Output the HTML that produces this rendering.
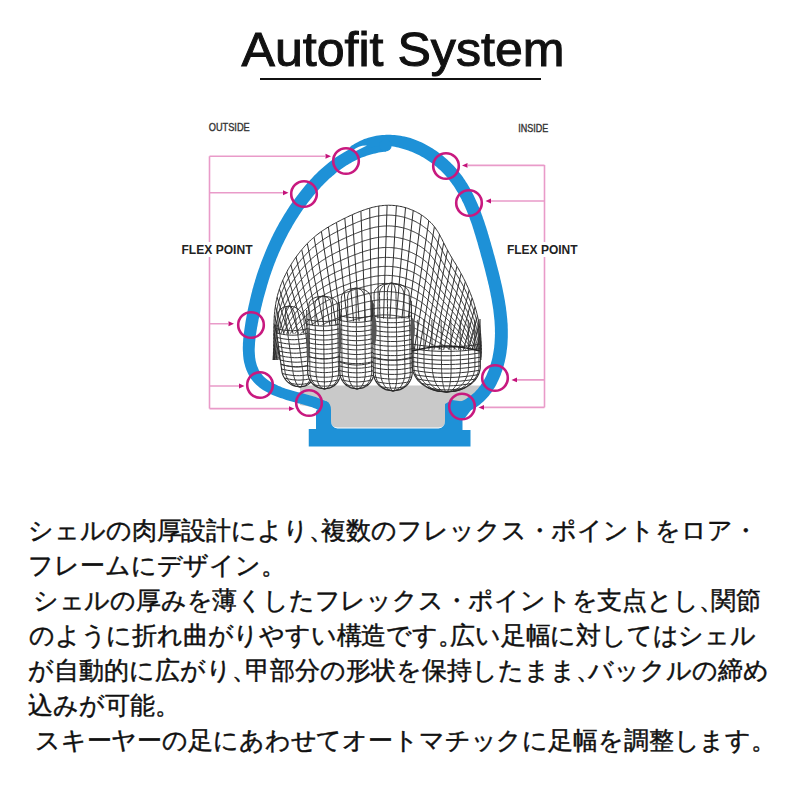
<!DOCTYPE html>
<html><head><meta charset="utf-8">
<style>
html,body{margin:0;padding:0;background:#fff;width:800px;height:800px;overflow:hidden}
body{position:relative;font-family:"Liberation Sans",sans-serif}
svg{position:absolute;left:0;top:0}
.p{margin-right:-12.5px}
.jp{position:absolute;left:28px;font-size:25px;line-height:25px;color:#111;white-space:nowrap;-webkit-text-stroke:0.45px #111}
</style></head><body>
<svg width="800" height="800" viewBox="0 0 800 800">
  <text x="241.5" y="65.6" font-family="Liberation Sans" font-size="49" fill="#111" stroke="#111" stroke-width="1" textLength="323" lengthAdjust="spacingAndGlyphs">Autofit System</text>
  <rect x="260" y="78" width="281" height="2" fill="#111"/>
  <!-- pink bracket lines -->
  <g stroke="#e99bc9" stroke-width="1.6" fill="none">
    <path d="M209.5 156.25V408.6"/>
    <path d="M209.5 156.25H325M209.5 192.75H283M209.5 323.75H228M209.5 386H239M209.5 408.65H289"/>
    <path d="M544.5 165V407.4"/>
    <path d="M544.5 165.4H468M544.5 201H491M544.5 379.9H517M544.5 407.4H484"/>
  </g>
  <g fill="#c4127a">
    <path d="M331 156.25l-5.5 -2.4v4.8z"/>
    <path d="M288.5 192.75l-5.5 -2.4v4.8z"/>
    <path d="M234 323.75l-5.5 -2.4v4.8z"/>
    <path d="M244.5 386l-5.5 -2.4v4.8z"/>
    <path d="M294.5 408.65l-5.5 -2.4v4.8z"/>
    <path d="M462 165.4l5.5 -2.4v4.8z"/>
    <path d="M485.5 201l5.5 -2.4v4.8z"/>
    <path d="M511.5 379.9l5.5 -2.4v4.8z"/>
    <path d="M478.5 407.4l5.5 -2.4v4.8z"/>
  </g>
  <rect x="178" y="242" width="78" height="15" fill="#fff"/>
  <rect x="503" y="242" width="78" height="15" fill="#fff"/>
  <text x="181.5" y="254.4" font-family="Liberation Sans" font-weight="bold" font-size="13.7" fill="#222" textLength="71" lengthAdjust="spacingAndGlyphs">FLEX POINT</text>
  <text x="507" y="254.4" font-family="Liberation Sans" font-weight="bold" font-size="13.7" fill="#222" textLength="70.5" lengthAdjust="spacingAndGlyphs">FLEX POINT</text>
  <text x="208.75" y="131.3" font-family="Liberation Sans" font-size="10.2" fill="#333" stroke="#333" stroke-width="0.35" textLength="41" lengthAdjust="spacingAndGlyphs">OUTSIDE</text>
  <text x="518.3" y="131.7" font-family="Liberation Sans" font-size="10.2" fill="#333" stroke="#333" stroke-width="0.35" textLength="30" lengthAdjust="spacingAndGlyphs">INSIDE</text>
  <!-- gray insole -->
  <path d="M300 385.5H480V402L445 412V421Q445 427.5 438.5 427.5H337.5Q331 427.5 331 421V410L300 405Z" fill="#c9c9c9"/>
  <!--FOOT--><g id="foot">
<path d="M273.0,360.0L273.1,358.6L273.2,357.2L273.3,355.9L273.4,354.5L273.4,353.1L273.5,351.7L273.5,350.3L273.6,349.0L273.6,347.6L273.6,346.2L273.6,344.8L273.7,343.4L273.7,342.1L273.7,340.7L273.7,339.3L273.7,337.9L273.7,336.5L273.7,335.1L273.7,333.8L273.8,332.4L273.8,331.0L273.8,329.6L273.8,328.2L273.8,326.9L273.9,325.5L273.9,324.1L274.0,322.7L274.0,321.3L274.1,320.0L274.2,318.6L274.2,317.2L274.3,315.8L274.4,314.4L274.6,313.1L274.7,311.7L274.8,310.3L275.0,308.9L275.2,307.6L275.4,306.2L275.6,304.8L275.8,303.5L276.0,302.1L276.3,300.8L276.6,299.4L276.9,298.0L277.2,296.7L277.5,295.4L277.9,294.0L278.3,292.7L278.7,291.4L279.1,290.1L279.5,288.7L280.0,287.4L280.4,286.1L280.9,284.8L281.4,283.6L281.9,282.3L282.5,281.0L283.0,279.7L283.6,278.5L284.2,277.2L284.8,276.0L285.4,274.7L286.0,273.5L286.6,272.3L287.3,271.1L287.9,269.8L288.6,268.6L289.3,267.4L290.0,266.3L290.7,265.1L291.5,263.9L292.2,262.7L293.0,261.6L293.7,260.4L294.5,259.3L295.3,258.1L296.1,257.0L296.9,255.9L297.7,254.8L298.5,253.7L299.4,252.6L300.2,251.5L301.1,250.4L302.0,249.4L302.9,248.3L303.8,247.3L304.7,246.2L305.7,245.2L306.6,244.2L307.6,243.2L308.5,242.2L309.5,241.3L310.5,240.3L311.5,239.4L312.6,238.5L313.6,237.6L314.7,236.7L315.7,235.8L316.8,234.9L317.9,234.1L319.0,233.3L320.1,232.4L321.2,231.6L322.4,230.8L323.5,230.1L324.7,229.3L325.8,228.6L327.0,227.8L328.2,227.1L329.4,226.4L330.6,225.7L331.8,225.0L333.0,224.3L334.2,223.7L335.4,223.0L336.6,222.4L337.8,221.7L339.1,221.1L340.3,220.5L341.5,219.8L342.8,219.2L344.0,218.6L345.3,218.0L346.5,217.4L347.7,216.8L349.0,216.2L350.2,215.6L351.5,215.1L352.8,214.5L354.0,213.9L355.3,213.4L356.6,212.8L357.8,212.3L359.1,211.8L360.4,211.3L361.7,210.8L363.0,210.3L364.3,209.9L365.6,209.4L366.9,209.0L368.2,208.6L369.6,208.2L370.9,207.8L372.2,207.4L373.6,207.1L374.9,206.8L376.3,206.5L377.6,206.3L379.0,206.0L380.4,205.8L381.7,205.7L383.1,205.5L384.5,205.4L385.9,205.3L387.2,205.3L388.6,205.2L390.0,205.3L391.4,205.3L392.8,205.4L394.1,205.5L395.5,205.6L396.9,205.8L398.2,206.0L399.6,206.3L401.0,206.5L402.3,206.8L403.7,207.2L405.0,207.5L406.3,207.9L407.6,208.3L408.9,208.8L410.2,209.3L411.5,209.8L412.8,210.3L414.0,210.9L415.3,211.5L416.5,212.1L417.7,212.8L419.0,213.4L420.1,214.1L421.3,214.9L422.5,215.6L423.6,216.4L424.7,217.3L425.8,218.1L426.9,219.0L427.9,219.9L428.9,220.8L429.9,221.8L430.9,222.7L431.9,223.7L432.8,224.8L433.7,225.8L434.5,226.9L435.4,228.0L436.1,229.2L436.9,230.3L437.7,231.5L438.4,232.6L439.1,233.8L439.7,235.0L440.4,236.3L441.0,237.5L441.7,238.7L442.3,239.9L442.9,241.2L443.5,242.4L444.2,243.7L444.8,244.9L445.4,246.1L446.0,247.4L446.7,248.6L447.3,249.8L448.0,251.0L448.6,252.2L449.3,253.4L450.0,254.6L450.7,255.8L451.4,257.0L452.1,258.2L452.8,259.4L453.5,260.6L454.2,261.8L455.0,262.9L455.7,264.1L456.4,265.3L457.1,266.5L457.8,267.7L458.5,268.9L459.2,270.1L459.8,271.3L460.5,272.5L461.2,273.7L461.8,274.9L462.5,276.1L463.1,277.4L463.7,278.6L464.4,279.8L465.0,281.1L465.6,282.3L466.2,283.6L466.7,284.8L467.3,286.1L467.9,287.3L468.4,288.6L469.0,289.9L469.5,291.2L470.0,292.4L470.5,293.7L471.0,295.0L471.5,296.3L472.0,297.6L472.5,298.9L472.9,300.2L473.4,301.5L473.8,302.8L474.2,304.1L474.6,305.5L475.0,306.8L475.4,308.1L475.8,309.4L476.2,310.8L476.5,312.1L476.9,313.4L477.2,314.8L477.5,316.1L477.8,317.5L478.1,318.8L478.4,320.2L478.7,321.5L478.9,322.9L479.2,324.2L479.4,325.6L479.6,327.0L479.8,328.3L480.0,329.7L480.2,331.1L480.4,332.4L480.6,333.8L480.7,335.2L480.8,336.6L480.9,337.9L481.0,339.3L481.1,340.7L481.2,342.1L481.3,343.5L481.3,344.8L481.4,346.2L481.4,347.6L481.4,349.0L481.4,350.4L481.4,351.7L481.3,353.1L481.3,354.5L481.2,355.9L481.1,357.3L481.0,358.6L480.9,360.0Z" fill="#fff"/>
<clipPath id="dc"><path d="M273.0,360.0L273.1,358.6L273.2,357.2L273.3,355.9L273.4,354.5L273.4,353.1L273.5,351.7L273.5,350.3L273.6,349.0L273.6,347.6L273.6,346.2L273.6,344.8L273.7,343.4L273.7,342.1L273.7,340.7L273.7,339.3L273.7,337.9L273.7,336.5L273.7,335.1L273.7,333.8L273.8,332.4L273.8,331.0L273.8,329.6L273.8,328.2L273.8,326.9L273.9,325.5L273.9,324.1L274.0,322.7L274.0,321.3L274.1,320.0L274.2,318.6L274.2,317.2L274.3,315.8L274.4,314.4L274.6,313.1L274.7,311.7L274.8,310.3L275.0,308.9L275.2,307.6L275.4,306.2L275.6,304.8L275.8,303.5L276.0,302.1L276.3,300.8L276.6,299.4L276.9,298.0L277.2,296.7L277.5,295.4L277.9,294.0L278.3,292.7L278.7,291.4L279.1,290.1L279.5,288.7L280.0,287.4L280.4,286.1L280.9,284.8L281.4,283.6L281.9,282.3L282.5,281.0L283.0,279.7L283.6,278.5L284.2,277.2L284.8,276.0L285.4,274.7L286.0,273.5L286.6,272.3L287.3,271.1L287.9,269.8L288.6,268.6L289.3,267.4L290.0,266.3L290.7,265.1L291.5,263.9L292.2,262.7L293.0,261.6L293.7,260.4L294.5,259.3L295.3,258.1L296.1,257.0L296.9,255.9L297.7,254.8L298.5,253.7L299.4,252.6L300.2,251.5L301.1,250.4L302.0,249.4L302.9,248.3L303.8,247.3L304.7,246.2L305.7,245.2L306.6,244.2L307.6,243.2L308.5,242.2L309.5,241.3L310.5,240.3L311.5,239.4L312.6,238.5L313.6,237.6L314.7,236.7L315.7,235.8L316.8,234.9L317.9,234.1L319.0,233.3L320.1,232.4L321.2,231.6L322.4,230.8L323.5,230.1L324.7,229.3L325.8,228.6L327.0,227.8L328.2,227.1L329.4,226.4L330.6,225.7L331.8,225.0L333.0,224.3L334.2,223.7L335.4,223.0L336.6,222.4L337.8,221.7L339.1,221.1L340.3,220.5L341.5,219.8L342.8,219.2L344.0,218.6L345.3,218.0L346.5,217.4L347.7,216.8L349.0,216.2L350.2,215.6L351.5,215.1L352.8,214.5L354.0,213.9L355.3,213.4L356.6,212.8L357.8,212.3L359.1,211.8L360.4,211.3L361.7,210.8L363.0,210.3L364.3,209.9L365.6,209.4L366.9,209.0L368.2,208.6L369.6,208.2L370.9,207.8L372.2,207.4L373.6,207.1L374.9,206.8L376.3,206.5L377.6,206.3L379.0,206.0L380.4,205.8L381.7,205.7L383.1,205.5L384.5,205.4L385.9,205.3L387.2,205.3L388.6,205.2L390.0,205.3L391.4,205.3L392.8,205.4L394.1,205.5L395.5,205.6L396.9,205.8L398.2,206.0L399.6,206.3L401.0,206.5L402.3,206.8L403.7,207.2L405.0,207.5L406.3,207.9L407.6,208.3L408.9,208.8L410.2,209.3L411.5,209.8L412.8,210.3L414.0,210.9L415.3,211.5L416.5,212.1L417.7,212.8L419.0,213.4L420.1,214.1L421.3,214.9L422.5,215.6L423.6,216.4L424.7,217.3L425.8,218.1L426.9,219.0L427.9,219.9L428.9,220.8L429.9,221.8L430.9,222.7L431.9,223.7L432.8,224.8L433.7,225.8L434.5,226.9L435.4,228.0L436.1,229.2L436.9,230.3L437.7,231.5L438.4,232.6L439.1,233.8L439.7,235.0L440.4,236.3L441.0,237.5L441.7,238.7L442.3,239.9L442.9,241.2L443.5,242.4L444.2,243.7L444.8,244.9L445.4,246.1L446.0,247.4L446.7,248.6L447.3,249.8L448.0,251.0L448.6,252.2L449.3,253.4L450.0,254.6L450.7,255.8L451.4,257.0L452.1,258.2L452.8,259.4L453.5,260.6L454.2,261.8L455.0,262.9L455.7,264.1L456.4,265.3L457.1,266.5L457.8,267.7L458.5,268.9L459.2,270.1L459.8,271.3L460.5,272.5L461.2,273.7L461.8,274.9L462.5,276.1L463.1,277.4L463.7,278.6L464.4,279.8L465.0,281.1L465.6,282.3L466.2,283.6L466.7,284.8L467.3,286.1L467.9,287.3L468.4,288.6L469.0,289.9L469.5,291.2L470.0,292.4L470.5,293.7L471.0,295.0L471.5,296.3L472.0,297.6L472.5,298.9L472.9,300.2L473.4,301.5L473.8,302.8L474.2,304.1L474.6,305.5L475.0,306.8L475.4,308.1L475.8,309.4L476.2,310.8L476.5,312.1L476.9,313.4L477.2,314.8L477.5,316.1L477.8,317.5L478.1,318.8L478.4,320.2L478.7,321.5L478.9,322.9L479.2,324.2L479.4,325.6L479.6,327.0L479.8,328.3L480.0,329.7L480.2,331.1L480.4,332.4L480.6,333.8L480.7,335.2L480.8,336.6L480.9,337.9L481.0,339.3L481.1,340.7L481.2,342.1L481.3,343.5L481.3,344.8L481.4,346.2L481.4,347.6L481.4,349.0L481.4,350.4L481.4,351.7L481.3,353.1L481.3,354.5L481.2,355.9L481.1,357.3L481.0,358.6L480.9,360.0Z"/></clipPath>
<g clip-path="url(#dc)">
<path d="M273.5,350.7L277.7,385.0M273.7,342.4L281.9,385.0M273.7,333.1L286.6,385.0M273.9,323.8L291.2,385.0M274.4,315.5L295.4,385.0M275.3,306.2L300.1,385.0M277.1,297.1L304.8,385.0M279.4,289.1L309.0,385.0M282.7,280.4L313.7,385.0M286.8,272.0L318.4,385.0M290.9,264.9L322.5,385.0M296.0,257.1L327.2,385.0M301.7,249.7L331.9,385.0M307.3,243.6L336.1,385.0M314.0,237.2L340.8,385.0M321.4,231.5L345.5,385.0M328.4,227.0L349.6,385.0M336.5,222.4L354.3,385.0M344.8,218.2L359.0,385.0M352.3,214.7L363.2,385.0M360.9,211.1L367.9,385.0M369.7,208.1L372.6,385.0M378.8,206.1L377.3,385.0M387.1,205.3L381.4,385.0M396.4,205.8L386.1,385.0M405.5,207.7L390.8,385.0M413.2,210.5L395.0,385.0M421.4,215.0L399.7,385.0M428.8,220.7L404.4,385.0M434.4,226.7L408.5,385.0M439.5,234.5L413.2,385.0M443.7,242.8L417.9,385.0M447.5,250.2L422.1,385.0M452.2,258.3L426.8,385.0M456.9,266.3L431.5,385.0M461.1,273.5L435.6,385.0M465.3,281.8L440.3,385.0M469.1,290.3L445.0,385.0M472.1,298.0L449.2,385.0M475.1,306.8L453.9,385.0M477.5,315.8L458.6,385.0M479.1,323.9L462.8,385.0M480.5,333.2L467.4,385.0M481.2,342.4L472.1,385.0M481.4,350.7L476.3,385.0M273.0,361.4L273.1,360.4L273.2,359.4L273.3,358.4L273.4,357.5L273.5,356.5L273.5,355.5L273.6,354.5L273.7,353.6L273.7,352.6L273.8,351.6L273.9,350.6L273.9,349.6L274.0,348.7L274.0,347.7L274.0,346.7L274.1,345.7L274.1,344.8L274.2,343.8L274.2,342.8L274.2,341.8L274.3,340.8L274.3,339.9L274.3,338.9L274.4,337.9L274.4,336.9L274.5,336.0L274.5,335.0L274.5,334.0L274.6,333.0L274.6,332.0L274.7,331.1L274.7,330.1L274.8,329.1L274.8,328.1L274.9,327.1L274.9,326.2L275.0,325.2L275.1,324.2L275.2,323.2L275.2,322.3L275.3,321.3L275.4,320.3L275.5,319.3L275.6,318.4L275.7,317.4L275.8,316.4L276.0,315.4L276.1,314.5L276.2,313.5L276.4,312.5L276.5,311.5L276.7,310.6L276.9,309.6L277.1,308.6L277.3,307.7L277.5,306.7L277.7,305.8L277.9,304.8L278.1,303.8L278.4,302.9L278.6,301.9L278.9,301.0L279.2,300.0L279.4,299.1L279.7,298.1L280.0,297.2L280.4,296.3L280.7,295.3L281.0,294.4L281.4,293.5L281.7,292.6L282.1,291.6L282.4,290.7L282.8,289.8L283.2,288.9L283.6,288.0L284.0,287.1L284.4,286.2L284.8,285.3L285.3,284.4L285.7,283.5L286.1,282.6L286.6,281.7L287.1,280.9L287.5,280.0L288.0,279.1L288.5,278.2L289.0,277.4L289.5,276.5L290.0,275.7L290.5,274.8L291.0,274.0L291.5,273.1L292.1,272.3L292.6,271.5L293.2,270.6L293.7,269.8L294.3,269.0L294.8,268.2L295.4,267.3L296.0,266.5L296.6,265.7L297.1,264.9L297.7,264.1L298.3,263.3L298.9,262.5L299.6,261.8L300.2,261.0L300.8,260.2L301.4,259.4L302.1,258.7L302.7,257.9L303.4,257.2L304.0,256.4L304.7,255.7L305.4,254.9L306.1,254.2L306.7,253.5L307.4,252.8L308.1,252.0L308.8,251.3L309.6,250.6L310.3,249.9L311.0,249.3L311.7,248.6L312.5,247.9L313.2,247.2L314.0,246.6L314.7,246.0L315.5,245.3L316.3,244.7L317.1,244.1L317.9,243.5L318.7,242.8L319.5,242.3L320.3,241.7L321.1,241.1L321.9,240.5L322.8,239.9L323.6,239.4L324.4,238.8L325.3,238.3L326.1,237.8L327.0,237.2L327.8,236.7L328.7,236.2L329.6,235.7L330.4,235.2L331.3,234.7L332.2,234.2L333.0,233.7L333.9,233.2L334.8,232.8L335.7,232.3L336.6,231.8L337.5,231.4L338.4,230.9L339.3,230.5L340.2,230.0L341.1,229.6L342.0,229.1L342.9,228.7L343.8,228.3L344.7,227.8L345.6,227.4L346.5,227.0L347.4,226.5L348.3,226.1L349.2,225.7L350.2,225.3L351.1,224.9L352.0,224.5L352.9,224.1L353.8,223.7L354.8,223.3L355.7,222.9L356.6,222.5L357.5,222.1L358.5,221.7L359.4,221.4L360.3,221.0L361.3,220.7L362.2,220.3L363.2,220.0L364.1,219.7L365.1,219.3L366.0,219.0L367.0,218.7L368.0,218.4L368.9,218.1L369.9,217.9L370.9,217.6L371.8,217.3L372.8,217.1L373.8,216.9L374.8,216.6L375.8,216.4L376.7,216.2L377.7,216.1L378.7,215.9L379.7,215.8L380.7,215.6L381.7,215.5L382.7,215.4L383.7,215.3L384.7,215.2L385.7,215.2L386.7,215.1L387.8,215.1L388.8,215.1L389.8,215.1L390.8,215.2L391.8,215.2L392.8,215.3L393.8,215.4L394.8,215.5L395.8,215.6L396.8,215.8L397.8,215.9L398.8,216.1L399.8,216.3L400.7,216.5L401.7,216.7L402.7,216.9L403.7,217.2L404.7,217.4L405.6,217.7L406.6,218.0L407.5,218.3L408.5,218.7L409.4,219.0L410.4,219.4L411.3,219.7L412.2,220.1L413.1,220.5L414.1,220.9L415.0,221.4L415.9,221.8L416.8,222.3L417.6,222.8L418.5,223.3L419.4,223.8L420.2,224.3L421.1,224.8L421.9,225.4L422.7,226.0L423.5,226.6L424.3,227.2L425.1,227.8L425.9,228.4L426.7,229.0L427.4,229.7L428.2,230.4L428.9,231.0L429.6,231.7L430.3,232.5L431.0,233.2L431.7,233.9L432.3,234.7L433.0,235.4L433.6,236.2L434.2,237.0L434.8,237.8L435.3,238.6L435.9,239.5L436.5,240.3L437.0,241.1L437.5,242.0L438.0,242.8L438.5,243.7L439.0,244.5L439.5,245.4L440.0,246.3L440.5,247.1L440.9,248.0L441.4,248.9L441.9,249.8L442.3,250.6L442.8,251.5L443.3,252.4L443.7,253.3L444.2,254.1L444.7,255.0L445.1,255.9L445.6,256.7L446.1,257.6L446.6,258.5L447.1,259.3L447.6,260.2L448.1,261.0L448.7,261.9L449.2,262.7L449.7,263.6L450.2,264.4L450.8,265.2L451.3,266.1L451.8,266.9L452.4,267.8L452.9,268.6L453.4,269.4L454.0,270.3L454.5,271.1L455.0,272.0L455.5,272.8L456.1,273.6L456.6,274.5L457.1,275.3L457.6,276.2L458.1,277.0L458.7,277.9L459.2,278.7L459.7,279.6L460.2,280.5L460.6,281.3L461.1,282.2L461.6,283.1L462.1,283.9L462.6,284.8L463.0,285.7L463.5,286.5L463.9,287.4L464.4,288.3L464.8,289.2L465.3,290.1L465.7,291.0L466.1,291.9L466.6,292.8L467.0,293.7L467.4,294.6L467.8,295.5L468.2,296.4L468.6,297.3L469.0,298.2L469.4,299.1L469.8,300.0L470.1,300.9L470.5,301.8L470.9,302.8L471.2,303.7L471.6,304.6L471.9,305.5L472.3,306.5L472.6,307.4L472.9,308.3L473.3,309.2L473.6,310.2L473.9,311.1L474.2,312.1L474.5,313.0L474.8,313.9L475.1,314.9L475.4,315.8L475.6,316.8L475.9,317.7L476.2,318.7L476.4,319.6L476.7,320.6L476.9,321.5L477.1,322.5L477.4,323.4L477.6,324.4L477.8,325.4L478.0,326.3L478.2,327.3L478.4,328.3L478.6,329.2L478.8,330.2L479.0,331.2L479.1,332.1L479.3,333.1L479.5,334.1L479.6,335.0L479.8,336.0L479.9,337.0L480.0,337.9L480.1,338.9L480.3,339.9L480.4,340.9L480.5,341.8L480.6,342.8L480.6,343.8L480.7,344.8L480.8,345.8L480.9,346.7L480.9,347.7L481.0,348.7L481.0,349.7L481.0,350.6L481.1,351.6L481.1,352.6L481.1,353.6L481.1,354.6L481.1,355.5L481.1,356.5L481.1,357.5L481.1,358.5L481.0,359.4L481.0,360.4L480.9,361.4M273.0,362.9L273.1,362.0L273.3,361.0L273.4,360.1L273.5,359.2L273.6,358.3L273.7,357.4L273.8,356.5L273.9,355.6L274.0,354.6L274.1,353.7L274.2,352.8L274.2,351.9L274.3,351.0L274.4,350.1L274.5,349.1L274.5,348.2L274.6,347.3L274.7,346.4L274.8,345.5L274.8,344.6L274.9,343.6L275.0,342.7L275.0,341.8L275.1,340.9L275.2,340.0L275.2,339.1L275.3,338.1L275.4,337.2L275.4,336.3L275.5,335.4L275.6,334.5L275.7,333.6L275.7,332.7L275.8,331.7L275.9,330.8L276.0,329.9L276.1,329.0L276.2,328.1L276.3,327.2L276.4,326.2L276.5,325.3L276.7,324.4L276.8,323.5L276.9,322.6L277.0,321.7L277.2,320.8L277.3,319.8L277.5,318.9L277.7,318.0L277.8,317.1L278.0,316.2L278.2,315.3L278.4,314.4L278.6,313.5L278.8,312.6L279.0,311.7L279.3,310.8L279.5,309.9L279.8,309.0L280.0,308.1L280.3,307.2L280.6,306.3L280.9,305.4L281.2,304.5L281.5,303.7L281.8,302.8L282.1,301.9L282.4,301.0L282.8,300.2L283.1,299.3L283.5,298.4L283.9,297.6L284.3,296.7L284.6,295.8L285.0,295.0L285.4,294.1L285.9,293.3L286.3,292.5L286.7,291.6L287.1,290.8L287.6,289.9L288.0,289.1L288.5,288.3L288.9,287.5L289.4,286.7L289.9,285.8L290.4,285.0L290.9,284.2L291.4,283.4L291.9,282.6L292.4,281.8L292.9,281.0L293.4,280.2L294.0,279.5L294.5,278.7L295.1,277.9L295.6,277.1L296.2,276.3L296.7,275.6L297.3,274.8L297.9,274.1L298.4,273.3L299.0,272.5L299.6,271.8L300.2,271.1L300.8,270.3L301.4,269.6L302.0,268.9L302.7,268.1L303.3,267.4L303.9,266.7L304.5,266.0L305.2,265.3L305.8,264.6L306.5,263.9L307.2,263.2L307.8,262.5L308.5,261.8L309.2,261.1L309.9,260.5L310.6,259.8L311.3,259.2L312.0,258.5L312.7,257.9L313.4,257.2L314.1,256.6L314.9,256.0L315.6,255.4L316.4,254.8L317.1,254.2L317.9,253.6L318.7,253.0L319.4,252.4L320.2,251.9L321.0,251.3L321.8,250.8L322.6,250.2L323.4,249.7L324.2,249.2L325.0,248.6L325.8,248.1L326.7,247.6L327.5,247.1L328.3,246.6L329.1,246.1L330.0,245.6L330.8,245.2L331.7,244.7L332.5,244.2L333.4,243.8L334.2,243.3L335.1,242.9L336.0,242.4L336.8,242.0L337.7,241.6L338.5,241.1L339.4,240.7L340.3,240.3L341.2,239.8L342.0,239.4L342.9,239.0L343.8,238.6L344.7,238.2L345.6,237.8L346.4,237.4L347.3,237.0L348.2,236.6L349.1,236.2L350.0,235.8L350.9,235.4L351.8,235.0L352.7,234.7L353.6,234.3L354.5,233.9L355.4,233.5L356.3,233.2L357.2,232.8L358.1,232.5L359.0,232.1L359.9,231.8L360.8,231.4L361.7,231.1L362.6,230.8L363.5,230.5L364.5,230.1L365.4,229.8L366.3,229.6L367.3,229.3L368.2,229.0L369.1,228.7L370.1,228.5L371.0,228.2L371.9,228.0L372.9,227.8L373.8,227.5L374.8,227.3L375.8,227.1L376.7,227.0L377.7,226.8L378.6,226.6L379.6,226.5L380.6,226.4L381.5,226.3L382.5,226.2L383.5,226.1L384.5,226.0L385.4,226.0L386.4,225.9L387.4,225.9L388.4,225.9L389.3,225.9L390.3,226.0L391.3,226.0L392.3,226.1L393.2,226.2L394.2,226.3L395.2,226.4L396.1,226.5L397.1,226.6L398.1,226.8L399.0,227.0L400.0,227.2L400.9,227.4L401.9,227.6L402.8,227.8L403.8,228.1L404.7,228.3L405.6,228.6L406.6,228.9L407.5,229.2L408.4,229.5L409.3,229.9L410.2,230.2L411.1,230.6L412.0,231.0L412.9,231.4L413.8,231.8L414.7,232.2L415.5,232.6L416.4,233.1L417.2,233.5L418.1,234.0L418.9,234.5L419.7,235.0L420.6,235.5L421.4,236.1L422.2,236.6L422.9,237.2L423.7,237.8L424.5,238.3L425.2,238.9L426.0,239.6L426.7,240.2L427.4,240.8L428.1,241.5L428.8,242.1L429.5,242.8L430.1,243.5L430.8,244.2L431.4,244.9L432.0,245.7L432.6,246.4L433.2,247.2L433.8,247.9L434.3,248.7L434.9,249.5L435.4,250.3L435.9,251.0L436.4,251.8L436.9,252.6L437.4,253.5L437.9,254.3L438.4,255.1L438.9,255.9L439.4,256.7L439.8,257.5L440.3,258.4L440.8,259.2L441.2,260.0L441.7,260.8L442.2,261.6L442.7,262.4L443.1,263.3L443.6,264.1L444.1,264.9L444.6,265.7L445.1,266.5L445.6,267.3L446.1,268.1L446.6,268.9L447.1,269.7L447.7,270.5L448.2,271.3L448.7,272.1L449.2,272.8L449.8,273.6L450.3,274.4L450.8,275.2L451.4,276.0L451.9,276.8L452.4,277.6L453.0,278.3L453.5,279.1L454.0,279.9L454.5,280.7L455.1,281.5L455.6,282.3L456.1,283.1L456.6,283.9L457.1,284.7L457.6,285.5L458.1,286.3L458.6,287.1L459.1,287.9L459.6,288.7L460.1,289.5L460.6,290.3L461.0,291.2L461.5,292.0L462.0,292.8L462.4,293.6L462.9,294.5L463.3,295.3L463.8,296.1L464.2,296.9L464.7,297.8L465.1,298.6L465.5,299.5L465.9,300.3L466.4,301.1L466.8,302.0L467.2,302.8L467.6,303.7L468.0,304.5L468.4,305.4L468.7,306.3L469.1,307.1L469.5,308.0L469.9,308.8L470.2,309.7L470.6,310.6L470.9,311.4L471.3,312.3L471.6,313.2L472.0,314.1L472.3,314.9L472.6,315.8L472.9,316.7L473.2,317.6L473.6,318.5L473.9,319.3L474.2,320.2L474.4,321.1L474.7,322.0L475.0,322.9L475.3,323.8L475.5,324.7L475.8,325.6L476.1,326.5L476.3,327.4L476.6,328.3L476.8,329.2L477.0,330.1L477.2,331.0L477.5,331.9L477.7,332.8L477.9,333.7L478.1,334.6L478.3,335.5L478.5,336.4L478.6,337.3L478.8,338.2L479.0,339.1L479.1,340.0L479.3,340.9L479.4,341.8L479.6,342.8L479.7,343.7L479.8,344.6L480.0,345.5L480.1,346.4L480.2,347.3L480.3,348.2L480.4,349.2L480.5,350.1L480.5,351.0L480.6,351.9L480.7,352.8L480.7,353.7L480.8,354.7L480.8,355.6L480.9,356.5L480.9,357.4L480.9,358.3L480.9,359.2L481.0,360.2L481.0,361.1L481.0,362.0L481.0,362.9M273.0,364.4L273.2,363.5L273.3,362.7L273.5,361.8L273.6,361.0L273.7,360.1L273.9,359.3L274.0,358.4L274.1,357.6L274.2,356.7L274.4,355.8L274.5,355.0L274.6,354.1L274.7,353.3L274.8,352.4L274.9,351.6L275.0,350.7L275.1,349.9L275.2,349.0L275.3,348.2L275.4,347.3L275.5,346.4L275.6,345.6L275.7,344.7L275.8,343.9L275.9,343.0L276.0,342.2L276.1,341.3L276.2,340.5L276.3,339.6L276.4,338.8L276.5,337.9L276.6,337.1L276.7,336.2L276.8,335.3L277.0,334.5L277.1,333.6L277.2,332.8L277.3,331.9L277.5,331.1L277.6,330.2L277.7,329.4L277.9,328.5L278.0,327.7L278.2,326.8L278.4,326.0L278.5,325.1L278.7,324.3L278.9,323.4L279.1,322.6L279.3,321.7L279.5,320.9L279.7,320.0L279.9,319.2L280.1,318.3L280.4,317.5L280.6,316.7L280.8,315.8L281.1,315.0L281.4,314.1L281.7,313.3L281.9,312.5L282.2,311.6L282.5,310.8L282.9,310.0L283.2,309.2L283.5,308.4L283.9,307.5L284.2,306.7L284.6,305.9L284.9,305.1L285.3,304.3L285.7,303.5L286.1,302.7L286.5,301.9L286.9,301.1L287.3,300.3L287.7,299.5L288.1,298.7L288.6,297.9L289.0,297.2L289.5,296.4L289.9,295.6L290.4,294.9L290.8,294.1L291.3,293.3L291.8,292.6L292.3,291.8L292.8,291.1L293.3,290.3L293.8,289.6L294.3,288.8L294.8,288.1L295.3,287.3L295.9,286.6L296.4,285.9L297.0,285.2L297.5,284.4L298.1,283.7L298.6,283.0L299.2,282.3L299.7,281.6L300.3,280.9L300.9,280.2L301.5,279.5L302.1,278.8L302.7,278.1L303.3,277.4L303.9,276.7L304.5,276.1L305.1,275.4L305.7,274.7L306.4,274.0L307.0,273.4L307.6,272.7L308.3,272.1L308.9,271.4L309.6,270.8L310.3,270.2L310.9,269.5L311.6,268.9L312.3,268.3L313.0,267.7L313.7,267.1L314.4,266.5L315.1,265.9L315.8,265.3L316.5,264.7L317.3,264.2L318.0,263.6L318.7,263.1L319.5,262.5L320.2,262.0L321.0,261.4L321.7,260.9L322.5,260.4L323.3,259.9L324.1,259.4L324.9,258.9L325.6,258.4L326.4,257.9L327.2,257.4L328.0,256.9L328.8,256.5L329.6,256.0L330.5,255.5L331.3,255.1L332.1,254.7L332.9,254.2L333.8,253.8L334.6,253.4L335.4,252.9L336.3,252.5L337.1,252.1L337.9,251.7L338.8,251.3L339.6,250.9L340.5,250.5L341.3,250.1L342.2,249.7L343.0,249.3L343.9,248.9L344.7,248.5L345.6,248.2L346.4,247.8L347.3,247.4L348.2,247.0L349.0,246.7L349.9,246.3L350.7,245.9L351.6,245.6L352.5,245.2L353.3,244.9L354.2,244.5L355.1,244.2L356.0,243.8L356.8,243.5L357.7,243.1L358.6,242.8L359.5,242.5L360.4,242.2L361.2,241.8L362.1,241.5L363.0,241.2L363.9,240.9L364.8,240.6L365.7,240.4L366.6,240.1L367.5,239.8L368.4,239.6L369.3,239.3L370.2,239.1L371.1,238.8L372.1,238.6L373.0,238.4L373.9,238.2L374.8,238.0L375.8,237.8L376.7,237.7L377.6,237.5L378.5,237.4L379.5,237.2L380.4,237.1L381.4,237.0L382.3,236.9L383.2,236.9L384.2,236.8L385.1,236.7L386.1,236.7L387.0,236.7L388.0,236.7L388.9,236.7L389.9,236.7L390.8,236.8L391.7,236.9L392.7,236.9L393.6,237.0L394.6,237.1L395.5,237.2L396.4,237.4L397.4,237.5L398.3,237.7L399.2,237.9L400.1,238.1L401.1,238.3L402.0,238.5L402.9,238.7L403.8,239.0L404.7,239.2L405.6,239.5L406.5,239.8L407.4,240.1L408.3,240.4L409.2,240.7L410.0,241.1L410.9,241.4L411.8,241.8L412.6,242.2L413.5,242.6L414.3,243.0L415.2,243.4L416.0,243.8L416.8,244.3L417.6,244.7L418.4,245.2L419.2,245.7L420.0,246.2L420.8,246.7L421.5,247.2L422.3,247.7L423.0,248.3L423.8,248.8L424.5,249.4L425.2,250.0L425.9,250.6L426.6,251.2L427.3,251.8L428.0,252.5L428.6,253.1L429.2,253.8L429.9,254.4L430.5,255.1L431.1,255.8L431.6,256.5L432.2,257.2L432.8,257.9L433.3,258.7L433.8,259.4L434.4,260.1L434.9,260.9L435.4,261.6L435.9,262.4L436.4,263.1L436.8,263.9L437.3,264.6L437.8,265.4L438.3,266.2L438.8,266.9L439.2,267.7L439.7,268.5L440.2,269.2L440.6,270.0L441.1,270.8L441.6,271.5L442.1,272.3L442.6,273.0L443.1,273.8L443.6,274.5L444.1,275.3L444.6,276.0L445.1,276.8L445.6,277.5L446.1,278.2L446.7,279.0L447.2,279.7L447.7,280.4L448.2,281.2L448.8,281.9L449.3,282.6L449.8,283.4L450.4,284.1L450.9,284.8L451.4,285.6L452.0,286.3L452.5,287.0L453.0,287.8L453.5,288.5L454.1,289.3L454.6,290.0L455.1,290.7L455.6,291.5L456.1,292.2L456.6,293.0L457.1,293.7L457.6,294.5L458.1,295.2L458.6,296.0L459.1,296.8L459.5,297.5L460.0,298.3L460.5,299.1L460.9,299.8L461.4,300.6L461.9,301.4L462.3,302.1L462.7,302.9L463.2,303.7L463.6,304.5L464.1,305.3L464.5,306.0L464.9,306.8L465.3,307.6L465.7,308.4L466.1,309.2L466.6,310.0L467.0,310.8L467.3,311.6L467.7,312.4L468.1,313.2L468.5,314.0L468.9,314.8L469.2,315.6L469.6,316.4L470.0,317.2L470.3,318.1L470.7,318.9L471.0,319.7L471.3,320.5L471.7,321.3L472.0,322.1L472.3,323.0L472.6,323.8L473.0,324.6L473.3,325.4L473.6,326.3L473.9,327.1L474.2,327.9L474.4,328.8L474.7,329.6L475.0,330.4L475.3,331.3L475.5,332.1L475.8,332.9L476.0,333.8L476.3,334.6L476.5,335.5L476.7,336.3L477.0,337.1L477.2,338.0L477.4,338.8L477.6,339.7L477.8,340.5L478.0,341.4L478.2,342.2L478.4,343.1L478.6,343.9L478.7,344.8L478.9,345.6L479.1,346.5L479.2,347.3L479.4,348.2L479.5,349.0L479.6,349.9L479.8,350.7L479.9,351.6L480.0,352.4L480.1,353.3L480.2,354.2L480.3,355.0L480.4,355.9L480.5,356.7L480.6,357.6L480.6,358.4L480.7,359.3L480.8,360.1L480.8,361.0L480.9,361.8L480.9,362.7L480.9,363.5L481.0,364.4M273.0,365.9L273.2,365.1L273.4,364.3L273.5,363.5L273.7,362.7L273.9,361.9L274.0,361.1L274.2,360.3L274.3,359.5L274.5,358.8L274.6,358.0L274.8,357.2L274.9,356.4L275.1,355.6L275.2,354.8L275.3,354.0L275.5,353.2L275.6,352.4L275.7,351.6L275.9,350.8L276.0,350.0L276.1,349.3L276.2,348.5L276.4,347.7L276.5,346.9L276.6,346.1L276.8,345.3L276.9,344.5L277.0,343.7L277.2,342.9L277.3,342.1L277.4,341.3L277.6,340.5L277.7,339.7L277.9,339.0L278.0,338.2L278.1,337.4L278.3,336.6L278.5,335.8L278.6,335.0L278.8,334.2L279.0,333.4L279.1,332.6L279.3,331.8L279.5,331.0L279.7,330.3L279.9,329.5L280.1,328.7L280.3,327.9L280.5,327.1L280.7,326.3L280.9,325.5L281.2,324.8L281.4,324.0L281.7,323.2L281.9,322.4L282.2,321.6L282.4,320.8L282.7,320.1L283.0,319.3L283.3,318.5L283.6,317.8L283.9,317.0L284.2,316.2L284.6,315.5L284.9,314.7L285.3,313.9L285.6,313.2L286.0,312.4L286.3,311.7L286.7,310.9L287.1,310.2L287.5,309.4L287.9,308.7L288.3,307.9L288.7,307.2L289.1,306.5L289.6,305.7L290.0,305.0L290.4,304.3L290.9,303.6L291.3,302.8L291.8,302.1L292.3,301.4L292.7,300.7L293.2,300.0L293.7,299.3L294.2,298.6L294.7,297.9L295.2,297.2L295.7,296.5L296.2,295.8L296.7,295.1L297.2,294.4L297.8,293.8L298.3,293.1L298.8,292.4L299.4,291.7L299.9,291.1L300.5,290.4L301.1,289.8L301.6,289.1L302.2,288.4L302.8,287.8L303.4,287.1L303.9,286.5L304.5,285.9L305.1,285.2L305.7,284.6L306.3,284.0L306.9,283.4L307.6,282.7L308.2,282.1L308.8,281.5L309.4,280.9L310.1,280.3L310.7,279.7L311.4,279.1L312.0,278.5L312.7,277.9L313.4,277.4L314.0,276.8L314.7,276.2L315.4,275.7L316.1,275.1L316.8,274.6L317.5,274.0L318.2,273.5L318.9,273.0L319.6,272.4L320.3,271.9L321.1,271.4L321.8,270.9L322.5,270.4L323.3,269.9L324.0,269.4L324.8,269.0L325.5,268.5L326.3,268.0L327.1,267.6L327.9,267.1L328.6,266.7L329.4,266.2L330.2,265.8L331.0,265.4L331.8,265.0L332.6,264.5L333.4,264.1L334.2,263.7L335.0,263.3L335.8,262.9L336.6,262.5L337.4,262.1L338.2,261.8L339.0,261.4L339.9,261.0L340.7,260.6L341.5,260.3L342.3,259.9L343.2,259.5L344.0,259.2L344.8,258.8L345.7,258.5L346.5,258.1L347.3,257.8L348.2,257.4L349.0,257.1L349.8,256.7L350.7,256.4L351.5,256.0L352.3,255.7L353.2,255.4L354.0,255.0L354.9,254.7L355.7,254.4L356.6,254.1L357.4,253.8L358.3,253.5L359.1,253.1L360.0,252.8L360.8,252.5L361.7,252.3L362.5,252.0L363.4,251.7L364.3,251.4L365.1,251.1L366.0,250.9L366.9,250.6L367.8,250.4L368.6,250.1L369.5,249.9L370.4,249.7L371.3,249.5L372.2,249.3L373.1,249.1L374.0,248.9L374.9,248.7L375.7,248.5L376.6,248.4L377.5,248.2L378.5,248.1L379.4,248.0L380.3,247.9L381.2,247.8L382.1,247.7L383.0,247.6L383.9,247.6L384.8,247.5L385.7,247.5L386.6,247.5L387.6,247.5L388.5,247.5L389.4,247.5L390.3,247.6L391.2,247.6L392.1,247.7L393.0,247.8L393.9,247.9L394.9,248.0L395.8,248.1L396.7,248.2L397.6,248.4L398.5,248.6L399.4,248.7L400.2,248.9L401.1,249.1L402.0,249.3L402.9,249.6L403.8,249.8L404.6,250.1L405.5,250.3L406.4,250.6L407.2,250.9L408.1,251.2L408.9,251.5L409.8,251.9L410.6,252.2L411.5,252.5L412.3,252.9L413.1,253.3L413.9,253.7L414.7,254.1L415.5,254.5L416.3,254.9L417.1,255.4L417.9,255.8L418.6,256.3L419.4,256.7L420.1,257.2L420.9,257.7L421.6,258.2L422.3,258.7L423.0,259.3L423.7,259.8L424.4,260.4L425.1,260.9L425.8,261.5L426.4,262.1L427.1,262.7L427.7,263.3L428.3,263.9L428.9,264.6L429.5,265.2L430.1,265.9L430.6,266.5L431.2,267.2L431.7,267.8L432.3,268.5L432.8,269.2L433.3,269.9L433.8,270.6L434.3,271.3L434.8,272.0L435.3,272.7L435.8,273.4L436.2,274.1L436.7,274.8L437.2,275.5L437.7,276.2L438.1,276.9L438.6,277.7L439.1,278.4L439.6,279.1L440.1,279.8L440.6,280.5L441.1,281.2L441.5,281.9L442.1,282.6L442.6,283.3L443.1,283.9L443.6,284.6L444.1,285.3L444.6,286.0L445.1,286.7L445.7,287.4L446.2,288.1L446.7,288.7L447.3,289.4L447.8,290.1L448.3,290.8L448.8,291.5L449.4,292.1L449.9,292.8L450.4,293.5L451.0,294.2L451.5,294.9L452.0,295.5L452.5,296.2L453.0,296.9L453.6,297.6L454.1,298.3L454.6,299.0L455.1,299.7L455.6,300.4L456.1,301.1L456.6,301.8L457.1,302.5L457.5,303.2L458.0,303.9L458.5,304.6L459.0,305.3L459.4,306.0L459.9,306.7L460.4,307.4L460.8,308.2L461.3,308.9L461.7,309.6L462.2,310.3L462.6,311.1L463.0,311.8L463.5,312.5L463.9,313.2L464.3,314.0L464.7,314.7L465.1,315.5L465.5,316.2L465.9,316.9L466.3,317.7L466.7,318.4L467.1,319.2L467.5,319.9L467.9,320.7L468.3,321.4L468.6,322.2L469.0,322.9L469.4,323.7L469.7,324.4L470.1,325.2L470.4,326.0L470.8,326.7L471.1,327.5L471.4,328.2L471.8,329.0L472.1,329.8L472.4,330.5L472.7,331.3L473.0,332.1L473.3,332.8L473.6,333.6L473.9,334.4L474.2,335.2L474.5,335.9L474.7,336.7L475.0,337.5L475.3,338.3L475.5,339.1L475.8,339.8L476.0,340.6L476.3,341.4L476.5,342.2L476.8,343.0L477.0,343.8L477.2,344.5L477.4,345.3L477.6,346.1L477.8,346.9L478.0,347.7L478.2,348.5L478.4,349.3L478.6,350.1L478.8,350.9L478.9,351.6L479.1,352.4L479.2,353.2L479.4,354.0L479.5,354.8L479.7,355.6L479.8,356.4L479.9,357.2L480.1,358.0L480.2,358.8L480.3,359.6L480.4,360.4L480.5,361.2L480.6,361.9L480.7,362.7L480.8,363.5L480.8,364.3L480.9,365.1L481.0,365.9M273.0,367.2L273.2,366.5L273.4,365.8L273.6,365.1L273.8,364.3L274.0,363.6L274.2,362.8L274.4,362.1L274.5,361.4L274.7,360.6L274.9,359.9L275.1,359.2L275.2,358.4L275.4,357.7L275.6,357.0L275.7,356.2L275.9,355.5L276.0,354.8L276.2,354.0L276.4,353.3L276.5,352.6L276.7,351.8L276.8,351.1L277.0,350.4L277.1,349.6L277.3,348.9L277.5,348.1L277.6,347.4L277.8,346.7L277.9,345.9L278.1,345.2L278.3,344.5L278.4,343.7L278.6,343.0L278.8,342.3L279.0,341.5L279.1,340.8L279.3,340.1L279.5,339.3L279.7,338.6L279.9,337.9L280.1,337.1L280.3,336.4L280.5,335.7L280.7,334.9L280.9,334.2L281.1,333.5L281.3,332.7L281.6,332.0L281.8,331.3L282.0,330.5L282.3,329.8L282.5,329.1L282.8,328.4L283.1,327.6L283.3,326.9L283.6,326.2L283.9,325.5L284.2,324.7L284.5,324.0L284.8,323.3L285.1,322.6L285.5,321.9L285.8,321.2L286.1,320.5L286.5,319.7L286.8,319.0L287.2,318.3L287.6,317.6L288.0,316.9L288.4,316.2L288.7,315.5L289.1,314.9L289.6,314.2L290.0,313.5L290.4,312.8L290.8,312.1L291.2,311.4L291.7,310.8L292.1,310.1L292.6,309.4L293.0,308.7L293.5,308.1L294.0,307.4L294.5,306.8L294.9,306.1L295.4,305.4L295.9,304.8L296.4,304.1L296.9,303.5L297.4,302.9L297.9,302.2L298.5,301.6L299.0,301.0L299.5,300.3L300.0,299.7L300.6,299.1L301.1,298.4L301.7,297.8L302.2,297.2L302.8,296.6L303.4,296.0L303.9,295.4L304.5,294.8L305.1,294.2L305.7,293.6L306.2,293.0L306.8,292.4L307.4,291.8L308.0,291.2L308.6,290.7L309.2,290.1L309.9,289.5L310.5,288.9L311.1,288.4L311.7,287.8L312.4,287.3L313.0,286.7L313.6,286.2L314.3,285.6L314.9,285.1L315.6,284.6L316.3,284.0L316.9,283.5L317.6,283.0L318.3,282.5L319.0,282.0L319.7,281.5L320.4,281.0L321.1,280.5L321.8,280.1L322.5,279.6L323.2,279.1L324.0,278.7L324.7,278.2L325.4,277.8L326.2,277.3L326.9,276.9L327.7,276.4L328.4,276.0L329.2,275.6L329.9,275.2L330.7,274.8L331.4,274.4L332.2,274.0L333.0,273.6L333.8,273.2L334.5,272.8L335.3,272.4L336.1,272.1L336.9,271.7L337.7,271.3L338.5,271.0L339.3,270.6L340.1,270.3L340.9,269.9L341.7,269.6L342.5,269.2L343.3,268.9L344.1,268.6L344.9,268.2L345.7,267.9L346.5,267.6L347.3,267.2L348.1,266.9L348.9,266.6L349.7,266.3L350.6,265.9L351.4,265.6L352.2,265.3L353.0,265.0L353.8,264.7L354.6,264.4L355.5,264.1L356.3,263.8L357.1,263.5L357.9,263.2L358.8,262.9L359.6,262.6L360.4,262.3L361.3,262.1L362.1,261.8L362.9,261.5L363.8,261.3L364.6,261.0L365.5,260.8L366.3,260.5L367.1,260.3L368.0,260.1L368.8,259.8L369.7,259.6L370.6,259.4L371.4,259.2L372.3,259.0L373.1,258.8L374.0,258.7L374.9,258.5L375.7,258.4L376.6,258.2L377.5,258.1L378.4,258.0L379.2,257.8L380.1,257.7L381.0,257.7L381.9,257.6L382.8,257.5L383.7,257.5L384.5,257.4L385.4,257.4L386.3,257.4L387.2,257.4L388.1,257.4L389.0,257.4L389.9,257.5L390.7,257.5L391.6,257.6L392.5,257.6L393.4,257.7L394.3,257.8L395.1,258.0L396.0,258.1L396.9,258.2L397.8,258.4L398.6,258.5L399.5,258.7L400.4,258.9L401.2,259.1L402.1,259.3L402.9,259.5L403.8,259.8L404.6,260.0L405.5,260.3L406.3,260.5L407.1,260.8L407.9,261.1L408.8,261.4L409.6,261.7L410.4,262.1L411.2,262.4L412.0,262.8L412.8,263.1L413.6,263.5L414.3,263.9L415.1,264.3L415.9,264.7L416.6,265.1L417.4,265.5L418.1,266.0L418.9,266.4L419.6,266.9L420.3,267.3L421.0,267.8L421.7,268.3L422.4,268.8L423.1,269.3L423.7,269.9L424.4,270.4L425.0,270.9L425.7,271.5L426.3,272.1L426.9,272.6L427.5,273.2L428.1,273.8L428.6,274.4L429.2,275.0L429.7,275.6L430.3,276.3L430.8,276.9L431.3,277.5L431.9,278.2L432.4,278.8L432.9,279.5L433.4,280.1L433.8,280.8L434.3,281.4L434.8,282.1L435.3,282.7L435.8,283.4L436.3,284.1L436.7,284.7L437.2,285.4L437.7,286.0L438.2,286.7L438.7,287.3L439.2,288.0L439.7,288.6L440.1,289.3L440.7,289.9L441.2,290.6L441.7,291.2L442.2,291.9L442.7,292.5L443.2,293.1L443.7,293.8L444.3,294.4L444.8,295.0L445.3,295.7L445.9,296.3L446.4,296.9L446.9,297.5L447.4,298.2L448.0,298.8L448.5,299.4L449.0,300.1L449.6,300.7L450.1,301.3L450.6,302.0L451.1,302.6L451.6,303.2L452.2,303.9L452.7,304.5L453.2,305.2L453.7,305.8L454.2,306.5L454.7,307.1L455.2,307.8L455.7,308.4L456.2,309.1L456.6,309.7L457.1,310.4L457.6,311.0L458.1,311.7L458.5,312.4L459.0,313.0L459.5,313.7L459.9,314.4L460.4,315.0L460.8,315.7L461.3,316.4L461.7,317.1L462.1,317.7L462.6,318.4L463.0,319.1L463.4,319.8L463.8,320.5L464.3,321.1L464.7,321.8L465.1,322.5L465.5,323.2L465.9,323.9L466.3,324.6L466.7,325.3L467.1,326.0L467.4,326.7L467.8,327.4L468.2,328.1L468.6,328.8L468.9,329.5L469.3,330.2L469.6,330.9L470.0,331.6L470.3,332.3L470.7,333.0L471.0,333.7L471.3,334.5L471.7,335.2L472.0,335.9L472.3,336.6L472.6,337.3L472.9,338.0L473.2,338.8L473.5,339.5L473.8,340.2L474.1,340.9L474.4,341.6L474.7,342.4L474.9,343.1L475.2,343.8L475.5,344.5L475.7,345.3L476.0,346.0L476.2,346.7L476.5,347.5L476.7,348.2L476.9,348.9L477.2,349.6L477.4,350.4L477.6,351.1L477.8,351.8L478.0,352.6L478.2,353.3L478.4,354.0L478.6,354.8L478.8,355.5L479.0,356.2L479.1,357.0L479.3,357.7L479.5,358.5L479.6,359.2L479.8,359.9L479.9,360.7L480.0,361.4L480.2,362.1L480.3,362.9L480.4,363.6L480.5,364.3L480.7,365.1L480.8,365.8L480.9,366.5L481.0,367.3M273.0,368.5L273.2,367.8L273.5,367.1L273.7,366.5L273.9,365.8L274.1,365.1L274.3,364.4L274.5,363.7L274.7,363.0L274.9,362.4L275.1,361.7L275.3,361.0L275.5,360.3L275.7,359.6L275.9,358.9L276.1,358.3L276.3,357.6L276.5,356.9L276.6,356.2L276.8,355.5L277.0,354.8L277.2,354.2L277.4,353.5L277.6,352.8L277.7,352.1L277.9,351.4L278.1,350.7L278.3,350.1L278.5,349.4L278.7,348.7L278.8,348.0L279.0,347.3L279.2,346.6L279.4,346.0L279.6,345.3L279.8,344.6L280.0,343.9L280.2,343.2L280.4,342.5L280.6,341.9L280.9,341.2L281.1,340.5L281.3,339.8L281.5,339.1L281.7,338.5L282.0,337.8L282.2,337.1L282.5,336.4L282.7,335.7L283.0,335.1L283.2,334.4L283.5,333.7L283.8,333.0L284.0,332.3L284.3,331.7L284.6,331.0L284.9,330.3L285.2,329.7L285.5,329.0L285.9,328.3L286.2,327.6L286.5,327.0L286.9,326.3L287.2,325.7L287.6,325.0L287.9,324.3L288.3,323.7L288.7,323.0L289.1,322.4L289.4,321.7L289.8,321.1L290.2,320.4L290.7,319.8L291.1,319.2L291.5,318.5L291.9,317.9L292.3,317.2L292.8,316.6L293.2,316.0L293.7,315.4L294.1,314.7L294.6,314.1L295.1,313.5L295.5,312.9L296.0,312.3L296.5,311.7L297.0,311.0L297.5,310.4L298.0,309.8L298.5,309.2L299.0,308.6L299.5,308.1L300.0,307.5L300.6,306.9L301.1,306.3L301.6,305.7L302.2,305.1L302.7,304.5L303.3,304.0L303.8,303.4L304.4,302.8L304.9,302.3L305.5,301.7L306.1,301.1L306.6,300.6L307.2,300.0L307.8,299.5L308.4,298.9L309.0,298.4L309.6,297.8L310.2,297.3L310.8,296.8L311.4,296.2L312.0,295.7L312.6,295.2L313.2,294.7L313.8,294.2L314.5,293.6L315.1,293.1L315.8,292.6L316.4,292.1L317.1,291.6L317.7,291.2L318.4,290.7L319.0,290.2L319.7,289.7L320.4,289.3L321.1,288.8L321.7,288.3L322.4,287.9L323.1,287.4L323.8,287.0L324.5,286.6L325.2,286.1L326.0,285.7L326.7,285.3L327.4,284.9L328.1,284.5L328.9,284.1L329.6,283.7L330.3,283.3L331.1,282.9L331.8,282.5L332.6,282.2L333.3,281.8L334.1,281.4L334.8,281.1L335.6,280.7L336.4,280.4L337.1,280.0L337.9,279.7L338.7,279.3L339.4,279.0L340.2,278.7L341.0,278.3L341.8,278.0L342.6,277.7L343.3,277.4L344.1,277.1L344.9,276.8L345.7,276.4L346.5,276.1L347.3,275.8L348.1,275.5L348.9,275.2L349.6,274.9L350.4,274.6L351.2,274.3L352.0,274.0L352.8,273.7L353.6,273.5L354.4,273.2L355.2,272.9L356.0,272.6L356.8,272.3L357.6,272.0L358.4,271.8L359.2,271.5L360.0,271.2L360.8,271.0L361.6,270.7L362.5,270.5L363.3,270.2L364.1,270.0L364.9,269.7L365.7,269.5L366.6,269.3L367.4,269.1L368.2,268.9L369.0,268.7L369.9,268.5L370.7,268.3L371.5,268.1L372.4,267.9L373.2,267.7L374.1,267.6L374.9,267.4L375.7,267.3L376.6,267.1L377.4,267.0L378.3,266.9L379.1,266.8L380.0,266.7L380.9,266.6L381.7,266.5L382.6,266.5L383.4,266.4L384.3,266.4L385.1,266.4L386.0,266.4L386.9,266.4L387.7,266.4L388.6,266.4L389.4,266.4L390.3,266.5L391.2,266.5L392.0,266.6L392.9,266.7L393.7,266.8L394.6,266.9L395.4,267.0L396.3,267.1L397.1,267.3L398.0,267.4L398.8,267.6L399.6,267.8L400.5,268.0L401.3,268.2L402.1,268.4L403.0,268.6L403.8,268.8L404.6,269.1L405.4,269.3L406.2,269.6L407.0,269.8L407.8,270.1L408.6,270.4L409.4,270.7L410.2,271.0L411.0,271.4L411.7,271.7L412.5,272.0L413.3,272.4L414.0,272.8L414.8,273.1L415.5,273.5L416.2,273.9L417.0,274.3L417.7,274.8L418.4,275.2L419.1,275.6L419.8,276.1L420.5,276.5L421.2,277.0L421.8,277.5L422.5,278.0L423.1,278.5L423.8,279.0L424.4,279.5L425.0,280.0L425.6,280.5L426.2,281.1L426.8,281.6L427.3,282.2L427.9,282.8L428.4,283.3L429.0,283.9L429.5,284.5L430.0,285.1L430.5,285.7L431.0,286.3L431.6,286.9L432.0,287.5L432.5,288.1L433.0,288.7L433.5,289.3L434.0,289.9L434.5,290.5L435.0,291.2L435.4,291.8L435.9,292.4L436.4,293.0L436.9,293.6L437.4,294.2L437.9,294.8L438.4,295.4L438.9,296.0L439.4,296.6L439.9,297.2L440.4,297.8L440.9,298.4L441.4,299.0L442.0,299.6L442.5,300.2L443.0,300.8L443.5,301.4L444.1,301.9L444.6,302.5L445.1,303.1L445.6,303.7L446.2,304.3L446.7,304.9L447.2,305.5L447.8,306.0L448.3,306.6L448.8,307.2L449.3,307.8L449.9,308.4L450.4,309.0L450.9,309.6L451.4,310.2L451.9,310.8L452.4,311.4L452.9,312.0L453.4,312.6L453.9,313.2L454.4,313.8L454.9,314.4L455.4,315.0L455.9,315.6L456.3,316.2L456.8,316.9L457.3,317.5L457.8,318.1L458.2,318.7L458.7,319.3L459.1,320.0L459.6,320.6L460.0,321.2L460.5,321.8L460.9,322.5L461.4,323.1L461.8,323.7L462.2,324.4L462.7,325.0L463.1,325.6L463.5,326.3L463.9,326.9L464.3,327.6L464.7,328.2L465.1,328.8L465.5,329.5L465.9,330.1L466.3,330.8L466.7,331.4L467.1,332.1L467.5,332.7L467.9,333.4L468.2,334.1L468.6,334.7L469.0,335.4L469.3,336.0L469.7,336.7L470.0,337.4L470.4,338.0L470.7,338.7L471.0,339.3L471.4,340.0L471.7,340.7L472.0,341.3L472.3,342.0L472.6,342.7L473.0,343.4L473.3,344.0L473.6,344.7L473.9,345.4L474.1,346.0L474.4,346.7L474.7,347.4L475.0,348.1L475.3,348.7L475.5,349.4L475.8,350.1L476.0,350.8L476.3,351.5L476.5,352.1L476.8,352.8L477.0,353.5L477.3,354.2L477.5,354.9L477.7,355.5L477.9,356.2L478.1,356.9L478.3,357.6L478.5,358.3L478.7,359.0L478.9,359.6L479.1,360.3L479.3,361.0L479.5,361.7L479.7,362.4L479.8,363.1L480.0,363.7L480.1,364.4L480.3,365.1L480.4,365.8L480.6,366.5L480.7,367.2L480.8,367.8L481.0,368.5M273.0,369.7L273.3,369.1L273.5,368.5L273.7,367.9L274.0,367.2L274.2,366.6L274.5,366.0L274.7,365.3L274.9,364.7L275.1,364.1L275.4,363.4L275.6,362.8L275.8,362.2L276.0,361.5L276.2,360.9L276.4,360.3L276.7,359.7L276.9,359.0L277.1,358.4L277.3,357.8L277.5,357.1L277.7,356.5L277.9,355.9L278.1,355.2L278.3,354.6L278.5,354.0L278.7,353.3L279.0,352.7L279.2,352.1L279.4,351.4L279.6,350.8L279.8,350.2L280.0,349.5L280.2,348.9L280.5,348.3L280.7,347.7L280.9,347.0L281.1,346.4L281.4,345.8L281.6,345.1L281.8,344.5L282.1,343.9L282.3,343.2L282.6,342.6L282.8,342.0L283.1,341.3L283.3,340.7L283.6,340.1L283.9,339.5L284.1,338.8L284.4,338.2L284.7,337.6L285.0,337.0L285.3,336.3L285.6,335.7L285.9,335.1L286.2,334.5L286.5,333.8L286.9,333.2L287.2,332.6L287.6,332.0L287.9,331.4L288.3,330.8L288.6,330.2L289.0,329.5L289.4,328.9L289.7,328.3L290.1,327.7L290.5,327.1L290.9,326.5L291.3,325.9L291.7,325.3L292.2,324.7L292.6,324.1L293.0,323.6L293.4,323.0L293.9,322.4L294.3,321.8L294.8,321.2L295.2,320.6L295.7,320.1L296.2,319.5L296.6,318.9L297.1,318.3L297.6,317.8L298.1,317.2L298.6,316.7L299.1,316.1L299.6,315.5L300.1,315.0L300.6,314.4L301.1,313.9L301.6,313.3L302.2,312.8L302.7,312.2L303.2,311.7L303.8,311.2L304.3,310.6L304.8,310.1L305.4,309.6L305.9,309.1L306.5,308.5L307.1,308.0L307.6,307.5L308.2,307.0L308.8,306.5L309.3,306.0L309.9,305.4L310.5,304.9L311.1,304.4L311.7,303.9L312.3,303.5L312.9,303.0L313.5,302.5L314.1,302.0L314.7,301.5L315.3,301.0L316.0,300.6L316.6,300.1L317.2,299.6L317.9,299.2L318.5,298.7L319.1,298.3L319.8,297.8L320.4,297.4L321.1,296.9L321.8,296.5L322.4,296.1L323.1,295.7L323.8,295.2L324.5,294.8L325.2,294.4L325.8,294.0L326.5,293.6L327.2,293.2L327.9,292.9L328.7,292.5L329.4,292.1L330.1,291.7L330.8,291.4L331.5,291.0L332.3,290.7L333.0,290.3L333.7,290.0L334.4,289.6L335.2,289.3L335.9,289.0L336.7,288.6L337.4,288.3L338.2,288.0L338.9,287.7L339.7,287.3L340.4,287.0L341.2,286.7L341.9,286.4L342.7,286.1L343.4,285.8L344.2,285.5L345.0,285.2L345.7,285.0L346.5,284.7L347.3,284.4L348.0,284.1L348.8,283.8L349.6,283.5L350.4,283.3L351.1,283.0L351.9,282.7L352.7,282.4L353.4,282.2L354.2,281.9L355.0,281.6L355.8,281.4L356.6,281.1L357.3,280.9L358.1,280.6L358.9,280.4L359.7,280.1L360.5,279.9L361.3,279.6L362.0,279.4L362.8,279.2L363.6,278.9L364.4,278.7L365.2,278.5L366.0,278.3L366.8,278.1L367.6,277.9L368.4,277.7L369.2,277.5L370.0,277.3L370.8,277.1L371.7,276.9L372.5,276.8L373.3,276.6L374.1,276.5L374.9,276.3L375.7,276.2L376.6,276.1L377.4,276.0L378.2,275.8L379.0,275.8L379.9,275.7L380.7,275.6L381.5,275.5L382.4,275.5L383.2,275.4L384.0,275.4L384.9,275.4L385.7,275.4L386.5,275.3L387.4,275.4L388.2,275.4L389.0,275.4L389.9,275.5L390.7,275.5L391.5,275.6L392.4,275.7L393.2,275.7L394.0,275.8L394.8,276.0L395.7,276.1L396.5,276.2L397.3,276.3L398.1,276.5L398.9,276.7L399.7,276.8L400.6,277.0L401.4,277.2L402.2,277.4L403.0,277.6L403.8,277.8L404.5,278.1L405.3,278.3L406.1,278.6L406.9,278.8L407.7,279.1L408.4,279.4L409.2,279.7L410.0,280.0L410.7,280.3L411.5,280.6L412.2,280.9L412.9,281.3L413.7,281.6L414.4,282.0L415.1,282.3L415.8,282.7L416.5,283.1L417.2,283.5L417.9,283.9L418.6,284.3L419.3,284.7L419.9,285.2L420.6,285.6L421.2,286.1L421.9,286.5L422.5,287.0L423.1,287.5L423.7,288.0L424.3,288.5L424.9,289.0L425.5,289.5L426.0,290.0L426.6,290.5L427.1,291.0L427.7,291.6L428.2,292.1L428.7,292.7L429.2,293.2L429.7,293.8L430.2,294.3L430.7,294.9L431.2,295.4L431.7,296.0L432.2,296.6L432.7,297.1L433.2,297.7L433.7,298.3L434.2,298.8L434.6,299.4L435.1,300.0L435.6,300.5L436.1,301.1L436.6,301.7L437.1,302.2L437.6,302.8L438.1,303.3L438.6,303.9L439.1,304.4L439.7,305.0L440.2,305.5L440.7,306.1L441.2,306.6L441.7,307.2L442.3,307.7L442.8,308.2L443.3,308.8L443.8,309.3L444.4,309.9L444.9,310.4L445.4,310.9L446.0,311.5L446.5,312.0L447.0,312.6L447.5,313.1L448.1,313.7L448.6,314.2L449.1,314.8L449.6,315.3L450.1,315.9L450.6,316.4L451.1,317.0L451.6,317.5L452.2,318.1L452.6,318.6L453.1,319.2L453.6,319.8L454.1,320.3L454.6,320.9L455.1,321.4L455.6,322.0L456.0,322.6L456.5,323.2L457.0,323.7L457.5,324.3L457.9,324.9L458.4,325.5L458.8,326.0L459.3,326.6L459.7,327.2L460.2,327.8L460.6,328.4L461.1,329.0L461.5,329.5L461.9,330.1L462.3,330.7L462.8,331.3L463.2,331.9L463.6,332.5L464.0,333.1L464.4,333.7L464.8,334.3L465.2,334.9L465.6,335.5L466.0,336.1L466.4,336.7L466.8,337.3L467.2,337.9L467.6,338.5L467.9,339.1L468.3,339.7L468.7,340.3L469.0,341.0L469.4,341.6L469.7,342.2L470.1,342.8L470.4,343.4L470.8,344.0L471.1,344.6L471.5,345.3L471.8,345.9L472.1,346.5L472.4,347.1L472.7,347.7L473.1,348.4L473.4,349.0L473.7,349.6L474.0,350.2L474.3,350.9L474.6,351.5L474.8,352.1L475.1,352.7L475.4,353.4L475.7,354.0L475.9,354.6L476.2,355.3L476.5,355.9L476.7,356.5L477.0,357.1L477.2,357.8L477.4,358.4L477.7,359.0L477.9,359.7L478.1,360.3L478.4,360.9L478.6,361.6L478.8,362.2L479.0,362.8L479.2,363.5L479.4,364.1L479.6,364.7L479.8,365.4L480.0,366.0L480.1,366.6L480.3,367.2L480.5,367.9L480.6,368.5L480.8,369.1L481.0,369.8M273.0,370.9L273.3,370.3L273.5,369.7L273.8,369.1L274.1,368.5L274.3,368.0L274.6,367.4L274.8,366.8L275.1,366.2L275.3,365.6L275.6,365.0L275.8,364.4L276.1,363.9L276.3,363.3L276.5,362.7L276.8,362.1L277.0,361.5L277.2,360.9L277.5,360.4L277.7,359.8L277.9,359.2L278.2,358.6L278.4,358.0L278.6,357.4L278.9,356.8L279.1,356.3L279.3,355.7L279.6,355.1L279.8,354.5L280.0,353.9L280.3,353.3L280.5,352.7L280.7,352.2L281.0,351.6L281.2,351.0L281.5,350.4L281.7,349.8L282.0,349.2L282.2,348.7L282.5,348.1L282.7,347.5L283.0,346.9L283.3,346.3L283.5,345.7L283.8,345.2L284.1,344.6L284.3,344.0L284.6,343.4L284.9,342.8L285.2,342.2L285.5,341.7L285.8,341.1L286.1,340.5L286.4,339.9L286.7,339.3L287.1,338.8L287.4,338.2L287.7,337.6L288.1,337.0L288.4,336.5L288.8,335.9L289.1,335.3L289.5,334.8L289.9,334.2L290.3,333.6L290.7,333.1L291.0,332.5L291.4,331.9L291.8,331.4L292.3,330.8L292.7,330.3L293.1,329.7L293.5,329.2L293.9,328.6L294.4,328.1L294.8,327.5L295.3,327.0L295.7,326.5L296.2,325.9L296.6,325.4L297.1,324.8L297.6,324.3L298.0,323.8L298.5,323.3L299.0,322.7L299.5,322.2L300.0,321.7L300.5,321.2L301.0,320.7L301.5,320.1L302.0,319.6L302.5,319.1L303.1,318.6L303.6,318.1L304.1,317.6L304.6,317.1L305.2,316.6L305.7,316.1L306.3,315.6L306.8,315.1L307.4,314.7L307.9,314.2L308.5,313.7L309.0,313.2L309.6,312.7L310.2,312.3L310.7,311.8L311.3,311.3L311.9,310.8L312.5,310.4L313.1,309.9L313.7,309.5L314.2,309.0L314.8,308.6L315.5,308.1L316.1,307.7L316.7,307.2L317.3,306.8L317.9,306.4L318.5,305.9L319.2,305.5L319.8,305.1L320.4,304.7L321.1,304.3L321.7,303.8L322.4,303.4L323.0,303.0L323.7,302.6L324.3,302.3L325.0,301.9L325.7,301.5L326.3,301.1L327.0,300.7L327.7,300.4L328.4,300.0L329.1,299.7L329.8,299.3L330.5,299.0L331.2,298.6L331.9,298.3L332.6,297.9L333.3,297.6L334.0,297.3L334.7,297.0L335.5,296.7L336.2,296.3L336.9,296.0L337.6,295.7L338.4,295.4L339.1,295.1L339.8,294.8L340.6,294.5L341.3,294.3L342.0,294.0L342.8,293.7L343.5,293.4L344.3,293.1L345.0,292.9L345.7,292.6L346.5,292.3L347.2,292.1L348.0,291.8L348.7,291.5L349.5,291.3L350.2,291.0L351.0,290.8L351.7,290.5L352.5,290.3L353.3,290.0L354.0,289.8L354.8,289.5L355.5,289.3L356.3,289.0L357.0,288.8L357.8,288.5L358.6,288.3L359.3,288.1L360.1,287.8L360.9,287.6L361.6,287.4L362.4,287.2L363.2,287.0L363.9,286.7L364.7,286.5L365.5,286.3L366.3,286.1L367.0,285.9L367.8,285.8L368.6,285.6L369.4,285.4L370.2,285.2L371.0,285.1L371.8,284.9L372.5,284.8L373.3,284.6L374.1,284.5L374.9,284.3L375.7,284.2L376.5,284.1L377.3,284.0L378.1,283.9L378.9,283.8L379.8,283.7L380.6,283.7L381.4,283.6L382.2,283.5L383.0,283.5L383.8,283.5L384.6,283.4L385.4,283.4L386.2,283.4L387.0,283.4L387.9,283.5L388.7,283.5L389.5,283.5L390.3,283.6L391.1,283.7L391.9,283.7L392.7,283.8L393.5,283.9L394.3,284.0L395.1,284.1L395.9,284.2L396.7,284.4L397.5,284.5L398.3,284.7L399.1,284.8L399.9,285.0L400.7,285.2L401.4,285.3L402.2,285.5L403.0,285.7L403.8,286.0L404.5,286.2L405.3,286.4L406.1,286.7L406.8,286.9L407.6,287.2L408.3,287.4L409.0,287.7L409.8,288.0L410.5,288.3L411.2,288.6L412.0,288.9L412.7,289.2L413.4,289.6L414.1,289.9L414.8,290.3L415.5,290.6L416.2,291.0L416.8,291.4L417.5,291.8L418.2,292.1L418.8,292.5L419.5,293.0L420.1,293.4L420.7,293.8L421.3,294.2L421.9,294.7L422.6,295.1L423.1,295.6L423.7,296.0L424.3,296.5L424.9,297.0L425.4,297.5L425.9,298.0L426.5,298.5L427.0,299.0L427.5,299.5L428.0,300.0L428.6,300.5L429.1,301.0L429.6,301.5L430.1,302.1L430.6,302.6L431.0,303.1L431.5,303.6L432.0,304.1L432.5,304.7L433.0,305.2L433.5,305.7L434.0,306.2L434.5,306.8L435.0,307.3L435.5,307.8L436.0,308.3L436.5,308.8L437.0,309.3L437.5,309.9L438.0,310.4L438.5,310.9L439.0,311.4L439.5,311.9L440.1,312.4L440.6,312.9L441.1,313.4L441.6,313.9L442.2,314.4L442.7,314.9L443.2,315.4L443.8,315.9L444.3,316.4L444.8,316.9L445.3,317.4L445.9,317.9L446.4,318.4L446.9,318.9L447.4,319.4L448.0,319.9L448.5,320.4L449.0,321.0L449.5,321.5L450.0,322.0L450.5,322.5L451.0,323.0L451.5,323.5L452.0,324.0L452.5,324.6L453.0,325.1L453.5,325.6L454.0,326.1L454.4,326.7L454.9,327.2L455.4,327.7L455.9,328.3L456.3,328.8L456.8,329.3L457.3,329.9L457.7,330.4L458.2,330.9L458.6,331.5L459.1,332.0L459.5,332.5L460.0,333.1L460.4,333.6L460.9,334.2L461.3,334.7L461.7,335.3L462.2,335.8L462.6,336.4L463.0,336.9L463.4,337.5L463.8,338.0L464.2,338.6L464.6,339.2L465.1,339.7L465.5,340.3L465.8,340.8L466.2,341.4L466.6,342.0L467.0,342.5L467.4,343.1L467.8,343.6L468.1,344.2L468.5,344.8L468.9,345.3L469.2,345.9L469.6,346.5L470.0,347.1L470.3,347.6L470.7,348.2L471.0,348.8L471.3,349.3L471.7,349.9L472.0,350.5L472.3,351.1L472.7,351.6L473.0,352.2L473.3,352.8L473.6,353.4L473.9,354.0L474.2,354.5L474.5,355.1L474.8,355.7L475.1,356.3L475.4,356.9L475.7,357.5L475.9,358.0L476.2,358.6L476.5,359.2L476.8,359.8L477.0,360.4L477.3,361.0L477.5,361.5L477.8,362.1L478.0,362.7L478.3,363.3L478.5,363.9L478.7,364.5L478.9,365.0L479.2,365.6L479.4,366.2L479.6,366.8L479.8,367.4L480.0,368.0L480.2,368.6L480.4,369.1L480.6,369.7L480.8,370.3L481.0,370.9M273.0,372.0L273.3,371.5L273.6,370.9L273.9,370.4L274.1,369.9L274.4,369.3L274.7,368.8L275.0,368.2L275.2,367.7L275.5,367.2L275.8,366.6L276.0,366.1L276.3,365.5L276.6,365.0L276.8,364.5L277.1,363.9L277.3,363.4L277.6,362.9L277.9,362.3L278.1,361.8L278.4,361.2L278.6,360.7L278.9,360.2L279.1,359.6L279.4,359.1L279.6,358.5L279.9,358.0L280.2,357.5L280.4,356.9L280.7,356.4L280.9,355.9L281.2,355.3L281.4,354.8L281.7,354.2L282.0,353.7L282.2,353.2L282.5,352.6L282.8,352.1L283.1,351.6L283.3,351.0L283.6,350.5L283.9,349.9L284.2,349.4L284.5,348.9L284.8,348.3L285.1,347.8L285.4,347.3L285.7,346.7L286.0,346.2L286.3,345.6L286.6,345.1L286.9,344.6L287.2,344.0L287.6,343.5L287.9,343.0L288.2,342.5L288.6,341.9L288.9,341.4L289.3,340.9L289.7,340.3L290.0,339.8L290.4,339.3L290.8,338.8L291.2,338.2L291.5,337.7L291.9,337.2L292.3,336.7L292.8,336.2L293.2,335.7L293.6,335.1L294.0,334.6L294.4,334.1L294.9,333.6L295.3,333.1L295.7,332.6L296.2,332.1L296.6,331.6L297.1,331.1L297.6,330.6L298.0,330.1L298.5,329.6L299.0,329.2L299.5,328.7L299.9,328.2L300.4,327.7L300.9,327.2L301.4,326.7L301.9,326.3L302.4,325.8L302.9,325.3L303.4,324.8L304.0,324.4L304.5,323.9L305.0,323.4L305.5,323.0L306.1,322.5L306.6,322.1L307.1,321.6L307.7,321.2L308.2,320.7L308.8,320.3L309.3,319.8L309.9,319.4L310.4,318.9L311.0,318.5L311.6,318.1L312.1,317.6L312.7,317.2L313.3,316.8L313.9,316.3L314.4,315.9L315.0,315.5L315.6,315.1L316.2,314.7L316.8,314.2L317.4,313.8L318.0,313.4L318.6,313.0L319.2,312.6L319.8,312.2L320.5,311.8L321.1,311.4L321.7,311.1L322.3,310.7L323.0,310.3L323.6,309.9L324.3,309.6L324.9,309.2L325.6,308.8L326.2,308.5L326.9,308.1L327.5,307.8L328.2,307.4L328.9,307.1L329.5,306.8L330.2,306.5L330.9,306.1L331.6,305.8L332.3,305.5L333.0,305.2L333.7,304.9L334.4,304.6L335.1,304.3L335.8,304.0L336.5,303.7L337.2,303.4L337.9,303.1L338.6,302.8L339.3,302.6L340.0,302.3L340.7,302.0L341.4,301.8L342.2,301.5L342.9,301.2L343.6,301.0L344.3,300.7L345.1,300.5L345.8,300.2L346.5,300.0L347.2,299.7L348.0,299.5L348.7,299.2L349.4,299.0L350.2,298.7L350.9,298.5L351.6,298.3L352.4,298.0L353.1,297.8L353.8,297.6L354.6,297.3L355.3,297.1L356.1,296.9L356.8,296.7L357.5,296.4L358.3,296.2L359.0,296.0L359.8,295.8L360.5,295.6L361.3,295.4L362.0,295.2L362.7,295.0L363.5,294.8L364.3,294.6L365.0,294.4L365.8,294.2L366.5,294.0L367.3,293.8L368.0,293.7L368.8,293.5L369.6,293.3L370.3,293.2L371.1,293.0L371.9,292.9L372.6,292.7L373.4,292.6L374.2,292.5L375.0,292.4L375.7,292.2L376.5,292.1L377.3,292.0L378.1,292.0L378.9,291.9L379.6,291.8L380.4,291.7L381.2,291.7L382.0,291.6L382.8,291.6L383.6,291.6L384.4,291.5L385.1,291.5L385.9,291.5L386.7,291.5L387.5,291.6L388.3,291.6L389.1,291.6L389.9,291.7L390.7,291.7L391.4,291.8L392.2,291.9L393.0,292.0L393.8,292.0L394.6,292.1L395.3,292.3L396.1,292.4L396.9,292.5L397.7,292.6L398.4,292.8L399.2,292.9L400.0,293.1L400.7,293.3L401.5,293.5L402.2,293.7L403.0,293.9L403.7,294.1L404.5,294.3L405.2,294.5L406.0,294.7L406.7,295.0L407.4,295.2L408.1,295.5L408.9,295.7L409.6,296.0L410.3,296.3L411.0,296.6L411.7,296.9L412.4,297.2L413.1,297.5L413.7,297.8L414.4,298.1L415.1,298.5L415.8,298.8L416.4,299.2L417.1,299.5L417.7,299.9L418.3,300.3L419.0,300.7L419.6,301.1L420.2,301.5L420.8,301.9L421.4,302.3L422.0,302.7L422.6,303.1L423.1,303.6L423.7,304.0L424.2,304.5L424.8,304.9L425.3,305.4L425.8,305.8L426.4,306.3L426.9,306.8L427.4,307.2L427.9,307.7L428.4,308.2L428.9,308.7L429.4,309.1L429.9,309.6L430.4,310.1L430.9,310.6L431.3,311.1L431.8,311.5L432.3,312.0L432.8,312.5L433.3,313.0L433.8,313.5L434.3,313.9L434.8,314.4L435.3,314.9L435.8,315.4L436.3,315.8L436.9,316.3L437.4,316.8L437.9,317.2L438.4,317.7L438.9,318.2L439.5,318.6L440.0,319.1L440.5,319.6L441.0,320.0L441.6,320.5L442.1,320.9L442.6,321.4L443.1,321.9L443.7,322.3L444.2,322.8L444.7,323.3L445.2,323.7L445.8,324.2L446.3,324.7L446.8,325.1L447.3,325.6L447.8,326.1L448.3,326.5L448.9,327.0L449.4,327.5L449.9,327.9L450.4,328.4L450.9,328.9L451.4,329.4L451.9,329.9L452.3,330.3L452.8,330.8L453.3,331.3L453.8,331.8L454.3,332.3L454.8,332.8L455.2,333.3L455.7,333.8L456.2,334.2L456.6,334.7L457.1,335.2L457.6,335.7L458.0,336.2L458.5,336.7L458.9,337.2L459.4,337.7L459.8,338.2L460.3,338.7L460.7,339.2L461.1,339.7L461.6,340.3L462.0,340.8L462.4,341.3L462.8,341.8L463.3,342.3L463.7,342.8L464.1,343.3L464.5,343.8L464.9,344.3L465.3,344.9L465.7,345.4L466.1,345.9L466.5,346.4L466.9,346.9L467.3,347.5L467.6,348.0L468.0,348.5L468.4,349.0L468.8,349.6L469.1,350.1L469.5,350.6L469.9,351.1L470.2,351.7L470.6,352.2L470.9,352.7L471.3,353.2L471.6,353.8L472.0,354.3L472.3,354.8L472.6,355.4L472.9,355.9L473.3,356.4L473.6,357.0L473.9,357.5L474.2,358.0L474.5,358.6L474.8,359.1L475.1,359.6L475.4,360.2L475.7,360.7L476.0,361.3L476.3,361.8L476.6,362.3L476.9,362.9L477.1,363.4L477.4,363.9L477.7,364.5L477.9,365.0L478.2,365.6L478.4,366.1L478.7,366.6L478.9,367.2L479.2,367.7L479.4,368.3L479.7,368.8L479.9,369.3L480.1,369.9L480.3,370.4L480.5,370.9L480.8,371.5L481.0,372.0M273.0,373.1L273.3,372.6L273.6,372.1L273.9,371.7L274.2,371.2L274.5,370.7L274.8,370.2L275.1,369.7L275.4,369.2L275.7,368.7L276.0,368.2L276.3,367.7L276.6,367.2L276.8,366.7L277.1,366.2L277.4,365.8L277.7,365.3L278.0,364.8L278.3,364.3L278.5,363.8L278.8,363.3L279.1,362.8L279.4,362.3L279.6,361.8L279.9,361.3L280.2,360.8L280.5,360.3L280.8,359.9L281.0,359.4L281.3,358.9L281.6,358.4L281.9,357.9L282.2,357.4L282.4,356.9L282.7,356.4L283.0,355.9L283.3,355.4L283.6,354.9L283.9,354.4L284.2,354.0L284.5,353.5L284.8,353.0L285.1,352.5L285.4,352.0L285.7,351.5L286.0,351.0L286.4,350.5L286.7,350.0L287.0,349.5L287.3,349.1L287.7,348.6L288.0,348.1L288.3,347.6L288.7,347.1L289.0,346.6L289.4,346.1L289.8,345.6L290.1,345.2L290.5,344.7L290.9,344.2L291.3,343.7L291.6,343.2L292.0,342.8L292.4,342.3L292.8,341.8L293.2,341.3L293.7,340.9L294.1,340.4L294.5,339.9L294.9,339.5L295.3,339.0L295.8,338.5L296.2,338.1L296.7,337.6L297.1,337.2L297.6,336.7L298.0,336.2L298.5,335.8L299.0,335.3L299.4,334.9L299.9,334.4L300.4,334.0L300.9,333.5L301.4,333.1L301.8,332.7L302.3,332.2L302.8,331.8L303.3,331.3L303.8,330.9L304.4,330.5L304.9,330.0L305.4,329.6L305.9,329.2L306.4,328.8L307.0,328.3L307.5,327.9L308.0,327.5L308.6,327.1L309.1,326.7L309.6,326.3L310.2,325.9L310.7,325.5L311.3,325.0L311.8,324.6L312.4,324.2L313.0,323.8L313.5,323.4L314.1,323.1L314.7,322.7L315.2,322.3L315.8,321.9L316.4,321.5L317.0,321.1L317.6,320.7L318.2,320.4L318.8,320.0L319.3,319.6L319.9,319.3L320.6,318.9L321.2,318.5L321.8,318.2L322.4,317.8L323.0,317.5L323.6,317.1L324.2,316.8L324.9,316.4L325.5,316.1L326.1,315.8L326.8,315.4L327.4,315.1L328.1,314.8L328.7,314.5L329.4,314.2L330.0,313.9L330.7,313.5L331.4,313.2L332.0,313.0L332.7,312.7L333.4,312.4L334.0,312.1L334.7,311.8L335.4,311.5L336.1,311.3L336.8,311.0L337.5,310.7L338.2,310.5L338.8,310.2L339.5,310.0L340.2,309.7L340.9,309.4L341.6,309.2L342.3,309.0L343.0,308.7L343.7,308.5L344.4,308.2L345.1,308.0L345.9,307.8L346.6,307.5L347.3,307.3L348.0,307.1L348.7,306.9L349.4,306.6L350.1,306.4L350.8,306.2L351.6,306.0L352.3,305.8L353.0,305.6L353.7,305.4L354.4,305.1L355.1,304.9L355.9,304.7L356.6,304.5L357.3,304.3L358.0,304.1L358.7,303.9L359.5,303.7L360.2,303.5L360.9,303.3L361.6,303.1L362.4,302.9L363.1,302.8L363.8,302.6L364.6,302.4L365.3,302.2L366.0,302.1L366.8,301.9L367.5,301.7L368.2,301.6L369.0,301.4L369.7,301.3L370.5,301.1L371.2,301.0L372.0,300.9L372.7,300.7L373.5,300.6L374.2,300.5L375.0,300.4L375.7,300.3L376.5,300.2L377.2,300.1L378.0,300.0L378.8,299.9L379.5,299.9L380.3,299.8L381.0,299.7L381.8,299.7L382.6,299.7L383.3,299.6L384.1,299.6L384.9,299.6L385.6,299.6L386.4,299.6L387.2,299.6L387.9,299.7L388.7,299.7L389.5,299.7L390.2,299.8L391.0,299.9L391.7,299.9L392.5,300.0L393.3,300.1L394.0,300.2L394.8,300.3L395.5,300.4L396.3,300.5L397.0,300.6L397.8,300.8L398.5,300.9L399.3,301.1L400.0,301.2L400.7,301.4L401.5,301.6L402.2,301.7L402.9,301.9L403.7,302.1L404.4,302.3L405.1,302.5L405.8,302.8L406.5,303.0L407.2,303.2L407.9,303.5L408.6,303.7L409.3,304.0L410.0,304.2L410.7,304.5L411.4,304.8L412.0,305.1L412.7,305.4L413.4,305.7L414.0,306.0L414.7,306.3L415.3,306.6L416.0,306.9L416.6,307.3L417.2,307.6L417.8,308.0L418.4,308.3L419.1,308.7L419.6,309.1L420.2,309.4L420.8,309.8L421.4,310.2L421.9,310.6L422.5,311.0L423.1,311.4L423.6,311.8L424.1,312.3L424.7,312.7L425.2,313.1L425.7,313.5L426.2,314.0L426.7,314.4L427.2,314.8L427.7,315.3L428.2,315.7L428.7,316.1L429.2,316.6L429.7,317.0L430.2,317.5L430.7,317.9L431.2,318.3L431.7,318.8L432.2,319.2L432.7,319.7L433.2,320.1L433.7,320.5L434.2,321.0L434.7,321.4L435.2,321.8L435.7,322.3L436.2,322.7L436.7,323.1L437.3,323.5L437.8,324.0L438.3,324.4L438.8,324.8L439.4,325.2L439.9,325.6L440.4,326.1L440.9,326.5L441.5,326.9L442.0,327.3L442.5,327.8L443.0,328.2L443.6,328.6L444.1,329.0L444.6,329.5L445.1,329.9L445.7,330.3L446.2,330.7L446.7,331.2L447.2,331.6L447.7,332.0L448.2,332.5L448.7,332.9L449.2,333.3L449.7,333.8L450.2,334.2L450.7,334.6L451.2,335.1L451.7,335.5L452.2,336.0L452.7,336.4L453.2,336.8L453.6,337.3L454.1,337.7L454.6,338.2L455.1,338.6L455.5,339.1L456.0,339.5L456.5,340.0L456.9,340.4L457.4,340.9L457.9,341.4L458.3,341.8L458.8,342.3L459.2,342.7L459.6,343.2L460.1,343.7L460.5,344.1L461.0,344.6L461.4,345.1L461.8,345.5L462.3,346.0L462.7,346.5L463.1,346.9L463.5,347.4L463.9,347.9L464.4,348.3L464.8,348.8L465.2,349.3L465.6,349.8L466.0,350.2L466.4,350.7L466.8,351.2L467.2,351.7L467.5,352.1L467.9,352.6L468.3,353.1L468.7,353.6L469.1,354.1L469.4,354.5L469.8,355.0L470.2,355.5L470.5,356.0L470.9,356.5L471.2,357.0L471.6,357.4L471.9,357.9L472.3,358.4L472.6,358.9L473.0,359.4L473.3,359.9L473.6,360.4L474.0,360.9L474.3,361.3L474.6,361.8L474.9,362.3L475.2,362.8L475.5,363.3L475.9,363.8L476.2,364.3L476.5,364.8L476.7,365.3L477.0,365.8L477.3,366.3L477.6,366.7L477.9,367.2L478.2,367.7L478.4,368.2L478.7,368.7L479.0,369.2L479.2,369.7L479.5,370.2L479.8,370.7L480.0,371.2L480.3,371.7L480.5,372.2L480.7,372.6L481.0,373.1M273.0,374.2L273.3,373.8L273.7,373.4L274.0,372.9L274.3,372.5L274.6,372.0L275.0,371.6L275.3,371.1L275.6,370.7L275.9,370.2L276.2,369.8L276.5,369.4L276.8,368.9L277.1,368.5L277.4,368.0L277.7,367.6L278.0,367.1L278.3,366.7L278.6,366.2L278.9,365.8L279.2,365.4L279.5,364.9L279.8,364.5L280.1,364.0L280.4,363.6L280.7,363.1L281.0,362.7L281.3,362.2L281.7,361.8L282.0,361.3L282.3,360.9L282.6,360.5L282.9,360.0L283.2,359.6L283.5,359.1L283.8,358.7L284.1,358.2L284.4,357.8L284.7,357.3L285.1,356.9L285.4,356.5L285.7,356.0L286.0,355.6L286.4,355.1L286.7,354.7L287.0,354.2L287.4,353.8L287.7,353.3L288.0,352.9L288.4,352.5L288.7,352.0L289.1,351.6L289.5,351.1L289.8,350.7L290.2,350.3L290.6,349.8L290.9,349.4L291.3,348.9L291.7,348.5L292.1,348.1L292.5,347.6L292.9,347.2L293.3,346.8L293.7,346.3L294.1,345.9L294.5,345.5L295.0,345.1L295.4,344.6L295.8,344.2L296.2,343.8L296.7,343.4L297.1,342.9L297.6,342.5L298.0,342.1L298.5,341.7L298.9,341.3L299.4,340.9L299.9,340.4L300.4,340.0L300.8,339.6L301.3,339.2L301.8,338.8L302.3,338.4L302.8,338.0L303.3,337.6L303.8,337.2L304.3,336.8L304.8,336.4L305.3,336.0L305.8,335.6L306.3,335.3L306.8,334.9L307.3,334.5L307.9,334.1L308.4,333.7L308.9,333.3L309.4,333.0L310.0,332.6L310.5,332.2L311.1,331.8L311.6,331.5L312.1,331.1L312.7,330.7L313.2,330.4L313.8,330.0L314.4,329.6L314.9,329.3L315.5,328.9L316.1,328.6L316.6,328.2L317.2,327.9L317.8,327.5L318.3,327.2L318.9,326.8L319.5,326.5L320.1,326.1L320.7,325.8L321.3,325.5L321.9,325.2L322.5,324.8L323.1,324.5L323.7,324.2L324.3,323.9L324.9,323.5L325.5,323.2L326.1,322.9L326.8,322.6L327.4,322.3L328.0,322.0L328.6,321.7L329.3,321.4L329.9,321.2L330.6,320.9L331.2,320.6L331.9,320.3L332.5,320.0L333.2,319.8L333.8,319.5L334.5,319.3L335.1,319.0L335.8,318.7L336.5,318.5L337.1,318.2L337.8,318.0L338.5,317.8L339.1,317.5L339.8,317.3L340.5,317.1L341.2,316.8L341.9,316.6L342.5,316.4L343.2,316.2L343.9,315.9L344.6,315.7L345.3,315.5L346.0,315.3L346.7,315.1L347.3,314.9L348.0,314.7L348.7,314.5L349.4,314.3L350.1,314.1L350.8,313.9L351.5,313.7L352.2,313.5L352.9,313.3L353.6,313.1L354.3,312.9L355.0,312.7L355.7,312.5L356.4,312.3L357.1,312.1L357.8,312.0L358.5,311.8L359.2,311.6L359.9,311.4L360.6,311.2L361.3,311.1L362.0,310.9L362.7,310.7L363.5,310.5L364.2,310.4L364.9,310.2L365.6,310.1L366.3,309.9L367.0,309.8L367.7,309.6L368.5,309.5L369.2,309.3L369.9,309.2L370.6,309.1L371.4,308.9L372.1,308.8L372.8,308.7L373.5,308.6L374.3,308.5L375.0,308.4L375.7,308.3L376.5,308.2L377.2,308.1L377.9,308.1L378.7,308.0L379.4,307.9L380.1,307.9L380.9,307.8L381.6,307.8L382.4,307.8L383.1,307.7L383.8,307.7L384.6,307.7L385.3,307.7L386.1,307.7L386.8,307.7L387.6,307.8L388.3,307.8L389.0,307.8L389.8,307.9L390.5,307.9L391.3,308.0L392.0,308.1L392.7,308.1L393.5,308.2L394.2,308.3L394.9,308.4L395.7,308.5L396.4,308.6L397.1,308.8L397.8,308.9L398.6,309.0L399.3,309.2L400.0,309.3L400.7,309.5L401.4,309.6L402.1,309.8L402.8,310.0L403.5,310.2L404.2,310.3L404.9,310.5L405.6,310.8L406.3,311.0L407.0,311.2L407.7,311.4L408.4,311.6L409.0,311.9L409.7,312.1L410.4,312.4L411.0,312.6L411.7,312.9L412.3,313.2L413.0,313.5L413.6,313.7L414.2,314.0L414.9,314.3L415.5,314.6L416.1,314.9L416.7,315.3L417.3,315.6L417.9,315.9L418.5,316.3L419.1,316.6L419.7,316.9L420.2,317.3L420.8,317.7L421.3,318.0L421.9,318.4L422.4,318.8L422.9,319.2L423.5,319.5L424.0,319.9L424.5,320.3L425.0,320.7L425.5,321.1L426.0,321.5L426.5,321.9L427.0,322.3L427.5,322.7L428.0,323.1L428.5,323.5L429.0,323.9L429.5,324.3L430.0,324.7L430.5,325.1L431.0,325.5L431.5,325.9L432.0,326.2L432.5,326.6L433.0,327.0L433.5,327.4L434.1,327.8L434.6,328.2L435.1,328.6L435.6,329.0L436.1,329.4L436.6,329.7L437.2,330.1L437.7,330.5L438.2,330.9L438.7,331.3L439.3,331.7L439.8,332.0L440.3,332.4L440.9,332.8L441.4,333.2L441.9,333.6L442.4,333.9L443.0,334.3L443.5,334.7L444.0,335.1L444.5,335.5L445.0,335.9L445.5,336.3L446.1,336.6L446.6,337.0L447.1,337.4L447.6,337.8L448.1,338.2L448.6,338.6L449.1,339.0L449.6,339.4L450.1,339.8L450.6,340.2L451.1,340.6L451.6,341.0L452.1,341.4L452.5,341.8L453.0,342.2L453.5,342.6L454.0,343.0L454.4,343.4L454.9,343.8L455.4,344.3L455.9,344.7L456.3,345.1L456.8,345.5L457.2,345.9L457.7,346.3L458.2,346.7L458.6,347.2L459.1,347.6L459.5,348.0L460.0,348.4L460.4,348.8L460.8,349.3L461.3,349.7L461.7,350.1L462.1,350.5L462.6,351.0L463.0,351.4L463.4,351.8L463.8,352.2L464.3,352.7L464.7,353.1L465.1,353.5L465.5,354.0L465.9,354.4L466.3,354.8L466.7,355.3L467.1,355.7L467.5,356.1L467.9,356.6L468.3,357.0L468.7,357.4L469.0,357.9L469.4,358.3L469.8,358.7L470.2,359.2L470.5,359.6L470.9,360.1L471.3,360.5L471.6,360.9L472.0,361.4L472.3,361.8L472.7,362.3L473.0,362.7L473.4,363.1L473.7,363.6L474.1,364.0L474.4,364.5L474.7,364.9L475.1,365.4L475.4,365.8L475.7,366.3L476.0,366.7L476.4,367.1L476.7,367.6L477.0,368.0L477.3,368.5L477.6,368.9L477.9,369.4L478.2,369.8L478.5,370.3L478.8,370.7L479.1,371.1L479.3,371.6L479.6,372.0L479.9,372.5L480.2,372.9L480.4,373.4L480.7,373.8L481.0,374.3M273.0,375.2L273.4,374.8L273.7,374.4L274.0,374.0L274.4,373.6L274.7,373.2L275.1,372.8L275.4,372.4L275.7,372.0L276.1,371.6L276.4,371.2L276.7,370.8L277.0,370.4L277.4,370.0L277.7,369.6L278.0,369.2L278.3,368.8L278.7,368.4L279.0,368.0L279.3,367.6L279.6,367.2L280.0,366.8L280.3,366.4L280.6,366.0L280.9,365.6L281.2,365.2L281.6,364.8L281.9,364.4L282.2,363.9L282.5,363.5L282.9,363.1L283.2,362.7L283.5,362.3L283.8,361.9L284.2,361.5L284.5,361.1L284.8,360.7L285.2,360.3L285.5,359.9L285.8,359.5L286.2,359.1L286.5,358.7L286.9,358.3L287.2,357.9L287.6,357.5L287.9,357.1L288.3,356.7L288.6,356.3L289.0,355.9L289.3,355.5L289.7,355.1L290.1,354.7L290.5,354.3L290.8,353.9L291.2,353.5L291.6,353.1L292.0,352.7L292.4,352.3L292.8,351.9L293.2,351.5L293.6,351.1L294.0,350.7L294.4,350.3L294.8,349.9L295.3,349.5L295.7,349.2L296.1,348.8L296.5,348.4L297.0,348.0L297.4,347.6L297.9,347.2L298.3,346.8L298.8,346.5L299.2,346.1L299.7,345.7L300.2,345.3L300.6,345.0L301.1,344.6L301.6,344.2L302.1,343.8L302.6,343.5L303.0,343.1L303.5,342.7L304.0,342.4L304.5,342.0L305.0,341.7L305.5,341.3L306.0,340.9L306.5,340.6L307.0,340.2L307.6,339.9L308.1,339.5L308.6,339.2L309.1,338.8L309.7,338.5L310.2,338.1L310.7,337.8L311.2,337.5L311.8,337.1L312.3,336.8L312.9,336.4L313.4,336.1L314.0,335.8L314.5,335.4L315.1,335.1L315.6,334.8L316.2,334.5L316.7,334.1L317.3,333.8L317.8,333.5L318.4,333.2L319.0,332.9L319.6,332.5L320.1,332.2L320.7,331.9L321.3,331.6L321.9,331.3L322.5,331.0L323.1,330.7L323.6,330.4L324.2,330.1L324.8,329.8L325.4,329.5L326.0,329.3L326.6,329.0L327.3,328.7L327.9,328.4L328.5,328.2L329.1,327.9L329.7,327.6L330.3,327.4L331.0,327.1L331.6,326.8L332.2,326.6L332.9,326.3L333.5,326.1L334.2,325.8L334.8,325.6L335.4,325.4L336.1,325.1L336.7,324.9L337.4,324.7L338.0,324.5L338.7,324.2L339.4,324.0L340.0,323.8L340.7,323.6L341.3,323.4L342.0,323.2L342.7,323.0L343.3,322.8L344.0,322.6L344.7,322.4L345.4,322.2L346.0,322.0L346.7,321.8L347.4,321.6L348.0,321.4L348.7,321.2L349.4,321.0L350.1,320.9L350.8,320.7L351.4,320.5L352.1,320.3L352.8,320.1L353.5,320.0L354.2,319.8L354.8,319.6L355.5,319.4L356.2,319.3L356.9,319.1L357.6,318.9L358.3,318.7L358.9,318.6L359.6,318.4L360.3,318.3L361.0,318.1L361.7,317.9L362.4,317.8L363.1,317.6L363.8,317.5L364.5,317.3L365.2,317.2L365.9,317.0L366.6,316.9L367.2,316.8L367.9,316.6L368.6,316.5L369.4,316.4L370.1,316.3L370.8,316.1L371.5,316.0L372.2,315.9L372.9,315.8L373.6,315.7L374.3,315.6L375.0,315.5L375.7,315.4L376.4,315.4L377.2,315.3L377.9,315.2L378.6,315.2L379.3,315.1L380.0,315.0L380.7,315.0L381.5,315.0L382.2,314.9L382.9,314.9L383.6,314.9L384.3,314.9L385.1,314.9L385.8,314.9L386.5,314.9L387.2,314.9L388.0,315.0L388.7,315.0L389.4,315.0L390.1,315.1L390.8,315.2L391.5,315.2L392.3,315.3L393.0,315.4L393.7,315.4L394.4,315.5L395.1,315.6L395.8,315.7L396.5,315.8L397.2,316.0L397.9,316.1L398.6,316.2L399.3,316.3L400.0,316.5L400.7,316.6L401.4,316.8L402.1,317.0L402.8,317.1L403.5,317.3L404.1,317.5L404.8,317.7L405.5,317.9L406.2,318.1L406.8,318.3L407.5,318.5L408.2,318.7L408.8,318.9L409.5,319.1L410.1,319.4L410.8,319.6L411.4,319.9L412.0,320.1L412.6,320.4L413.3,320.6L413.9,320.9L414.5,321.2L415.1,321.5L415.7,321.8L416.3,322.0L416.9,322.3L417.5,322.7L418.0,323.0L418.6,323.3L419.2,323.6L419.7,323.9L420.3,324.3L420.8,324.6L421.4,324.9L421.9,325.3L422.4,325.6L422.9,326.0L423.5,326.3L424.0,326.7L424.5,327.0L425.0,327.4L425.5,327.7L426.0,328.1L426.5,328.5L427.0,328.8L427.5,329.2L428.0,329.5L428.5,329.9L429.0,330.3L429.5,330.6L430.0,331.0L430.5,331.4L431.0,331.7L431.5,332.1L432.0,332.4L432.5,332.8L433.0,333.1L433.6,333.5L434.1,333.8L434.6,334.2L435.1,334.5L435.6,334.9L436.2,335.2L436.7,335.6L437.2,335.9L437.7,336.3L438.3,336.6L438.8,337.0L439.3,337.3L439.8,337.7L440.4,338.0L440.9,338.3L441.4,338.7L441.9,339.0L442.5,339.4L443.0,339.7L443.5,340.1L444.0,340.4L444.5,340.8L445.0,341.1L445.6,341.5L446.1,341.9L446.6,342.2L447.1,342.6L447.6,342.9L448.1,343.3L448.6,343.6L449.1,344.0L449.6,344.4L450.1,344.7L450.6,345.1L451.1,345.5L451.5,345.8L452.0,346.2L452.5,346.6L453.0,346.9L453.5,347.3L454.0,347.7L454.4,348.0L454.9,348.4L455.4,348.8L455.8,349.2L456.3,349.5L456.8,349.9L457.2,350.3L457.7,350.7L458.1,351.1L458.6,351.4L459.0,351.8L459.5,352.2L459.9,352.6L460.4,353.0L460.8,353.4L461.3,353.7L461.7,354.1L462.1,354.5L462.6,354.9L463.0,355.3L463.4,355.7L463.9,356.1L464.3,356.5L464.7,356.8L465.1,357.2L465.5,357.6L465.9,358.0L466.4,358.4L466.8,358.8L467.2,359.2L467.6,359.6L468.0,360.0L468.4,360.4L468.8,360.8L469.1,361.2L469.5,361.6L469.9,362.0L470.3,362.4L470.7,362.8L471.1,363.2L471.4,363.6L471.8,364.0L472.2,364.4L472.5,364.8L472.9,365.2L473.2,365.6L473.6,366.0L474.0,366.4L474.3,366.8L474.7,367.2L475.0,367.6L475.3,368.0L475.7,368.4L476.0,368.8L476.3,369.2L476.7,369.6L477.0,370.0L477.3,370.4L477.7,370.8L478.0,371.2L478.3,371.6L478.6,372.0L478.9,372.4L479.2,372.8L479.5,373.2L479.8,373.6L480.1,374.1L480.4,374.5L480.7,374.9L481.0,375.3M273.0,376.2L273.4,375.9L273.7,375.5L274.1,375.2L274.5,374.8L274.8,374.4L275.2,374.1L275.5,373.7L275.9,373.4L276.2,373.0L276.6,372.6L276.9,372.3L277.3,371.9L277.6,371.5L278.0,371.2L278.3,370.8L278.7,370.5L279.0,370.1L279.3,369.7L279.7,369.4L280.0,369.0L280.4,368.6L280.7,368.3L281.0,367.9L281.4,367.6L281.7,367.2L282.1,366.8L282.4,366.5L282.8,366.1L283.1,365.7L283.4,365.4L283.8,365.0L284.1,364.7L284.5,364.3L284.8,363.9L285.2,363.6L285.5,363.2L285.9,362.8L286.2,362.5L286.6,362.1L287.0,361.8L287.3,361.4L287.7,361.0L288.0,360.7L288.4,360.3L288.8,360.0L289.2,359.6L289.5,359.2L289.9,358.9L290.3,358.5L290.7,358.2L291.1,357.8L291.4,357.4L291.8,357.1L292.2,356.7L292.6,356.4L293.0,356.0L293.4,355.6L293.8,355.3L294.3,354.9L294.7,354.6L295.1,354.2L295.5,353.9L296.0,353.5L296.4,353.2L296.8,352.8L297.3,352.5L297.7,352.1L298.2,351.8L298.6,351.4L299.1,351.1L299.5,350.8L300.0,350.4L300.5,350.1L300.9,349.7L301.4,349.4L301.9,349.1L302.3,348.7L302.8,348.4L303.3,348.1L303.8,347.7L304.3,347.4L304.8,347.1L305.3,346.8L305.8,346.4L306.3,346.1L306.8,345.8L307.3,345.5L307.8,345.1L308.3,344.8L308.8,344.5L309.3,344.2L309.9,343.9L310.4,343.6L310.9,343.3L311.4,342.9L312.0,342.6L312.5,342.3L313.0,342.0L313.6,341.7L314.1,341.4L314.7,341.1L315.2,340.8L315.8,340.5L316.3,340.2L316.9,339.9L317.4,339.6L318.0,339.4L318.5,339.1L319.1,338.8L319.6,338.5L320.2,338.2L320.8,337.9L321.3,337.7L321.9,337.4L322.5,337.1L323.1,336.8L323.6,336.6L324.2,336.3L324.8,336.0L325.4,335.8L326.0,335.5L326.6,335.2L327.2,335.0L327.8,334.7L328.4,334.5L329.0,334.2L329.6,334.0L330.2,333.7L330.8,333.5L331.4,333.3L332.0,333.0L332.7,332.8L333.3,332.6L333.9,332.4L334.5,332.1L335.2,331.9L335.8,331.7L336.4,331.5L337.1,331.3L337.7,331.1L338.3,330.9L339.0,330.7L339.6,330.5L340.3,330.3L340.9,330.1L341.5,329.9L342.2,329.7L342.8,329.5L343.5,329.3L344.1,329.1L344.8,329.0L345.5,328.8L346.1,328.6L346.8,328.4L347.4,328.3L348.1,328.1L348.7,327.9L349.4,327.8L350.1,327.6L350.7,327.4L351.4,327.3L352.1,327.1L352.7,326.9L353.4,326.8L354.0,326.6L354.7,326.5L355.4,326.3L356.0,326.2L356.7,326.0L357.4,325.8L358.0,325.7L358.7,325.5L359.4,325.4L360.0,325.2L360.7,325.1L361.4,325.0L362.1,324.8L362.7,324.7L363.4,324.5L364.1,324.4L364.8,324.3L365.4,324.1L366.1,324.0L366.8,323.9L367.5,323.8L368.2,323.6L368.8,323.5L369.5,323.4L370.2,323.3L370.9,323.2L371.6,323.1L372.3,323.0L373.0,322.9L373.6,322.8L374.3,322.7L375.0,322.6L375.7,322.6L376.4,322.5L377.1,322.4L377.8,322.4L378.5,322.3L379.2,322.3L379.9,322.2L380.6,322.2L381.3,322.2L382.0,322.1L382.7,322.1L383.4,322.1L384.1,322.1L384.8,322.1L385.5,322.1L386.2,322.1L386.9,322.1L387.6,322.1L388.3,322.2L389.0,322.2L389.7,322.3L390.4,322.3L391.1,322.4L391.8,322.4L392.5,322.5L393.2,322.6L393.9,322.7L394.6,322.7L395.3,322.8L395.9,322.9L396.6,323.0L397.3,323.2L398.0,323.3L398.7,323.4L399.4,323.5L400.0,323.6L400.7,323.8L401.4,323.9L402.0,324.1L402.7,324.2L403.4,324.4L404.0,324.6L404.7,324.7L405.3,324.9L406.0,325.1L406.6,325.3L407.3,325.5L407.9,325.7L408.6,325.9L409.2,326.1L409.8,326.3L410.5,326.5L411.1,326.8L411.7,327.0L412.3,327.2L412.9,327.5L413.5,327.7L414.1,328.0L414.7,328.2L415.3,328.5L415.9,328.8L416.4,329.0L417.0,329.3L417.6,329.6L418.1,329.9L418.7,330.2L419.2,330.5L419.8,330.8L420.3,331.1L420.8,331.4L421.4,331.7L421.9,332.0L422.4,332.3L422.9,332.7L423.4,333.0L423.9,333.3L424.4,333.6L425.0,333.9L425.5,334.3L426.0,334.6L426.5,334.9L427.0,335.2L427.5,335.6L428.0,335.9L428.5,336.2L429.0,336.5L429.5,336.9L430.0,337.2L430.5,337.5L431.0,337.8L431.5,338.1L432.0,338.5L432.5,338.8L433.1,339.1L433.6,339.4L434.1,339.7L434.6,340.0L435.1,340.3L435.7,340.6L436.2,341.0L436.7,341.3L437.2,341.6L437.8,341.9L438.3,342.2L438.8,342.5L439.3,342.8L439.9,343.1L440.4,343.4L440.9,343.8L441.4,344.1L442.0,344.4L442.5,344.7L443.0,345.0L443.5,345.3L444.0,345.6L444.5,346.0L445.1,346.3L445.6,346.6L446.1,346.9L446.6,347.2L447.1,347.6L447.6,347.9L448.1,348.2L448.6,348.5L449.1,348.9L449.6,349.2L450.1,349.5L450.6,349.8L451.0,350.2L451.5,350.5L452.0,350.8L452.5,351.2L453.0,351.5L453.5,351.8L453.9,352.2L454.4,352.5L454.9,352.8L455.4,353.2L455.8,353.5L456.3,353.9L456.8,354.2L457.2,354.5L457.7,354.9L458.1,355.2L458.6,355.6L459.1,355.9L459.5,356.3L460.0,356.6L460.4,356.9L460.9,357.3L461.3,357.6L461.7,358.0L462.2,358.3L462.6,358.7L463.0,359.0L463.5,359.4L463.9,359.7L464.3,360.1L464.8,360.4L465.2,360.8L465.6,361.1L466.0,361.5L466.4,361.8L466.9,362.2L467.3,362.6L467.7,362.9L468.1,363.3L468.5,363.6L468.9,364.0L469.3,364.3L469.7,364.7L470.1,365.1L470.5,365.4L470.9,365.8L471.2,366.1L471.6,366.5L472.0,366.9L472.4,367.2L472.8,367.6L473.1,367.9L473.5,368.3L473.9,368.7L474.2,369.0L474.6,369.4L475.0,369.7L475.3,370.1L475.7,370.5L476.0,370.8L476.4,371.2L476.7,371.6L477.1,371.9L477.4,372.3L477.7,372.6L478.1,373.0L478.4,373.4L478.7,373.7L479.1,374.1L479.4,374.5L479.7,374.8L480.0,375.2L480.4,375.5L480.7,375.9L481.0,376.3M273.0,377.2L273.4,376.9L273.8,376.6L274.1,376.3L274.5,376.0L274.9,375.6L275.3,375.3L275.7,375.0L276.0,374.7L276.4,374.4L276.8,374.0L277.1,373.7L277.5,373.4L277.9,373.1L278.2,372.8L278.6,372.4L279.0,372.1L279.3,371.8L279.7,371.5L280.0,371.2L280.4,370.8L280.8,370.5L281.1,370.2L281.5,369.9L281.9,369.6L282.2,369.2L282.6,368.9L282.9,368.6L283.3,368.3L283.7,367.9L284.0,367.6L284.4,367.3L284.8,367.0L285.1,366.7L285.5,366.3L285.9,366.0L286.2,365.7L286.6,365.4L287.0,365.1L287.4,364.7L287.7,364.4L288.1,364.1L288.5,363.8L288.9,363.5L289.3,363.1L289.7,362.8L290.0,362.5L290.4,362.2L290.8,361.9L291.2,361.5L291.6,361.2L292.0,360.9L292.4,360.6L292.8,360.3L293.2,360.0L293.7,359.6L294.1,359.3L294.5,359.0L294.9,358.7L295.3,358.4L295.8,358.1L296.2,357.7L296.6,357.4L297.1,357.1L297.5,356.8L298.0,356.5L298.4,356.2L298.9,355.9L299.3,355.6L299.8,355.3L300.3,355.0L300.7,354.7L301.2,354.4L301.7,354.1L302.1,353.8L302.6,353.5L303.1,353.2L303.6,352.9L304.1,352.6L304.6,352.3L305.0,352.0L305.5,351.7L306.0,351.4L306.5,351.1L307.0,350.8L307.5,350.6L308.0,350.3L308.6,350.0L309.1,349.7L309.6,349.4L310.1,349.1L310.6,348.9L311.1,348.6L311.7,348.3L312.2,348.0L312.7,347.8L313.2,347.5L313.8,347.2L314.3,346.9L314.8,346.7L315.4,346.4L315.9,346.1L316.5,345.9L317.0,345.6L317.5,345.3L318.1,345.1L318.6,344.8L319.2,344.6L319.7,344.3L320.3,344.1L320.9,343.8L321.4,343.6L322.0,343.3L322.5,343.1L323.1,342.8L323.7,342.6L324.3,342.3L324.8,342.1L325.4,341.9L326.0,341.6L326.6,341.4L327.1,341.2L327.7,340.9L328.3,340.7L328.9,340.5L329.5,340.2L330.1,340.0L330.7,339.8L331.3,339.6L331.9,339.4L332.5,339.2L333.1,339.0L333.7,338.8L334.3,338.6L334.9,338.4L335.5,338.2L336.2,338.0L336.8,337.8L337.4,337.6L338.0,337.4L338.6,337.2L339.3,337.1L339.9,336.9L340.5,336.7L341.1,336.5L341.8,336.4L342.4,336.2L343.0,336.0L343.7,335.9L344.3,335.7L345.0,335.5L345.6,335.4L346.2,335.2L346.9,335.1L347.5,334.9L348.2,334.8L348.8,334.6L349.4,334.5L350.1,334.3L350.7,334.2L351.4,334.0L352.0,333.9L352.7,333.7L353.3,333.6L354.0,333.4L354.6,333.3L355.3,333.2L355.9,333.0L356.6,332.9L357.2,332.7L357.9,332.6L358.5,332.5L359.2,332.3L359.8,332.2L360.5,332.1L361.1,331.9L361.8,331.8L362.4,331.7L363.1,331.6L363.7,331.4L364.4,331.3L365.1,331.2L365.7,331.1L366.4,331.0L367.0,330.9L367.7,330.8L368.4,330.7L369.0,330.5L369.7,330.4L370.4,330.4L371.0,330.3L371.7,330.2L372.4,330.1L373.0,330.0L373.7,329.9L374.4,329.8L375.0,329.8L375.7,329.7L376.4,329.6L377.1,329.6L377.7,329.5L378.4,329.5L379.1,329.4L379.8,329.4L380.5,329.4L381.1,329.3L381.8,329.3L382.5,329.3L383.2,329.3L383.9,329.3L384.5,329.3L385.2,329.3L385.9,329.3L386.6,329.3L387.3,329.3L387.9,329.4L388.6,329.4L389.3,329.4L390.0,329.5L390.6,329.5L391.3,329.6L392.0,329.6L392.7,329.7L393.3,329.8L394.0,329.9L394.7,329.9L395.4,330.0L396.0,330.1L396.7,330.2L397.4,330.3L398.0,330.4L398.7,330.5L399.3,330.7L400.0,330.8L400.6,330.9L401.3,331.0L401.9,331.2L402.6,331.3L403.2,331.5L403.9,331.6L404.5,331.8L405.2,331.9L405.8,332.1L406.4,332.3L407.0,332.5L407.7,332.6L408.3,332.8L408.9,333.0L409.5,333.2L410.1,333.4L410.7,333.6L411.3,333.8L411.9,334.1L412.5,334.3L413.1,334.5L413.7,334.7L414.3,335.0L414.9,335.2L415.4,335.4L416.0,335.7L416.6,335.9L417.1,336.2L417.7,336.5L418.2,336.7L418.7,337.0L419.3,337.3L419.8,337.5L420.3,337.8L420.8,338.1L421.4,338.4L421.9,338.6L422.4,338.9L422.9,339.2L423.4,339.5L423.9,339.8L424.4,340.1L424.9,340.3L425.4,340.6L425.9,340.9L426.4,341.2L426.9,341.5L427.4,341.8L427.9,342.1L428.4,342.4L429.0,342.6L429.5,342.9L430.0,343.2L430.5,343.5L431.0,343.8L431.5,344.1L432.0,344.3L432.6,344.6L433.1,344.9L433.6,345.2L434.1,345.4L434.7,345.7L435.2,346.0L435.7,346.3L436.2,346.5L436.7,346.8L437.3,347.1L437.8,347.4L438.3,347.6L438.8,347.9L439.4,348.2L439.9,348.5L440.4,348.7L440.9,349.0L441.5,349.3L442.0,349.6L442.5,349.9L443.0,350.1L443.5,350.4L444.0,350.7L444.5,351.0L445.1,351.3L445.6,351.6L446.1,351.8L446.6,352.1L447.1,352.4L447.6,352.7L448.1,353.0L448.6,353.3L449.1,353.6L449.6,353.9L450.1,354.2L450.6,354.4L451.0,354.7L451.5,355.0L452.0,355.3L452.5,355.6L453.0,355.9L453.5,356.2L453.9,356.5L454.4,356.8L454.9,357.1L455.4,357.4L455.8,357.7L456.3,358.0L456.8,358.3L457.2,358.6L457.7,358.9L458.2,359.2L458.6,359.5L459.1,359.8L459.5,360.1L460.0,360.5L460.5,360.8L460.9,361.1L461.4,361.4L461.8,361.7L462.2,362.0L462.7,362.3L463.1,362.6L463.6,362.9L464.0,363.2L464.4,363.6L464.9,363.9L465.3,364.2L465.7,364.5L466.1,364.8L466.6,365.1L467.0,365.4L467.4,365.8L467.8,366.1L468.2,366.4L468.7,366.7L469.1,367.0L469.5,367.3L469.9,367.7L470.3,368.0L470.7,368.3L471.1,368.6L471.5,368.9L471.9,369.2L472.3,369.6L472.7,369.9L473.1,370.2L473.4,370.5L473.8,370.8L474.2,371.2L474.6,371.5L475.0,371.8L475.3,372.1L475.7,372.4L476.1,372.8L476.4,373.1L476.8,373.4L477.2,373.7L477.5,374.1L477.9,374.4L478.2,374.7L478.6,375.0L478.9,375.3L479.3,375.7L479.6,376.0L480.0,376.3L480.3,376.6L480.6,376.9L481.0,377.3" fill="none" stroke="#2e2e2e" stroke-width="1.0"/>
</g>
<path d="M273.0,360.0L273.1,358.6L273.2,357.2L273.3,355.9L273.4,354.5L273.4,353.1L273.5,351.7L273.5,350.3L273.6,349.0L273.6,347.6L273.6,346.2L273.6,344.8L273.7,343.4L273.7,342.1L273.7,340.7L273.7,339.3L273.7,337.9L273.7,336.5L273.7,335.1L273.7,333.8L273.8,332.4L273.8,331.0L273.8,329.6L273.8,328.2L273.8,326.9L273.9,325.5L273.9,324.1L274.0,322.7L274.0,321.3L274.1,320.0L274.2,318.6L274.2,317.2L274.3,315.8L274.4,314.4L274.6,313.1L274.7,311.7L274.8,310.3L275.0,308.9L275.2,307.6L275.4,306.2L275.6,304.8L275.8,303.5L276.0,302.1L276.3,300.8L276.6,299.4L276.9,298.0L277.2,296.7L277.5,295.4L277.9,294.0L278.3,292.7L278.7,291.4L279.1,290.1L279.5,288.7L280.0,287.4L280.4,286.1L280.9,284.8L281.4,283.6L281.9,282.3L282.5,281.0L283.0,279.7L283.6,278.5L284.2,277.2L284.8,276.0L285.4,274.7L286.0,273.5L286.6,272.3L287.3,271.1L287.9,269.8L288.6,268.6L289.3,267.4L290.0,266.3L290.7,265.1L291.5,263.9L292.2,262.7L293.0,261.6L293.7,260.4L294.5,259.3L295.3,258.1L296.1,257.0L296.9,255.9L297.7,254.8L298.5,253.7L299.4,252.6L300.2,251.5L301.1,250.4L302.0,249.4L302.9,248.3L303.8,247.3L304.7,246.2L305.7,245.2L306.6,244.2L307.6,243.2L308.5,242.2L309.5,241.3L310.5,240.3L311.5,239.4L312.6,238.5L313.6,237.6L314.7,236.7L315.7,235.8L316.8,234.9L317.9,234.1L319.0,233.3L320.1,232.4L321.2,231.6L322.4,230.8L323.5,230.1L324.7,229.3L325.8,228.6L327.0,227.8L328.2,227.1L329.4,226.4L330.6,225.7L331.8,225.0L333.0,224.3L334.2,223.7L335.4,223.0L336.6,222.4L337.8,221.7L339.1,221.1L340.3,220.5L341.5,219.8L342.8,219.2L344.0,218.6L345.3,218.0L346.5,217.4L347.7,216.8L349.0,216.2L350.2,215.6L351.5,215.1L352.8,214.5L354.0,213.9L355.3,213.4L356.6,212.8L357.8,212.3L359.1,211.8L360.4,211.3L361.7,210.8L363.0,210.3L364.3,209.9L365.6,209.4L366.9,209.0L368.2,208.6L369.6,208.2L370.9,207.8L372.2,207.4L373.6,207.1L374.9,206.8L376.3,206.5L377.6,206.3L379.0,206.0L380.4,205.8L381.7,205.7L383.1,205.5L384.5,205.4L385.9,205.3L387.2,205.3L388.6,205.2L390.0,205.3L391.4,205.3L392.8,205.4L394.1,205.5L395.5,205.6L396.9,205.8L398.2,206.0L399.6,206.3L401.0,206.5L402.3,206.8L403.7,207.2L405.0,207.5L406.3,207.9L407.6,208.3L408.9,208.8L410.2,209.3L411.5,209.8L412.8,210.3L414.0,210.9L415.3,211.5L416.5,212.1L417.7,212.8L419.0,213.4L420.1,214.1L421.3,214.9L422.5,215.6L423.6,216.4L424.7,217.3L425.8,218.1L426.9,219.0L427.9,219.9L428.9,220.8L429.9,221.8L430.9,222.7L431.9,223.7L432.8,224.8L433.7,225.8L434.5,226.9L435.4,228.0L436.1,229.2L436.9,230.3L437.7,231.5L438.4,232.6L439.1,233.8L439.7,235.0L440.4,236.3L441.0,237.5L441.7,238.7L442.3,239.9L442.9,241.2L443.5,242.4L444.2,243.7L444.8,244.9L445.4,246.1L446.0,247.4L446.7,248.6L447.3,249.8L448.0,251.0L448.6,252.2L449.3,253.4L450.0,254.6L450.7,255.8L451.4,257.0L452.1,258.2L452.8,259.4L453.5,260.6L454.2,261.8L455.0,262.9L455.7,264.1L456.4,265.3L457.1,266.5L457.8,267.7L458.5,268.9L459.2,270.1L459.8,271.3L460.5,272.5L461.2,273.7L461.8,274.9L462.5,276.1L463.1,277.4L463.7,278.6L464.4,279.8L465.0,281.1L465.6,282.3L466.2,283.6L466.7,284.8L467.3,286.1L467.9,287.3L468.4,288.6L469.0,289.9L469.5,291.2L470.0,292.4L470.5,293.7L471.0,295.0L471.5,296.3L472.0,297.6L472.5,298.9L472.9,300.2L473.4,301.5L473.8,302.8L474.2,304.1L474.6,305.5L475.0,306.8L475.4,308.1L475.8,309.4L476.2,310.8L476.5,312.1L476.9,313.4L477.2,314.8L477.5,316.1L477.8,317.5L478.1,318.8L478.4,320.2L478.7,321.5L478.9,322.9L479.2,324.2L479.4,325.6L479.6,327.0L479.8,328.3L480.0,329.7L480.2,331.1L480.4,332.4L480.6,333.8L480.7,335.2L480.8,336.6L480.9,337.9L481.0,339.3L481.1,340.7L481.2,342.1L481.3,343.5L481.3,344.8L481.4,346.2L481.4,347.6L481.4,349.0L481.4,350.4L481.4,351.7L481.3,353.1L481.3,354.5L481.2,355.9L481.1,357.3L481.0,358.6L480.9,360.0" fill="none" stroke="#2a2a2a" stroke-width="1.0"/>
<path d="M276.8,333.7L276.9,334.7L277.0,335.7L277.2,336.8L277.3,337.8L277.5,338.8L277.6,339.8L277.7,340.9L277.9,341.9L278.0,342.9L278.2,343.9L278.3,345.0L278.4,346.0L278.6,347.0L278.7,348.0L278.8,349.1L279.0,350.1L279.1,351.1L279.3,352.1L279.4,353.2L279.5,354.2L279.7,355.2L279.8,356.2L280.0,357.3L280.1,358.3L280.2,359.3L280.4,360.3L280.5,361.4L280.7,362.4L280.8,363.4L280.9,364.4L281.1,365.5L281.2,366.5L281.4,367.5L281.5,368.5L281.6,369.6L281.8,370.6L281.9,371.6L282.1,372.6L282.4,373.7L282.8,374.7L283.2,375.7L283.7,376.7L284.3,377.8L284.9,378.8L285.7,379.8L286.6,380.8L287.6,381.9L288.7,382.9L290.1,383.9L291.9,384.9L294.2,386.0L300.0,387.0L300.0,387.0L305.5,386.0L307.6,384.9L309.0,383.9L310.1,382.9L311.0,381.9L311.8,380.8L312.4,379.8L312.9,378.8L313.2,377.8L313.5,376.7L313.8,375.7L313.9,374.7L314.0,373.7L314.0,372.6L313.9,371.6L313.8,370.6L313.6,369.6L313.5,368.5L313.4,367.5L313.2,366.5L313.1,365.5L312.9,364.4L312.8,363.4L312.7,362.4L312.5,361.4L312.4,360.3L312.2,359.3L312.1,358.3L312.0,357.3L311.8,356.2L311.7,355.2L311.5,354.2L311.4,353.2L311.3,352.1L311.1,351.1L311.0,350.1L310.8,349.1L310.7,348.0L310.6,347.0L310.4,346.0L310.3,345.0L310.2,343.9L310.0,342.9L309.9,341.9L309.7,340.9L309.6,339.8L309.5,338.8L309.3,337.8L309.2,336.8L309.0,335.7L308.9,334.7L308.8,333.7Z" fill="#fff"/>
<path d="M289.0,306.0L283.9,307.0L282.0,308.1L280.8,309.1L279.8,310.1L279.1,311.1L278.5,312.2L278.1,313.2L277.8,314.2L277.7,315.2L277.6,316.3L277.6,317.3L277.7,318.3L277.9,319.3L278.0,320.4L278.1,321.4L278.3,322.4L278.4,323.4L278.6,324.5L278.7,325.5L278.8,326.5L279.0,327.5L279.1,328.6L279.3,329.6L279.4,330.6L279.5,331.6L279.7,332.7L279.8,333.7L280.0,334.7L280.1,335.7L280.2,336.8L280.4,337.8L280.5,338.8L280.7,339.8L280.8,340.9L280.9,341.9L281.1,342.9L281.2,343.9L281.3,345.0L281.5,346.0L281.6,347.0L281.8,348.0L281.9,349.1L282.0,350.1L282.2,351.1L282.3,352.1L282.5,353.2L282.6,354.2L282.7,355.2L282.9,356.2L283.0,357.3L283.2,358.3L283.3,359.3L283.4,360.3L283.6,361.4L283.7,362.4L283.9,363.4L284.0,364.4L284.1,365.5L284.3,366.5L284.4,367.5L284.5,368.5L284.7,369.6L284.8,370.6L285.0,371.6L285.2,372.6L285.4,373.7L285.7,374.7L286.1,375.7L286.5,376.7L287.0,377.8L287.6,378.8L288.2,379.8L289.0,380.8L289.8,381.9L290.8,382.9L292.0,383.9L293.4,384.9L295.3,386.0L300.0,387.0M289.0,306.0L287.1,307.0L286.5,308.1L286.1,309.1L285.8,310.1L285.6,311.1L285.5,312.2L285.4,313.2L285.4,314.2L285.4,315.2L285.5,316.3L285.6,317.3L285.7,318.3L285.9,319.3L286.0,320.4L286.1,321.4L286.3,322.4L286.4,323.4L286.6,324.5L286.7,325.5L286.8,326.5L287.0,327.5L287.1,328.6L287.3,329.6L287.4,330.6L287.5,331.6L287.7,332.7L287.8,333.7L288.0,334.7L288.1,335.7L288.2,336.8L288.4,337.8L288.5,338.8L288.7,339.8L288.8,340.9L288.9,341.9L289.1,342.9L289.2,343.9L289.3,345.0L289.5,346.0L289.6,347.0L289.8,348.0L289.9,349.1L290.0,350.1L290.2,351.1L290.3,352.1L290.5,353.2L290.6,354.2L290.7,355.2L290.9,356.2L291.0,357.3L291.2,358.3L291.3,359.3L291.4,360.3L291.6,361.4L291.7,362.4L291.9,363.4L292.0,364.4L292.1,365.5L292.3,366.5L292.4,367.5L292.5,368.5L292.7,369.6L292.8,370.6L293.0,371.6L293.1,372.6L293.3,373.7L293.5,374.7L293.7,375.7L294.0,376.7L294.3,377.8L294.6,378.8L294.9,379.8L295.3,380.8L295.7,381.9L296.1,382.9L296.7,383.9L297.3,384.9L298.1,386.0L300.0,387.0M289.0,306.0L291.1,307.0L292.0,308.1L292.7,309.1L293.3,310.1L293.7,311.1L294.2,312.2L294.5,313.2L294.8,314.2L295.1,315.2L295.3,316.3L295.5,317.3L295.6,318.3L295.8,319.3L295.9,320.4L296.0,321.4L296.2,322.4L296.3,323.4L296.5,324.5L296.6,325.5L296.7,326.5L296.9,327.5L297.0,328.6L297.1,329.6L297.3,330.6L297.4,331.6L297.6,332.7L297.7,333.7L297.8,334.7L298.0,335.7L298.1,336.8L298.3,337.8L298.4,338.8L298.5,339.8L298.7,340.9L298.8,341.9L299.0,342.9L299.1,343.9L299.2,345.0L299.4,346.0L299.5,347.0L299.7,348.0L299.8,349.1L299.9,350.1L300.1,351.1L300.2,352.1L300.3,353.2L300.5,354.2L300.6,355.2L300.8,356.2L300.9,357.3L301.0,358.3L301.2,359.3L301.3,360.3L301.5,361.4L301.6,362.4L301.7,363.4L301.9,364.4L302.0,365.5L302.2,366.5L302.3,367.5L302.4,368.5L302.6,369.6L302.7,370.6L302.9,371.6L303.0,372.6L303.1,373.7L303.1,374.7L303.2,375.7L303.2,376.7L303.2,377.8L303.2,378.8L303.1,379.8L303.1,380.8L302.9,381.9L302.7,382.9L302.5,383.9L302.1,384.9L301.6,386.0L300.0,387.0M289.0,306.0L294.4,307.0L296.5,308.1L298.1,309.1L299.3,310.1L300.3,311.1L301.1,312.2L301.8,313.2L302.4,314.2L302.8,315.2L303.2,316.3L303.5,317.3L303.6,318.3L303.8,319.3L303.9,320.4L304.0,321.4L304.2,322.4L304.3,323.4L304.5,324.5L304.6,325.5L304.7,326.5L304.9,327.5L305.0,328.6L305.1,329.6L305.3,330.6L305.4,331.6L305.6,332.7L305.7,333.7L305.8,334.7L306.0,335.7L306.1,336.8L306.3,337.8L306.4,338.8L306.5,339.8L306.7,340.9L306.8,341.9L307.0,342.9L307.1,343.9L307.2,345.0L307.4,346.0L307.5,347.0L307.7,348.0L307.8,349.1L307.9,350.1L308.1,351.1L308.2,352.1L308.3,353.2L308.5,354.2L308.6,355.2L308.8,356.2L308.9,357.3L309.0,358.3L309.2,359.3L309.3,360.3L309.5,361.4L309.6,362.4L309.7,363.4L309.9,364.4L310.0,365.5L310.2,366.5L310.3,367.5L310.4,368.5L310.6,369.6L310.7,370.6L310.8,371.6L310.9,372.6L311.0,373.7L310.9,374.7L310.8,375.7L310.7,376.7L310.5,377.8L310.2,378.8L309.8,379.8L309.4,380.8L308.8,381.9L308.1,382.9L307.2,383.9L306.1,384.9L304.4,386.0L300.0,387.0M276.1,328.5L279.0,329.2L281.9,329.8L284.8,330.2L287.7,330.5L290.6,330.7L293.5,330.7L296.4,330.5L299.3,330.2L302.2,329.8L305.1,329.2L308.1,328.5M276.7,333.0L279.6,333.7L282.5,334.3L285.4,334.7L288.3,335.0L291.2,335.2L294.1,335.2L297.0,335.0L299.9,334.7L302.8,334.3L305.8,333.7L308.7,333.0M277.3,337.5L280.2,338.2L283.1,338.8L286.0,339.2L288.9,339.5L291.8,339.7L294.7,339.7L297.6,339.5L300.6,339.2L303.5,338.8L306.4,338.2L309.3,337.5M277.9,342.0L280.8,342.7L283.7,343.3L286.6,343.7L289.5,344.0L292.4,344.2L295.3,344.2L298.3,344.0L301.2,343.7L304.1,343.3L307.0,342.7L309.9,342.0M278.5,346.5L281.4,347.2L284.3,347.8L287.2,348.2L290.1,348.5L293.0,348.7L296.0,348.7L298.9,348.5L301.8,348.2L304.7,347.8L307.6,347.2L310.5,346.5M279.1,351.0L282.0,351.7L284.9,352.3L287.8,352.7L290.7,353.0L293.7,353.2L296.6,353.2L299.5,353.0L302.4,352.7L305.3,352.3L308.2,351.7L311.1,351.0M279.7,355.5L282.6,356.2L285.5,356.8L288.4,357.2L291.4,357.5L294.3,357.7L297.2,357.7L300.1,357.5L303.0,357.2L305.9,356.8L308.8,356.2L311.7,355.5M280.3,360.0L283.2,360.7L286.2,361.3L289.1,361.7L292.0,362.0L294.9,362.2L297.8,362.2L300.7,362.0L303.6,361.7L306.5,361.3L309.4,360.7L312.3,360.0M280.9,364.5L283.9,365.2L286.8,365.8L289.7,366.2L292.6,366.5L295.5,366.7L298.4,366.7L301.3,366.5L304.2,366.2L307.1,365.8L310.0,365.2L312.9,364.5M281.6,369.0L284.5,369.7L287.4,370.3L290.3,370.7L293.2,371.0L296.1,371.2L299.0,371.2L301.9,371.0L304.8,370.7L307.7,370.3L310.6,369.7L313.6,369.0M282.4,373.5L285.2,374.2L288.1,374.8L291.0,375.2L293.9,375.5L296.7,375.7L299.6,375.7L302.5,375.5L305.4,375.2L308.2,374.8L311.1,374.2L314.0,373.5M284.4,378.0L287.0,378.7L289.6,379.2L292.2,379.7L294.9,379.9L297.5,380.1L300.1,380.1L302.7,379.9L305.3,379.7L307.9,379.2L310.5,378.7L313.2,378.0M288.3,382.5L290.3,383.1L292.3,383.6L294.3,384.0L296.4,384.2L298.4,384.3L300.4,384.3L302.4,384.2L304.4,384.0L306.5,383.6L308.5,383.1L310.5,382.5" fill="none" stroke="#333" stroke-width="1.0"/>
<path d="M275.5,324.5L275.6,325.5L275.8,326.5L275.9,327.5L276.1,328.6L276.2,329.6L276.3,330.6L276.5,331.6L276.6,332.7L276.8,333.7L276.9,334.7L277.0,335.7L277.2,336.8L277.3,337.8L277.5,338.8L277.6,339.8L277.7,340.9L277.9,341.9L278.0,342.9L278.2,343.9L278.3,345.0L278.4,346.0L278.6,347.0L278.7,348.0L278.8,349.1L279.0,350.1L279.1,351.1L279.3,352.1L279.4,353.2L279.5,354.2L279.7,355.2L279.8,356.2L280.0,357.3L280.1,358.3L280.2,359.3L280.4,360.3L280.5,361.4L280.7,362.4L280.8,363.4L280.9,364.4L281.1,365.5L281.2,366.5L281.4,367.5L281.5,368.5L281.6,369.6L281.8,370.6L281.9,371.6L282.1,372.6L282.4,373.7L282.8,374.7L283.2,375.7L283.7,376.7L284.3,377.8L284.9,378.8L285.7,379.8L286.6,380.8L287.6,381.9L288.7,382.9L290.1,383.9L291.9,384.9L294.2,386.0L300.0,387.0L300.0,387.0L305.5,386.0L307.6,384.9L309.0,383.9L310.1,382.9L311.0,381.9L311.8,380.8L312.4,379.8L312.9,378.8L313.2,377.8L313.5,376.7L313.8,375.7L313.9,374.7L314.0,373.7L314.0,372.6L313.9,371.6L313.8,370.6L313.6,369.6L313.5,368.5L313.4,367.5L313.2,366.5L313.1,365.5L312.9,364.4L312.8,363.4L312.7,362.4L312.5,361.4L312.4,360.3L312.2,359.3L312.1,358.3L312.0,357.3L311.8,356.2L311.7,355.2L311.5,354.2L311.4,353.2L311.3,352.1L311.1,351.1L311.0,350.1L310.8,349.1L310.7,348.0L310.6,347.0L310.4,346.0L310.3,345.0L310.2,343.9L310.0,342.9L309.9,341.9L309.7,340.9L309.6,339.8L309.5,338.8L309.3,337.8L309.2,336.8L309.0,335.7L308.9,334.7L308.8,333.7L308.6,332.7L308.5,331.6L308.3,330.6L308.2,329.6L308.1,328.6L307.9,327.5L307.8,326.5L307.6,325.5L307.5,324.5" fill="none" stroke="#2a2a2a" stroke-width="1.1"/>
<path d="M280.9,364.0L283.8,365.0L286.7,365.8L289.6,366.4L292.5,366.8L295.4,367.0L298.3,367.0L301.2,366.8L304.1,366.4L307.1,365.8L310.0,365.0L312.9,364.0" fill="none" stroke="#333" stroke-width="1.0"/>
<path d="M307.0,325.4L307.0,326.6L307.0,327.8L307.0,329.0L307.1,330.1L307.1,331.3L307.1,332.5L307.1,333.7L307.1,334.8L307.1,336.0L307.2,337.2L307.2,338.4L307.2,339.6L307.2,340.7L307.2,341.9L307.3,343.1L307.3,344.3L307.3,345.4L307.3,346.6L307.3,347.8L307.4,349.0L307.4,350.2L307.4,351.3L307.4,352.5L307.4,353.7L307.4,354.9L307.5,356.0L307.5,357.2L307.5,358.4L307.5,359.6L307.5,360.7L307.6,361.9L307.6,363.1L307.6,364.3L307.6,365.5L307.6,366.6L307.7,367.8L307.7,369.0L307.7,370.2L307.7,371.3L307.7,372.5L307.8,373.7L308.0,374.9L308.3,376.1L308.6,377.2L309.0,378.4L309.6,379.6L310.2,380.8L311.0,381.9L311.9,383.1L313.0,384.3L314.4,385.5L316.1,386.6L318.4,387.8L324.5,389.0L324.5,389.0L330.5,387.8L332.8,386.6L334.5,385.5L335.8,384.3L336.9,383.1L337.8,381.9L338.5,380.8L339.1,379.6L339.6,378.4L340.0,377.2L340.3,376.1L340.5,374.9L340.7,373.7L340.7,372.5L340.7,371.3L340.7,370.2L340.7,369.0L340.7,367.8L340.6,366.6L340.6,365.5L340.6,364.3L340.6,363.1L340.6,361.9L340.5,360.7L340.5,359.6L340.5,358.4L340.5,357.2L340.5,356.0L340.4,354.9L340.4,353.7L340.4,352.5L340.4,351.3L340.4,350.2L340.4,349.0L340.3,347.8L340.3,346.6L340.3,345.4L340.3,344.3L340.3,343.1L340.2,341.9L340.2,340.7L340.2,339.6L340.2,338.4L340.2,337.2L340.1,336.0L340.1,334.8L340.1,333.7L340.1,332.5L340.1,331.3L340.1,330.1L340.0,329.0L340.0,327.8L340.0,326.6L340.0,325.4Z" fill="#fff"/>
<path d="M323.0,296.0L316.0,297.2L313.4,298.4L311.7,299.5L310.5,300.7L309.7,301.9L309.2,303.1L308.9,304.2L308.9,305.4L308.9,306.6L308.9,307.8L308.9,308.9L308.9,310.1L309.0,311.3L309.0,312.5L309.0,313.7L309.0,314.8L309.0,316.0L309.1,317.2L309.1,318.4L309.1,319.5L309.1,320.7L309.1,321.9L309.1,323.1L309.2,324.3L309.2,325.4L309.2,326.6L309.2,327.8L309.2,329.0L309.3,330.1L309.3,331.3L309.3,332.5L309.3,333.7L309.3,334.8L309.4,336.0L309.4,337.2L309.4,338.4L309.4,339.6L309.4,340.7L309.5,341.9L309.5,343.1L309.5,344.3L309.5,345.4L309.5,346.6L309.5,347.8L309.6,349.0L309.6,350.2L309.6,351.3L309.6,352.5L309.6,353.7L309.7,354.9L309.7,356.0L309.7,357.2L309.7,358.4L309.7,359.6L309.8,360.7L309.8,361.9L309.8,363.1L309.8,364.3L309.8,365.5L309.8,366.6L309.9,367.8L309.9,369.0L309.9,370.2L309.9,371.3L310.0,372.5L310.0,373.7L310.2,374.9L310.4,376.1L310.7,377.2L311.1,378.4L311.6,379.6L312.1,380.8L312.8,381.9L313.6,383.1L314.6,384.3L315.7,385.5L317.2,386.6L319.3,387.8L324.5,389.0M323.0,296.0L318.9,297.2L317.5,298.4L316.5,299.5L315.8,300.7L315.4,301.9L315.1,303.1L314.9,304.2L314.9,305.4L314.9,306.6L314.9,307.8L315.0,308.9L315.0,310.1L315.0,311.3L315.0,312.5L315.0,313.7L315.1,314.8L315.1,316.0L315.1,317.2L315.1,318.4L315.1,319.5L315.1,320.7L315.2,321.9L315.2,323.1L315.2,324.3L315.2,325.4L315.2,326.6L315.3,327.8L315.3,329.0L315.3,330.1L315.3,331.3L315.3,332.5L315.4,333.7L315.4,334.8L315.4,336.0L315.4,337.2L315.4,338.4L315.5,339.6L315.5,340.7L315.5,341.9L315.5,343.1L315.5,344.3L315.5,345.4L315.6,346.6L315.6,347.8L315.6,349.0L315.6,350.2L315.6,351.3L315.7,352.5L315.7,353.7L315.7,354.9L315.7,356.0L315.7,357.2L315.8,358.4L315.8,359.6L315.8,360.7L315.8,361.9L315.8,363.1L315.9,364.3L315.9,365.5L315.9,366.6L315.9,367.8L315.9,369.0L315.9,370.2L316.0,371.3L316.0,372.5L316.0,373.7L316.1,374.9L316.3,376.1L316.5,377.2L316.7,378.4L317.0,379.6L317.3,380.8L317.7,381.9L318.2,383.1L318.7,384.3L319.4,385.5L320.3,386.6L321.5,387.8L324.5,389.0M323.0,296.0L323.0,297.2L323.0,298.4L323.1,299.5L323.1,300.7L323.1,301.9L323.1,303.1L323.1,304.2L323.2,305.4L323.2,306.6L323.2,307.8L323.2,308.9L323.2,310.1L323.2,311.3L323.3,312.5L323.3,313.7L323.3,314.8L323.3,316.0L323.3,317.2L323.4,318.4L323.4,319.5L323.4,320.7L323.4,321.9L323.4,323.1L323.5,324.3L323.5,325.4L323.5,326.6L323.5,327.8L323.5,329.0L323.6,330.1L323.6,331.3L323.6,332.5L323.6,333.7L323.6,334.8L323.6,336.0L323.7,337.2L323.7,338.4L323.7,339.6L323.7,340.7L323.7,341.9L323.8,343.1L323.8,344.3L323.8,345.4L323.8,346.6L323.8,347.8L323.9,349.0L323.9,350.2L323.9,351.3L323.9,352.5L323.9,353.7L323.9,354.9L324.0,356.0L324.0,357.2L324.0,358.4L324.0,359.6L324.0,360.7L324.1,361.9L324.1,363.1L324.1,364.3L324.1,365.5L324.1,366.6L324.2,367.8L324.2,369.0L324.2,370.2L324.2,371.3L324.2,372.5L324.3,373.7L324.3,374.9L324.3,376.1L324.3,377.2L324.3,378.4L324.3,379.6L324.4,380.8L324.4,381.9L324.4,383.1L324.4,384.3L324.4,385.5L324.5,386.6L324.5,387.8L324.5,389.0M323.0,296.0L327.1,297.2L328.6,298.4L329.6,299.5L330.3,300.7L330.8,301.9L331.2,303.1L331.4,304.2L331.4,305.4L331.4,306.6L331.4,307.8L331.5,308.9L331.5,310.1L331.5,311.3L331.5,312.5L331.5,313.7L331.6,314.8L331.6,316.0L331.6,317.2L331.6,318.4L331.6,319.5L331.6,320.7L331.7,321.9L331.7,323.1L331.7,324.3L331.7,325.4L331.7,326.6L331.8,327.8L331.8,329.0L331.8,330.1L331.8,331.3L331.8,332.5L331.9,333.7L331.9,334.8L331.9,336.0L331.9,337.2L331.9,338.4L332.0,339.6L332.0,340.7L332.0,341.9L332.0,343.1L332.0,344.3L332.0,345.4L332.1,346.6L332.1,347.8L332.1,349.0L332.1,350.2L332.1,351.3L332.2,352.5L332.2,353.7L332.2,354.9L332.2,356.0L332.2,357.2L332.3,358.4L332.3,359.6L332.3,360.7L332.3,361.9L332.3,363.1L332.4,364.3L332.4,365.5L332.4,366.6L332.4,367.8L332.4,369.0L332.4,370.2L332.5,371.3L332.5,372.5L332.5,373.7L332.4,374.9L332.3,376.1L332.2,377.2L332.0,378.4L331.7,379.6L331.4,380.8L331.1,381.9L330.6,383.1L330.1,384.3L329.5,385.5L328.7,386.6L327.5,387.8L324.5,389.0M323.0,296.0L330.1,297.2L332.7,298.4L334.4,299.5L335.6,300.7L336.5,301.9L337.1,303.1L337.4,304.2L337.4,305.4L337.5,306.6L337.5,307.8L337.5,308.9L337.5,310.1L337.5,311.3L337.6,312.5L337.6,313.7L337.6,314.8L337.6,316.0L337.6,317.2L337.7,318.4L337.7,319.5L337.7,320.7L337.7,321.9L337.7,323.1L337.7,324.3L337.8,325.4L337.8,326.6L337.8,327.8L337.8,329.0L337.8,330.1L337.9,331.3L337.9,332.5L337.9,333.7L337.9,334.8L337.9,336.0L338.0,337.2L338.0,338.4L338.0,339.6L338.0,340.7L338.0,341.9L338.0,343.1L338.1,344.3L338.1,345.4L338.1,346.6L338.1,347.8L338.1,349.0L338.2,350.2L338.2,351.3L338.2,352.5L338.2,353.7L338.2,354.9L338.3,356.0L338.3,357.2L338.3,358.4L338.3,359.6L338.3,360.7L338.4,361.9L338.4,363.1L338.4,364.3L338.4,365.5L338.4,366.6L338.4,367.8L338.5,369.0L338.5,370.2L338.5,371.3L338.5,372.5L338.5,373.7L338.4,374.9L338.2,376.1L337.9,377.2L337.6,378.4L337.1,379.6L336.6,380.8L336.0,381.9L335.2,383.1L334.3,384.3L333.2,385.5L331.7,386.6L329.7,387.8L324.5,389.0M306.9,319.2L309.9,320.0L312.9,320.6L315.9,321.0L318.9,321.3L321.9,321.4L324.9,321.4L327.9,321.3L330.9,321.0L333.9,320.6L336.9,320.0L339.9,319.2M306.9,323.9L309.9,324.6L312.9,325.2L315.9,325.6L318.9,325.9L321.9,326.1L324.9,326.1L327.9,325.9L330.9,325.6L333.9,325.2L336.9,324.6L339.9,323.9M307.0,328.6L310.0,329.3L313.0,329.9L316.0,330.3L319.0,330.6L322.0,330.7L325.0,330.7L328.0,330.6L331.0,330.3L334.0,329.9L337.0,329.3L340.0,328.6M307.1,333.2L310.1,333.9L313.1,334.5L316.1,334.9L319.1,335.2L322.1,335.4L325.1,335.4L328.1,335.2L331.1,334.9L334.1,334.5L337.1,333.9L340.1,333.2M307.2,337.9L310.2,338.6L313.2,339.2L316.2,339.6L319.2,339.9L322.2,340.0L325.2,340.0L328.2,339.9L331.2,339.6L334.2,339.2L337.2,338.6L340.2,337.9M307.2,342.5L310.2,343.2L313.2,343.8L316.2,344.2L319.2,344.5L322.2,344.7L325.2,344.7L328.2,344.5L331.2,344.2L334.2,343.8L337.2,343.2L340.2,342.5M307.3,347.1L310.3,347.9L313.3,348.5L316.3,348.9L319.3,349.2L322.3,349.3L325.3,349.3L328.3,349.2L331.3,348.9L334.3,348.5L337.3,347.9L340.3,347.1M307.4,351.8L310.4,352.5L313.4,353.1L316.4,353.5L319.4,353.8L322.4,354.0L325.4,354.0L328.4,353.8L331.4,353.5L334.4,353.1L337.4,352.5L340.4,351.8M307.5,356.4L310.5,357.2L313.5,357.8L316.5,358.2L319.5,358.5L322.5,358.6L325.5,358.6L328.5,358.5L331.5,358.2L334.5,357.8L337.5,357.2L340.5,356.4M307.6,361.1L310.6,361.8L313.6,362.4L316.6,362.8L319.6,363.1L322.6,363.3L325.6,363.3L328.6,363.1L331.6,362.8L334.6,362.4L337.6,361.8L340.6,361.1M307.6,365.8L310.6,366.5L313.6,367.1L316.6,367.5L319.6,367.8L322.6,367.9L325.6,367.9L328.6,367.8L331.6,367.5L334.6,367.1L337.6,366.5L340.6,365.8M307.7,370.4L310.7,371.1L313.7,371.7L316.7,372.1L319.7,372.4L322.7,372.6L325.7,372.6L328.7,372.4L331.7,372.1L334.7,371.7L337.7,371.1L340.7,370.4M308.0,375.1L311.0,375.8L313.9,376.3L316.9,376.8L319.8,377.1L322.8,377.2L325.8,377.2L328.7,377.1L331.7,376.8L334.6,376.3L337.6,375.8L340.5,375.1M309.6,379.7L312.3,380.4L315.0,380.9L317.7,381.3L320.3,381.6L323.0,381.8L325.7,381.8L328.4,381.6L331.0,381.3L333.7,380.9L336.4,380.4L339.1,379.7M313.1,384.4L315.1,385.0L317.2,385.4L319.3,385.8L321.3,386.0L323.4,386.2L325.5,386.2L327.5,386.0L329.6,385.8L331.6,385.4L333.7,385.0L335.8,384.4" fill="none" stroke="#333" stroke-width="1.0"/>
<path d="M306.7,310.1L306.7,311.3L306.8,312.5L306.8,313.7L306.8,314.8L306.8,316.0L306.8,317.2L306.9,318.4L306.9,319.5L306.9,320.7L306.9,321.9L306.9,323.1L307.0,324.3L307.0,325.4L307.0,326.6L307.0,327.8L307.0,329.0L307.1,330.1L307.1,331.3L307.1,332.5L307.1,333.7L307.1,334.8L307.1,336.0L307.2,337.2L307.2,338.4L307.2,339.6L307.2,340.7L307.2,341.9L307.3,343.1L307.3,344.3L307.3,345.4L307.3,346.6L307.3,347.8L307.4,349.0L307.4,350.2L307.4,351.3L307.4,352.5L307.4,353.7L307.4,354.9L307.5,356.0L307.5,357.2L307.5,358.4L307.5,359.6L307.5,360.7L307.6,361.9L307.6,363.1L307.6,364.3L307.6,365.5L307.6,366.6L307.7,367.8L307.7,369.0L307.7,370.2L307.7,371.3L307.7,372.5L307.8,373.7L308.0,374.9L308.3,376.1L308.6,377.2L309.0,378.4L309.6,379.6L310.2,380.8L311.0,381.9L311.9,383.1L313.0,384.3L314.4,385.5L316.1,386.6L318.4,387.8L324.5,389.0L324.5,389.0L330.5,387.8L332.8,386.6L334.5,385.5L335.8,384.3L336.9,383.1L337.8,381.9L338.5,380.8L339.1,379.6L339.6,378.4L340.0,377.2L340.3,376.1L340.5,374.9L340.7,373.7L340.7,372.5L340.7,371.3L340.7,370.2L340.7,369.0L340.7,367.8L340.6,366.6L340.6,365.5L340.6,364.3L340.6,363.1L340.6,361.9L340.5,360.7L340.5,359.6L340.5,358.4L340.5,357.2L340.5,356.0L340.4,354.9L340.4,353.7L340.4,352.5L340.4,351.3L340.4,350.2L340.4,349.0L340.3,347.8L340.3,346.6L340.3,345.4L340.3,344.3L340.3,343.1L340.2,341.9L340.2,340.7L340.2,339.6L340.2,338.4L340.2,337.2L340.1,336.0L340.1,334.8L340.1,333.7L340.1,332.5L340.1,331.3L340.1,330.1L340.0,329.0L340.0,327.8L340.0,326.6L340.0,325.4L340.0,324.3L339.9,323.1L339.9,321.9L339.9,320.7L339.9,319.5L339.9,318.4L339.8,317.2L339.8,316.0L339.8,314.8L339.8,313.7L339.8,312.5L339.7,311.3L339.7,310.1" fill="none" stroke="#2a2a2a" stroke-width="1.1"/>
<path d="M307.5,356.0L310.5,357.0L313.5,357.8L316.5,358.4L319.5,358.8L322.5,359.0L325.5,359.0L328.5,358.8L331.5,358.4L334.5,357.8L337.5,357.0L340.5,356.0" fill="none" stroke="#333" stroke-width="1.0"/>
<path d="M339.3,321.2L339.3,322.5L339.4,323.8L339.4,325.1L339.4,326.4L339.4,327.6L339.4,328.9L339.4,330.2L339.4,331.5L339.4,332.7L339.5,334.0L339.5,335.3L339.5,336.6L339.5,337.9L339.5,339.1L339.5,340.4L339.5,341.7L339.5,343.0L339.6,344.3L339.6,345.5L339.6,346.8L339.6,348.1L339.6,349.4L339.6,350.6L339.6,351.9L339.6,353.2L339.7,354.5L339.7,355.8L339.7,357.0L339.7,358.3L339.7,359.6L339.7,360.9L339.7,362.2L339.7,363.4L339.8,364.7L339.8,366.0L339.8,367.3L339.8,368.5L339.8,369.8L339.8,371.1L339.8,372.4L339.9,373.7L340.1,374.9L340.4,376.2L340.8,377.5L341.3,378.8L341.9,380.1L342.7,381.3L343.7,382.6L344.8,383.9L346.2,385.2L348.0,386.4L350.5,387.7L357.0,389.0L357.0,389.0L363.5,387.7L365.9,386.4L367.7,385.2L369.1,383.9L370.2,382.6L371.1,381.3L371.9,380.1L372.5,378.8L373.0,377.5L373.3,376.2L373.6,374.9L373.8,373.7L373.8,372.4L373.8,371.1L373.8,369.8L373.8,368.5L373.8,367.3L373.8,366.0L373.8,364.7L373.7,363.4L373.7,362.2L373.7,360.9L373.7,359.6L373.7,358.3L373.7,357.0L373.7,355.8L373.7,354.5L373.6,353.2L373.6,351.9L373.6,350.6L373.6,349.4L373.6,348.1L373.6,346.8L373.6,345.5L373.6,344.3L373.5,343.0L373.5,341.7L373.5,340.4L373.5,339.1L373.5,337.9L373.5,336.6L373.5,335.3L373.5,334.0L373.4,332.7L373.4,331.5L373.4,330.2L373.4,328.9L373.4,327.6L373.4,326.4L373.4,325.1L373.4,323.8L373.3,322.5L373.3,321.2Z" fill="#fff"/>
<path d="M356.0,288.0L348.8,289.3L346.2,290.6L344.4,291.8L343.2,293.1L342.3,294.4L341.8,295.7L341.4,296.9L341.4,298.2L341.4,299.5L341.4,300.8L341.4,302.1L341.4,303.3L341.4,304.6L341.5,305.9L341.5,307.2L341.5,308.5L341.5,309.7L341.5,311.0L341.5,312.3L341.5,313.6L341.5,314.8L341.6,316.1L341.6,317.4L341.6,318.7L341.6,320.0L341.6,321.2L341.6,322.5L341.6,323.8L341.6,325.1L341.7,326.4L341.7,327.6L341.7,328.9L341.7,330.2L341.7,331.5L341.7,332.7L341.7,334.0L341.7,335.3L341.8,336.6L341.8,337.9L341.8,339.1L341.8,340.4L341.8,341.7L341.8,343.0L341.8,344.3L341.8,345.5L341.9,346.8L341.9,348.1L341.9,349.4L341.9,350.6L341.9,351.9L341.9,353.2L341.9,354.5L341.9,355.8L342.0,357.0L342.0,358.3L342.0,359.6L342.0,360.9L342.0,362.2L342.0,363.4L342.0,364.7L342.0,366.0L342.1,367.3L342.1,368.5L342.1,369.8L342.1,371.1L342.1,372.4L342.2,373.7L342.4,374.9L342.6,376.2L343.0,377.5L343.4,378.8L343.9,380.1L344.6,381.3L345.4,382.6L346.4,383.9L347.6,385.2L349.2,386.4L351.4,387.7L357.0,389.0M356.0,288.0L351.9,289.3L350.3,290.6L349.3,291.8L348.6,293.1L348.1,294.4L347.8,295.7L347.6,296.9L347.6,298.2L347.6,299.5L347.6,300.8L347.6,302.1L347.7,303.3L347.7,304.6L347.7,305.9L347.7,307.2L347.7,308.5L347.7,309.7L347.7,311.0L347.7,312.3L347.8,313.6L347.8,314.8L347.8,316.1L347.8,317.4L347.8,318.7L347.8,320.0L347.8,321.2L347.8,322.5L347.9,323.8L347.9,325.1L347.9,326.4L347.9,327.6L347.9,328.9L347.9,330.2L347.9,331.5L347.9,332.7L348.0,334.0L348.0,335.3L348.0,336.6L348.0,337.9L348.0,339.1L348.0,340.4L348.0,341.7L348.0,343.0L348.1,344.3L348.1,345.5L348.1,346.8L348.1,348.1L348.1,349.4L348.1,350.6L348.1,351.9L348.1,353.2L348.2,354.5L348.2,355.8L348.2,357.0L348.2,358.3L348.2,359.6L348.2,360.9L348.2,362.2L348.2,363.4L348.3,364.7L348.3,366.0L348.3,367.3L348.3,368.5L348.3,369.8L348.3,371.1L348.3,372.4L348.4,373.7L348.5,374.9L348.6,376.2L348.8,377.5L349.1,378.8L349.4,380.1L349.8,381.3L350.3,382.6L350.9,383.9L351.6,385.2L352.5,386.4L353.8,387.7L357.0,389.0M356.0,288.0L356.0,289.3L356.0,290.6L356.0,291.8L356.1,293.1L356.1,294.4L356.1,295.7L356.1,296.9L356.1,298.2L356.1,299.5L356.1,300.8L356.1,302.1L356.2,303.3L356.2,304.6L356.2,305.9L356.2,307.2L356.2,308.5L356.2,309.7L356.2,311.0L356.2,312.3L356.3,313.6L356.3,314.8L356.3,316.1L356.3,317.4L356.3,318.7L356.3,320.0L356.3,321.2L356.3,322.5L356.4,323.8L356.4,325.1L356.4,326.4L356.4,327.6L356.4,328.9L356.4,330.2L356.4,331.5L356.4,332.7L356.5,334.0L356.5,335.3L356.5,336.6L356.5,337.9L356.5,339.1L356.5,340.4L356.5,341.7L356.5,343.0L356.6,344.3L356.6,345.5L356.6,346.8L356.6,348.1L356.6,349.4L356.6,350.6L356.6,351.9L356.6,353.2L356.7,354.5L356.7,355.8L356.7,357.0L356.7,358.3L356.7,359.6L356.7,360.9L356.7,362.2L356.7,363.4L356.8,364.7L356.8,366.0L356.8,367.3L356.8,368.5L356.8,369.8L356.8,371.1L356.8,372.4L356.8,373.7L356.9,374.9L356.9,376.2L356.9,377.5L356.9,378.8L356.9,380.1L356.9,381.3L356.9,382.6L356.9,383.9L357.0,385.2L357.0,386.4L357.0,387.7L357.0,389.0M356.0,288.0L360.2,289.3L361.7,290.6L362.7,291.8L363.5,293.1L364.0,294.4L364.3,295.7L364.5,296.9L364.6,298.2L364.6,299.5L364.6,300.8L364.6,302.1L364.7,303.3L364.7,304.6L364.7,305.9L364.7,307.2L364.7,308.5L364.7,309.7L364.7,311.0L364.7,312.3L364.8,313.6L364.8,314.8L364.8,316.1L364.8,317.4L364.8,318.7L364.8,320.0L364.8,321.2L364.8,322.5L364.9,323.8L364.9,325.1L364.9,326.4L364.9,327.6L364.9,328.9L364.9,330.2L364.9,331.5L364.9,332.7L365.0,334.0L365.0,335.3L365.0,336.6L365.0,337.9L365.0,339.1L365.0,340.4L365.0,341.7L365.0,343.0L365.1,344.3L365.1,345.5L365.1,346.8L365.1,348.1L365.1,349.4L365.1,350.6L365.1,351.9L365.1,353.2L365.2,354.5L365.2,355.8L365.2,357.0L365.2,358.3L365.2,359.6L365.2,360.9L365.2,362.2L365.2,363.4L365.3,364.7L365.3,366.0L365.3,367.3L365.3,368.5L365.3,369.8L365.3,371.1L365.3,372.4L365.3,373.7L365.2,374.9L365.1,376.2L364.9,377.5L364.7,378.8L364.4,380.1L364.0,381.3L363.6,382.6L363.0,383.9L362.3,385.2L361.5,386.4L360.2,387.7L357.0,389.0M356.0,288.0L363.2,289.3L365.9,290.6L367.6,291.8L368.9,293.1L369.8,294.4L370.4,295.7L370.7,296.9L370.8,298.2L370.8,299.5L370.8,300.8L370.9,302.1L370.9,303.3L370.9,304.6L370.9,305.9L370.9,307.2L370.9,308.5L370.9,309.7L371.0,311.0L371.0,312.3L371.0,313.6L371.0,314.8L371.0,316.1L371.0,317.4L371.0,318.7L371.0,320.0L371.1,321.2L371.1,322.5L371.1,323.8L371.1,325.1L371.1,326.4L371.1,327.6L371.1,328.9L371.1,330.2L371.2,331.5L371.2,332.7L371.2,334.0L371.2,335.3L371.2,336.6L371.2,337.9L371.2,339.1L371.2,340.4L371.3,341.7L371.3,343.0L371.3,344.3L371.3,345.5L371.3,346.8L371.3,348.1L371.3,349.4L371.3,350.6L371.4,351.9L371.4,353.2L371.4,354.5L371.4,355.8L371.4,357.0L371.4,358.3L371.4,359.6L371.4,360.9L371.5,362.2L371.5,363.4L371.5,364.7L371.5,366.0L371.5,367.3L371.5,368.5L371.5,369.8L371.5,371.1L371.6,372.4L371.5,373.7L371.4,374.9L371.1,376.2L370.8,377.5L370.4,378.8L369.9,380.1L369.2,381.3L368.4,382.6L367.5,383.9L366.3,385.2L364.7,386.4L362.6,387.7L357.0,389.0M339.3,315.5L342.4,316.3L345.5,316.9L348.5,317.3L351.6,317.6L354.7,317.7L357.8,317.7L360.9,317.6L364.0,317.3L367.1,316.9L370.2,316.3L373.3,315.5M339.3,320.1L342.4,320.9L345.5,321.4L348.6,321.9L351.7,322.2L354.8,322.3L357.9,322.3L361.0,322.2L364.0,321.9L367.1,321.4L370.2,320.9L373.3,320.1M339.4,324.7L342.5,325.5L345.5,326.0L348.6,326.5L351.7,326.8L354.8,326.9L357.9,326.9L361.0,326.8L364.1,326.5L367.2,326.0L370.3,325.5L373.4,324.7M339.4,329.3L342.5,330.0L345.6,330.6L348.7,331.1L351.8,331.4L354.9,331.5L358.0,331.5L361.0,331.4L364.1,331.1L367.2,330.6L370.3,330.0L373.4,329.3M339.5,333.9L342.5,334.6L345.6,335.2L348.7,335.7L351.8,335.9L354.9,336.1L358.0,336.1L361.1,335.9L364.2,335.7L367.3,335.2L370.4,334.6L373.5,333.9M339.5,338.5L342.6,339.2L345.7,339.8L348.8,340.2L351.9,340.5L355.0,340.7L358.0,340.7L361.1,340.5L364.2,340.2L367.3,339.8L370.4,339.2L373.5,338.5M339.5,343.1L342.6,343.8L345.7,344.4L348.8,344.8L351.9,345.1L355.0,345.3L358.1,345.3L361.2,345.1L364.3,344.8L367.4,344.4L370.5,343.8L373.5,343.1M339.6,347.7L342.7,348.4L345.8,349.0L348.9,349.4L352.0,349.7L355.0,349.9L358.1,349.9L361.2,349.7L364.3,349.4L367.4,349.0L370.5,348.4L373.6,347.7M339.6,352.3L342.7,353.0L345.8,353.6L348.9,354.0L352.0,354.3L355.1,354.5L358.2,354.5L361.3,354.3L364.4,354.0L367.5,353.6L370.5,353.0L373.6,352.3M339.7,356.9L342.8,357.6L345.9,358.2L349.0,358.6L352.0,358.9L355.1,359.0L358.2,359.0L361.3,358.9L364.4,358.6L367.5,358.2L370.6,357.6L373.7,356.9M339.7,361.5L342.8,362.2L345.9,362.8L349.0,363.2L352.1,363.5L355.2,363.6L358.3,363.6L361.4,363.5L364.5,363.2L367.5,362.8L370.6,362.2L373.7,361.5M339.8,366.0L342.9,366.8L346.0,367.4L349.0,367.8L352.1,368.1L355.2,368.2L358.3,368.2L361.4,368.1L364.5,367.8L367.6,367.4L370.7,366.8L373.8,366.0M339.8,370.6L342.9,371.4L346.0,371.9L349.1,372.4L352.2,372.7L355.3,372.8L358.4,372.8L361.5,372.7L364.5,372.4L367.6,371.9L370.7,371.4L373.8,370.6M340.2,375.2L343.2,375.9L346.2,376.5L349.3,377.0L352.3,377.2L355.3,377.4L358.4,377.4L361.4,377.2L364.5,377.0L367.5,376.5L370.5,375.9L373.6,375.2M341.8,379.8L344.6,380.5L347.3,381.1L350.0,381.5L352.8,381.7L355.5,381.9L358.3,381.9L361.0,381.7L363.8,381.5L366.5,381.1L369.3,380.5L372.0,379.8M345.3,384.4L347.4,385.0L349.6,385.5L351.7,385.9L353.8,386.1L355.9,386.2L358.0,386.2L360.1,386.1L362.2,385.9L364.3,385.5L366.5,385.0L368.6,384.4" fill="none" stroke="#333" stroke-width="1.0"/>
<path d="M339.2,303.3L339.2,304.6L339.2,305.9L339.2,307.2L339.2,308.5L339.2,309.7L339.2,311.0L339.2,312.3L339.3,313.6L339.3,314.8L339.3,316.1L339.3,317.4L339.3,318.7L339.3,320.0L339.3,321.2L339.3,322.5L339.4,323.8L339.4,325.1L339.4,326.4L339.4,327.6L339.4,328.9L339.4,330.2L339.4,331.5L339.4,332.7L339.5,334.0L339.5,335.3L339.5,336.6L339.5,337.9L339.5,339.1L339.5,340.4L339.5,341.7L339.5,343.0L339.6,344.3L339.6,345.5L339.6,346.8L339.6,348.1L339.6,349.4L339.6,350.6L339.6,351.9L339.6,353.2L339.7,354.5L339.7,355.8L339.7,357.0L339.7,358.3L339.7,359.6L339.7,360.9L339.7,362.2L339.7,363.4L339.8,364.7L339.8,366.0L339.8,367.3L339.8,368.5L339.8,369.8L339.8,371.1L339.8,372.4L339.9,373.7L340.1,374.9L340.4,376.2L340.8,377.5L341.3,378.8L341.9,380.1L342.7,381.3L343.7,382.6L344.8,383.9L346.2,385.2L348.0,386.4L350.5,387.7L357.0,389.0L357.0,389.0L363.5,387.7L365.9,386.4L367.7,385.2L369.1,383.9L370.2,382.6L371.1,381.3L371.9,380.1L372.5,378.8L373.0,377.5L373.3,376.2L373.6,374.9L373.8,373.7L373.8,372.4L373.8,371.1L373.8,369.8L373.8,368.5L373.8,367.3L373.8,366.0L373.8,364.7L373.7,363.4L373.7,362.2L373.7,360.9L373.7,359.6L373.7,358.3L373.7,357.0L373.7,355.8L373.7,354.5L373.6,353.2L373.6,351.9L373.6,350.6L373.6,349.4L373.6,348.1L373.6,346.8L373.6,345.5L373.6,344.3L373.5,343.0L373.5,341.7L373.5,340.4L373.5,339.1L373.5,337.9L373.5,336.6L373.5,335.3L373.5,334.0L373.4,332.7L373.4,331.5L373.4,330.2L373.4,328.9L373.4,327.6L373.4,326.4L373.4,325.1L373.4,323.8L373.3,322.5L373.3,321.2L373.3,320.0L373.3,318.7L373.3,317.4L373.3,316.1L373.3,314.8L373.3,313.6L373.2,312.3L373.2,311.0L373.2,309.7L373.2,308.5L373.2,307.2L373.2,305.9L373.2,304.6L373.2,303.3" fill="none" stroke="#2a2a2a" stroke-width="1.1"/>
<path d="M339.7,362.0L342.8,363.0L345.9,363.8L349.0,364.4L352.1,364.8L355.2,365.0L358.3,365.0L361.4,364.8L364.5,364.4L367.6,363.8L370.6,363.0L373.7,362.0" fill="none" stroke="#333" stroke-width="1.0"/>
<path d="M372.5,318.5L372.5,319.9L372.5,321.3L372.6,322.6L372.6,324.0L372.6,325.4L372.6,326.7L372.6,328.1L372.6,329.5L372.7,330.8L372.7,332.2L372.7,333.6L372.7,334.9L372.7,336.3L372.8,337.7L372.8,339.1L372.8,340.4L372.8,341.8L372.8,343.2L372.9,344.5L372.9,345.9L372.9,347.3L372.9,348.6L372.9,350.0L372.9,351.4L373.0,352.7L373.0,354.1L373.0,355.5L373.0,356.8L373.0,358.2L373.1,359.6L373.1,360.9L373.1,362.3L373.1,363.7L373.1,365.0L373.2,366.4L373.2,367.8L373.2,369.1L373.2,370.5L373.2,371.9L373.3,373.2L373.5,374.6L373.7,376.0L374.1,377.3L374.6,378.7L375.2,380.1L375.9,381.4L376.8,382.8L377.9,384.2L379.2,385.5L380.8,386.9L382.9,388.3L385.7,389.6L393.0,391.0L393.0,391.0L400.2,389.6L403.0,388.3L405.0,386.9L406.6,385.5L407.9,384.2L408.9,382.8L409.8,381.4L410.5,380.1L411.1,378.7L411.5,377.3L411.9,376.0L412.1,374.6L412.2,373.2L412.2,371.9L412.2,370.5L412.2,369.1L412.2,367.8L412.2,366.4L412.1,365.0L412.1,363.7L412.1,362.3L412.1,360.9L412.1,359.6L412.0,358.2L412.0,356.8L412.0,355.5L412.0,354.1L412.0,352.7L411.9,351.4L411.9,350.0L411.9,348.6L411.9,347.3L411.9,345.9L411.9,344.5L411.8,343.2L411.8,341.8L411.8,340.4L411.8,339.1L411.8,337.7L411.7,336.3L411.7,334.9L411.7,333.6L411.7,332.2L411.7,330.8L411.6,329.5L411.6,328.1L411.6,326.7L411.6,325.4L411.6,324.0L411.6,322.6L411.5,321.3L411.5,319.9L411.5,318.5Z" fill="#fff"/>
<path d="M391.5,283.0L383.0,284.4L379.9,285.7L377.9,287.1L376.4,288.5L375.3,289.8L374.6,291.2L374.2,292.6L374.1,293.9L374.1,295.3L374.1,296.7L374.1,298.0L374.2,299.4L374.2,300.8L374.2,302.1L374.2,303.5L374.2,304.9L374.3,306.2L374.3,307.6L374.3,309.0L374.3,310.3L374.3,311.7L374.3,313.1L374.4,314.4L374.4,315.8L374.4,317.2L374.4,318.5L374.4,319.9L374.5,321.3L374.5,322.6L374.5,324.0L374.5,325.4L374.5,326.7L374.6,328.1L374.6,329.5L374.6,330.8L374.6,332.2L374.6,333.6L374.7,334.9L374.7,336.3L374.7,337.7L374.7,339.1L374.7,340.4L374.7,341.8L374.8,343.2L374.8,344.5L374.8,345.9L374.8,347.3L374.8,348.6L374.9,350.0L374.9,351.4L374.9,352.7L374.9,354.1L374.9,355.5L375.0,356.8L375.0,358.2L375.0,359.6L375.0,360.9L375.0,362.3L375.1,363.7L375.1,365.0L375.1,366.4L375.1,367.8L375.1,369.1L375.1,370.5L375.2,371.9L375.2,373.2L375.4,374.6L375.6,376.0L375.9,377.3L376.4,378.7L376.9,380.1L377.6,381.4L378.4,382.8L379.4,384.2L380.6,385.5L382.0,386.9L383.9,388.3L386.4,389.6L393.0,391.0M391.5,283.0L385.6,284.4L383.5,285.7L382.1,287.1L381.1,288.5L380.3,289.8L379.9,291.2L379.6,292.6L379.5,293.9L379.5,295.3L379.5,296.7L379.6,298.0L379.6,299.4L379.6,300.8L379.6,302.1L379.6,303.5L379.6,304.9L379.7,306.2L379.7,307.6L379.7,309.0L379.7,310.3L379.7,311.7L379.8,313.1L379.8,314.4L379.8,315.8L379.8,317.2L379.8,318.5L379.9,319.9L379.9,321.3L379.9,322.6L379.9,324.0L379.9,325.4L379.9,326.7L380.0,328.1L380.0,329.5L380.0,330.8L380.0,332.2L380.0,333.6L380.1,334.9L380.1,336.3L380.1,337.7L380.1,339.1L380.1,340.4L380.2,341.8L380.2,343.2L380.2,344.5L380.2,345.9L380.2,347.3L380.3,348.6L380.3,350.0L380.3,351.4L380.3,352.7L380.3,354.1L380.3,355.5L380.4,356.8L380.4,358.2L380.4,359.6L380.4,360.9L380.4,362.3L380.5,363.7L380.5,365.0L380.5,366.4L380.5,367.8L380.5,369.1L380.6,370.5L380.6,371.9L380.6,373.2L380.7,374.6L380.9,376.0L381.1,377.3L381.5,378.7L381.8,380.1L382.3,381.4L382.9,382.8L383.6,384.2L384.4,385.5L385.4,386.9L386.7,388.3L388.5,389.6L393.0,391.0M391.5,283.0L389.4,284.4L388.7,285.7L388.2,287.1L387.8,288.5L387.6,289.8L387.4,291.2L387.3,292.6L387.3,293.9L387.3,295.3L387.4,296.7L387.4,298.0L387.4,299.4L387.4,300.8L387.4,302.1L387.4,303.5L387.5,304.9L387.5,306.2L387.5,307.6L387.5,309.0L387.5,310.3L387.6,311.7L387.6,313.1L387.6,314.4L387.6,315.8L387.6,317.2L387.7,318.5L387.7,319.9L387.7,321.3L387.7,322.6L387.7,324.0L387.7,325.4L387.8,326.7L387.8,328.1L387.8,329.5L387.8,330.8L387.8,332.2L387.9,333.6L387.9,334.9L387.9,336.3L387.9,337.7L387.9,339.1L388.0,340.4L388.0,341.8L388.0,343.2L388.0,344.5L388.0,345.9L388.1,347.3L388.1,348.6L388.1,350.0L388.1,351.4L388.1,352.7L388.1,354.1L388.2,355.5L388.2,356.8L388.2,358.2L388.2,359.6L388.2,360.9L388.3,362.3L388.3,363.7L388.3,365.0L388.3,366.4L388.3,367.8L388.4,369.1L388.4,370.5L388.4,371.9L388.4,373.2L388.5,374.6L388.5,376.0L388.6,377.3L388.8,378.7L388.9,380.1L389.1,381.4L389.3,382.8L389.6,384.2L389.9,385.5L390.3,386.9L390.7,388.3L391.4,389.6L393.0,391.0M391.5,283.0L393.6,284.4L394.4,285.7L394.9,287.1L395.3,288.5L395.6,289.8L395.8,291.2L395.9,292.6L396.0,293.9L396.0,295.3L396.0,296.7L396.0,298.0L396.1,299.4L396.1,300.8L396.1,302.1L396.1,303.5L396.1,304.9L396.2,306.2L396.2,307.6L396.2,309.0L396.2,310.3L396.2,311.7L396.3,313.1L396.3,314.4L396.3,315.8L396.3,317.2L396.3,318.5L396.4,319.9L396.4,321.3L396.4,322.6L396.4,324.0L396.4,325.4L396.4,326.7L396.5,328.1L396.5,329.5L396.5,330.8L396.5,332.2L396.5,333.6L396.6,334.9L396.6,336.3L396.6,337.7L396.6,339.1L396.6,340.4L396.7,341.8L396.7,343.2L396.7,344.5L396.7,345.9L396.7,347.3L396.8,348.6L396.8,350.0L396.8,351.4L396.8,352.7L396.8,354.1L396.8,355.5L396.9,356.8L396.9,358.2L396.9,359.6L396.9,360.9L396.9,362.3L397.0,363.7L397.0,365.0L397.0,366.4L397.0,367.8L397.0,369.1L397.1,370.5L397.1,371.9L397.1,373.2L397.1,374.6L397.0,376.0L397.0,377.3L396.9,378.7L396.8,380.1L396.6,381.4L396.5,382.8L396.2,384.2L396.0,385.5L395.6,386.9L395.2,388.3L394.6,389.6L393.0,391.0M391.5,283.0L397.4,284.4L399.6,285.7L401.0,287.1L402.1,288.5L402.8,289.8L403.4,291.2L403.7,292.6L403.8,293.9L403.8,295.3L403.8,296.7L403.9,298.0L403.9,299.4L403.9,300.8L403.9,302.1L403.9,303.5L404.0,304.9L404.0,306.2L404.0,307.6L404.0,309.0L404.0,310.3L404.1,311.7L404.1,313.1L404.1,314.4L404.1,315.8L404.1,317.2L404.2,318.5L404.2,319.9L404.2,321.3L404.2,322.6L404.2,324.0L404.2,325.4L404.3,326.7L404.3,328.1L404.3,329.5L404.3,330.8L404.3,332.2L404.4,333.6L404.4,334.9L404.4,336.3L404.4,337.7L404.4,339.1L404.5,340.4L404.5,341.8L404.5,343.2L404.5,344.5L404.5,345.9L404.6,347.3L404.6,348.6L404.6,350.0L404.6,351.4L404.6,352.7L404.6,354.1L404.7,355.5L404.7,356.8L404.7,358.2L404.7,359.6L404.7,360.9L404.8,362.3L404.8,363.7L404.8,365.0L404.8,366.4L404.8,367.8L404.9,369.1L404.9,370.5L404.9,371.9L404.9,373.2L404.8,374.6L404.7,376.0L404.5,377.3L404.2,378.7L403.9,380.1L403.4,381.4L402.9,382.8L402.2,384.2L401.5,385.5L400.5,386.9L399.2,388.3L397.5,389.6L393.0,391.0M391.5,283.0L400.0,284.4L403.1,285.7L405.2,287.1L406.8,288.5L407.9,289.8L408.6,291.2L409.1,292.6L409.2,293.9L409.2,295.3L409.3,296.7L409.3,298.0L409.3,299.4L409.3,300.8L409.3,302.1L409.4,303.5L409.4,304.9L409.4,306.2L409.4,307.6L409.4,309.0L409.4,310.3L409.5,311.7L409.5,313.1L409.5,314.4L409.5,315.8L409.5,317.2L409.6,318.5L409.6,319.9L409.6,321.3L409.6,322.6L409.6,324.0L409.7,325.4L409.7,326.7L409.7,328.1L409.7,329.5L409.7,330.8L409.8,332.2L409.8,333.6L409.8,334.9L409.8,336.3L409.8,337.7L409.8,339.1L409.9,340.4L409.9,341.8L409.9,343.2L409.9,344.5L409.9,345.9L410.0,347.3L410.0,348.6L410.0,350.0L410.0,351.4L410.0,352.7L410.1,354.1L410.1,355.5L410.1,356.8L410.1,358.2L410.1,359.6L410.2,360.9L410.2,362.3L410.2,363.7L410.2,365.0L410.2,366.4L410.2,367.8L410.3,369.1L410.3,370.5L410.3,371.9L410.3,373.2L410.2,374.6L410.0,376.0L409.7,377.3L409.3,378.7L408.8,380.1L408.1,381.4L407.3,382.8L406.4,384.2L405.3,385.5L403.8,386.9L402.0,388.3L399.5,389.6L393.0,391.0M372.5,315.9L376.0,316.6L379.5,317.2L383.1,317.6L386.6,317.9L390.2,318.1L393.7,318.1L397.3,317.9L400.8,317.6L404.4,317.2L407.9,316.6L411.5,315.9M372.5,320.6L376.1,321.3L379.6,321.9L383.2,322.3L386.7,322.6L390.2,322.7L393.8,322.7L397.3,322.6L400.9,322.3L404.4,321.9L408.0,321.3L411.5,320.6M372.6,325.3L376.1,326.0L379.7,326.6L383.2,327.0L386.8,327.3L390.3,327.4L393.9,327.4L397.4,327.3L401.0,327.0L404.5,326.6L408.0,326.0L411.6,325.3M372.7,330.0L376.2,330.7L379.7,331.3L383.3,331.7L386.8,332.0L390.4,332.1L393.9,332.1L397.5,332.0L401.0,331.7L404.6,331.3L408.1,330.7L411.7,330.0M372.7,334.7L376.3,335.4L379.8,336.0L383.4,336.4L386.9,336.7L390.4,336.8L394.0,336.8L397.5,336.7L401.1,336.4L404.6,336.0L408.2,335.4L411.7,334.7M372.8,339.3L376.3,340.1L379.9,340.7L383.4,341.1L387.0,341.4L390.5,341.5L394.1,341.5L397.6,341.4L401.1,341.1L404.7,340.7L408.2,340.1L411.8,339.3M372.8,344.0L376.4,344.8L379.9,345.4L383.5,345.8L387.0,346.1L390.6,346.2L394.1,346.2L397.7,346.1L401.2,345.8L404.8,345.4L408.3,344.8L411.8,344.0M372.9,348.7L376.5,349.5L380.0,350.0L383.5,350.5L387.1,350.8L390.6,350.9L394.2,350.9L397.7,350.8L401.3,350.5L404.8,350.0L408.4,349.5L411.9,348.7M373.0,353.4L376.5,354.2L380.1,354.7L383.6,355.2L387.2,355.5L390.7,355.6L394.3,355.6L397.8,355.5L401.3,355.2L404.9,354.7L408.4,354.2L412.0,353.4M373.0,358.1L376.6,358.9L380.1,359.4L383.7,359.9L387.2,360.2L390.8,360.3L394.3,360.3L397.9,360.2L401.4,359.9L405.0,359.4L408.5,358.9L412.0,358.1M373.1,362.8L376.7,363.6L380.2,364.1L383.7,364.6L387.3,364.9L390.8,365.0L394.4,365.0L397.9,364.9L401.5,364.6L405.0,364.1L408.6,363.6L412.1,362.8M373.2,367.5L376.7,368.2L380.3,368.8L383.8,369.3L387.4,369.6L390.9,369.7L394.4,369.7L398.0,369.6L401.5,369.3L405.1,368.8L408.6,368.2L412.2,367.5M373.2,372.2L376.8,372.9L380.3,373.5L383.9,374.0L387.4,374.3L391.0,374.4L394.5,374.4L398.1,374.3L401.6,374.0L405.1,373.5L408.7,372.9L412.2,372.2M374.0,376.9L377.4,377.6L380.8,378.2L384.2,378.6L387.7,378.9L391.1,379.1L394.5,379.1L397.9,378.9L401.4,378.6L404.8,378.2L408.2,377.6L411.6,376.9M376.0,381.6L379.1,382.3L382.2,382.8L385.2,383.2L388.3,383.5L391.3,383.6L394.4,383.6L397.5,383.5L400.5,383.2L403.6,382.8L406.6,382.3L409.7,381.6M380.1,386.3L382.4,386.9L384.8,387.4L387.1,387.7L389.4,388.0L391.8,388.1L394.1,388.1L396.4,388.0L398.8,387.7L401.1,387.4L403.4,386.9L405.8,386.3" fill="none" stroke="#333" stroke-width="1.0"/>
<path d="M372.2,300.8L372.3,302.1L372.3,303.5L372.3,304.9L372.3,306.2L372.3,307.6L372.4,309.0L372.4,310.3L372.4,311.7L372.4,313.1L372.4,314.4L372.5,315.8L372.5,317.2L372.5,318.5L372.5,319.9L372.5,321.3L372.6,322.6L372.6,324.0L372.6,325.4L372.6,326.7L372.6,328.1L372.6,329.5L372.7,330.8L372.7,332.2L372.7,333.6L372.7,334.9L372.7,336.3L372.8,337.7L372.8,339.1L372.8,340.4L372.8,341.8L372.8,343.2L372.9,344.5L372.9,345.9L372.9,347.3L372.9,348.6L372.9,350.0L372.9,351.4L373.0,352.7L373.0,354.1L373.0,355.5L373.0,356.8L373.0,358.2L373.1,359.6L373.1,360.9L373.1,362.3L373.1,363.7L373.1,365.0L373.2,366.4L373.2,367.8L373.2,369.1L373.2,370.5L373.2,371.9L373.3,373.2L373.5,374.6L373.7,376.0L374.1,377.3L374.6,378.7L375.2,380.1L375.9,381.4L376.8,382.8L377.9,384.2L379.2,385.5L380.8,386.9L382.9,388.3L385.7,389.6L393.0,391.0L393.0,391.0L400.2,389.6L403.0,388.3L405.0,386.9L406.6,385.5L407.9,384.2L408.9,382.8L409.8,381.4L410.5,380.1L411.1,378.7L411.5,377.3L411.9,376.0L412.1,374.6L412.2,373.2L412.2,371.9L412.2,370.5L412.2,369.1L412.2,367.8L412.2,366.4L412.1,365.0L412.1,363.7L412.1,362.3L412.1,360.9L412.1,359.6L412.0,358.2L412.0,356.8L412.0,355.5L412.0,354.1L412.0,352.7L411.9,351.4L411.9,350.0L411.9,348.6L411.9,347.3L411.9,345.9L411.9,344.5L411.8,343.2L411.8,341.8L411.8,340.4L411.8,339.1L411.8,337.7L411.7,336.3L411.7,334.9L411.7,333.6L411.7,332.2L411.7,330.8L411.6,329.5L411.6,328.1L411.6,326.7L411.6,325.4L411.6,324.0L411.6,322.6L411.5,321.3L411.5,319.9L411.5,318.5L411.5,317.2L411.5,315.8L411.4,314.4L411.4,313.1L411.4,311.7L411.4,310.3L411.4,309.0L411.3,307.6L411.3,306.2L411.3,304.9L411.3,303.5L411.3,302.1L411.2,300.8" fill="none" stroke="#2a2a2a" stroke-width="1.1"/>
<path d="M373.0,357.0L376.6,358.0L380.1,358.8L383.7,359.4L387.2,359.8L390.8,360.0L394.3,360.0L397.8,359.8L401.4,359.4L404.9,358.8L408.5,358.0L412.0,357.0" fill="none" stroke="#333" stroke-width="1.0"/>
<path d="M412.2,349.8L412.2,350.8L412.2,351.7L412.2,352.7L412.2,353.6L412.2,354.5L412.3,355.5L412.3,356.4L412.3,357.3L412.3,358.3L412.3,359.2L412.3,360.2L412.3,361.1L412.3,362.0L412.3,363.0L412.3,363.9L412.3,364.8L412.3,365.8L412.3,366.7L412.4,367.6L412.5,368.6L412.7,369.5L412.9,370.5L413.1,371.4L413.4,372.3L413.7,373.3L414.1,374.2L414.6,375.1L415.0,376.1L415.6,377.0L416.2,377.9L416.9,378.9L417.6,379.8L418.4,380.8L419.3,381.7L420.3,382.6L421.4,383.6L422.6,384.5L423.9,385.4L425.3,386.4L427.0,387.3L428.9,388.3L431.1,389.2L433.8,390.1L437.4,391.1L446.5,392.0L446.5,392.0L455.5,391.1L459.2,390.1L461.9,389.2L464.1,388.3L465.9,387.3L467.6,386.4L469.0,385.4L470.3,384.5L471.5,383.6L472.6,382.6L473.5,381.7L474.4,380.8L475.2,379.8L475.9,378.9L476.6,377.9L477.2,377.0L477.7,376.1L478.2,375.1L478.6,374.2L479.0,373.3L479.3,372.3L479.6,371.4L479.9,370.5L480.0,369.5L480.2,368.6L480.3,367.6L480.3,366.7L480.3,365.8L480.3,364.8L480.3,363.9L480.3,363.0L480.3,362.0L480.3,361.1L480.3,360.2L480.3,359.2L480.3,358.3L480.3,357.3L480.3,356.4L480.3,355.5L480.2,354.5L480.2,353.6L480.2,352.7L480.2,351.7L480.2,350.8L480.2,349.8Z" fill="#fff"/>
<path d="M413.4,319.9L413.4,320.8L413.4,321.7L413.4,322.7L413.4,323.6L413.4,324.6L413.4,325.5L413.4,326.4L413.4,327.4L413.4,328.3L413.5,329.2L413.5,330.2L413.5,331.1L413.5,332.1L413.5,333.0L413.5,333.9L413.5,334.9L413.5,335.8L413.5,336.7L413.5,337.7L413.5,338.6L413.5,339.5L413.5,340.5L413.5,341.4L413.5,342.4L413.5,343.3L413.6,344.2L413.6,345.2L413.6,346.1L413.6,347.0L413.6,348.0L413.6,348.9L413.6,349.8L413.6,350.8L413.6,351.7L413.6,352.7L413.6,353.6L413.6,354.5L413.6,355.5L413.6,356.4L413.6,357.3L413.6,358.3L413.7,359.2L413.7,360.2L413.7,361.1L413.7,362.0L413.7,363.0L413.7,363.9L413.7,364.8L413.7,365.8L413.7,366.7L413.8,367.6L413.9,368.6L414.0,369.5L414.2,370.5L414.4,371.4L414.7,372.3L415.1,373.3L415.4,374.2L415.8,375.1L416.3,376.1L416.8,377.0L417.4,377.9L418.1,378.9L418.8,379.8L419.6,380.8L420.4,381.7L421.4,382.6L422.4,383.6L423.5,384.5L424.8,385.4L426.2,386.4L427.8,387.3L429.6,388.3L431.7,389.2L434.3,390.1L437.8,391.1L446.5,392.0M417.4,319.9L417.4,320.8L417.4,321.7L417.4,322.7L417.4,323.6L417.4,324.6L417.4,325.5L417.5,326.4L417.5,327.4L417.5,328.3L417.5,329.2L417.5,330.2L417.5,331.1L417.5,332.1L417.5,333.0L417.5,333.9L417.5,334.9L417.5,335.8L417.5,336.7L417.5,337.7L417.5,338.6L417.5,339.5L417.5,340.5L417.6,341.4L417.6,342.4L417.6,343.3L417.6,344.2L417.6,345.2L417.6,346.1L417.6,347.0L417.6,348.0L417.6,348.9L417.6,349.8L417.6,350.8L417.6,351.7L417.6,352.7L417.6,353.6L417.6,354.5L417.7,355.5L417.7,356.4L417.7,357.3L417.7,358.3L417.7,359.2L417.7,360.2L417.7,361.1L417.7,362.0L417.7,363.0L417.7,363.9L417.7,364.8L417.7,365.8L417.7,366.7L417.8,367.6L417.9,368.6L418.0,369.5L418.2,370.5L418.4,371.4L418.6,372.3L418.9,373.3L419.2,374.2L419.6,375.1L420.0,376.1L420.5,377.0L421.0,377.9L421.6,378.9L422.2,379.8L422.9,380.8L423.6,381.7L424.5,382.6L425.4,383.6L426.4,384.5L427.5,385.4L428.7,386.4L430.1,387.3L431.7,388.3L433.5,389.2L435.8,390.1L438.9,391.1L446.5,392.0M423.7,319.9L423.8,320.8L423.8,321.7L423.8,322.7L423.8,323.6L423.8,324.6L423.8,325.5L423.8,326.4L423.8,327.4L423.8,328.3L423.8,329.2L423.8,330.2L423.8,331.1L423.8,332.1L423.8,333.0L423.8,333.9L423.8,334.9L423.9,335.8L423.9,336.7L423.9,337.7L423.9,338.6L423.9,339.5L423.9,340.5L423.9,341.4L423.9,342.4L423.9,343.3L423.9,344.2L423.9,345.2L423.9,346.1L423.9,347.0L423.9,348.0L423.9,348.9L423.9,349.8L424.0,350.8L424.0,351.7L424.0,352.7L424.0,353.6L424.0,354.5L424.0,355.5L424.0,356.4L424.0,357.3L424.0,358.3L424.0,359.2L424.0,360.2L424.0,361.1L424.0,362.0L424.0,363.0L424.0,363.9L424.1,364.8L424.1,365.8L424.1,366.7L424.1,367.6L424.2,368.6L424.3,369.5L424.4,370.5L424.6,371.4L424.8,372.3L425.0,373.3L425.3,374.2L425.5,375.1L425.9,376.1L426.2,377.0L426.6,377.9L427.1,378.9L427.6,379.8L428.1,380.8L428.7,381.7L429.3,382.6L430.0,383.6L430.8,384.5L431.7,385.4L432.6,386.4L433.7,387.3L435.0,388.3L436.4,389.2L438.2,390.1L440.6,391.1L446.5,392.0M431.9,319.9L431.9,320.8L431.9,321.7L431.9,322.7L431.9,323.6L431.9,324.6L431.9,325.5L431.9,326.4L431.9,327.4L431.9,328.3L432.0,329.2L432.0,330.2L432.0,331.1L432.0,332.1L432.0,333.0L432.0,333.9L432.0,334.9L432.0,335.8L432.0,336.7L432.0,337.7L432.0,338.6L432.0,339.5L432.0,340.5L432.0,341.4L432.0,342.4L432.0,343.3L432.1,344.2L432.1,345.2L432.1,346.1L432.1,347.0L432.1,348.0L432.1,348.9L432.1,349.8L432.1,350.8L432.1,351.7L432.1,352.7L432.1,353.6L432.1,354.5L432.1,355.5L432.1,356.4L432.1,357.3L432.1,358.3L432.2,359.2L432.2,360.2L432.2,361.1L432.2,362.0L432.2,363.0L432.2,363.9L432.2,364.8L432.2,365.8L432.2,366.7L432.2,367.6L432.3,368.6L432.4,369.5L432.4,370.5L432.5,371.4L432.7,372.3L432.8,373.3L433.0,374.2L433.2,375.1L433.4,376.1L433.6,377.0L433.9,377.9L434.1,378.9L434.5,379.8L434.8,380.8L435.2,381.7L435.6,382.6L436.0,383.6L436.5,384.5L437.1,385.4L437.7,386.4L438.4,387.3L439.2,388.3L440.1,389.2L441.2,390.1L442.7,391.1L446.5,392.0M441.2,319.9L441.2,320.8L441.2,321.7L441.2,322.7L441.2,323.6L441.2,324.6L441.2,325.5L441.2,326.4L441.2,327.4L441.2,328.3L441.2,329.2L441.2,330.2L441.2,331.1L441.3,332.1L441.3,333.0L441.3,333.9L441.3,334.9L441.3,335.8L441.3,336.7L441.3,337.7L441.3,338.6L441.3,339.5L441.3,340.5L441.3,341.4L441.3,342.4L441.3,343.3L441.3,344.2L441.3,345.2L441.4,346.1L441.4,347.0L441.4,348.0L441.4,348.9L441.4,349.8L441.4,350.8L441.4,351.7L441.4,352.7L441.4,353.6L441.4,354.5L441.4,355.5L441.4,356.4L441.4,357.3L441.4,358.3L441.4,359.2L441.4,360.2L441.5,361.1L441.5,362.0L441.5,363.0L441.5,363.9L441.5,364.8L441.5,365.8L441.5,366.7L441.5,367.6L441.5,368.6L441.6,369.5L441.6,370.5L441.6,371.4L441.7,372.3L441.7,373.3L441.8,374.2L441.9,375.1L441.9,376.1L442.0,377.0L442.1,377.9L442.2,378.9L442.3,379.8L442.4,380.8L442.6,381.7L442.7,382.6L442.9,383.6L443.1,384.5L443.2,385.4L443.5,386.4L443.7,387.3L444.0,388.3L444.3,389.2L444.7,390.1L445.2,391.1L446.5,392.0M450.9,319.9L450.9,320.8L450.9,321.7L450.9,322.7L450.9,323.6L450.9,324.6L450.9,325.5L450.9,326.4L450.9,327.4L450.9,328.3L450.9,329.2L450.9,330.2L450.9,331.1L450.9,332.1L450.9,333.0L450.9,333.9L451.0,334.9L451.0,335.8L451.0,336.7L451.0,337.7L451.0,338.6L451.0,339.5L451.0,340.5L451.0,341.4L451.0,342.4L451.0,343.3L451.0,344.2L451.0,345.2L451.0,346.1L451.0,347.0L451.0,348.0L451.0,348.9L451.1,349.8L451.1,350.8L451.1,351.7L451.1,352.7L451.1,353.6L451.1,354.5L451.1,355.5L451.1,356.4L451.1,357.3L451.1,358.3L451.1,359.2L451.1,360.2L451.1,361.1L451.1,362.0L451.1,363.0L451.1,363.9L451.2,364.8L451.2,365.8L451.2,366.7L451.2,367.6L451.2,368.6L451.1,369.5L451.1,370.5L451.1,371.4L451.1,372.3L451.0,373.3L451.0,374.2L450.9,375.1L450.9,376.1L450.8,377.0L450.7,377.9L450.6,378.9L450.5,379.8L450.4,380.8L450.3,381.7L450.2,382.6L450.0,383.6L449.8,384.5L449.7,385.4L449.5,386.4L449.2,387.3L449.0,388.3L448.7,389.2L448.3,390.1L447.8,391.1L446.5,392.0M460.1,319.9L460.1,320.8L460.1,321.7L460.2,322.7L460.2,323.6L460.2,324.6L460.2,325.5L460.2,326.4L460.2,327.4L460.2,328.3L460.2,329.2L460.2,330.2L460.2,331.1L460.2,332.1L460.2,333.0L460.2,333.9L460.2,334.9L460.2,335.8L460.3,336.7L460.3,337.7L460.3,338.6L460.3,339.5L460.3,340.5L460.3,341.4L460.3,342.4L460.3,343.3L460.3,344.2L460.3,345.2L460.3,346.1L460.3,347.0L460.3,348.0L460.3,348.9L460.3,349.8L460.3,350.8L460.4,351.7L460.4,352.7L460.4,353.6L460.4,354.5L460.4,355.5L460.4,356.4L460.4,357.3L460.4,358.3L460.4,359.2L460.4,360.2L460.4,361.1L460.4,362.0L460.4,363.0L460.4,363.9L460.4,364.8L460.4,365.8L460.4,366.7L460.4,367.6L460.4,368.6L460.3,369.5L460.3,370.5L460.2,371.4L460.1,372.3L459.9,373.3L459.8,374.2L459.6,375.1L459.4,376.1L459.2,377.0L458.9,377.9L458.7,378.9L458.4,379.8L458.1,380.8L457.7,381.7L457.3,382.6L456.9,383.6L456.4,384.5L455.8,385.4L455.2,386.4L454.6,387.3L453.8,388.3L452.9,389.2L451.8,390.1L450.3,391.1L446.5,392.0M468.3,319.9L468.3,320.8L468.3,321.7L468.3,322.7L468.3,323.6L468.3,324.6L468.3,325.5L468.3,326.4L468.3,327.4L468.3,328.3L468.3,329.2L468.3,330.2L468.4,331.1L468.4,332.1L468.4,333.0L468.4,333.9L468.4,334.9L468.4,335.8L468.4,336.7L468.4,337.7L468.4,338.6L468.4,339.5L468.4,340.5L468.4,341.4L468.4,342.4L468.4,343.3L468.4,344.2L468.4,345.2L468.5,346.1L468.5,347.0L468.5,348.0L468.5,348.9L468.5,349.8L468.5,350.8L468.5,351.7L468.5,352.7L468.5,353.6L468.5,354.5L468.5,355.5L468.5,356.4L468.5,357.3L468.5,358.3L468.5,359.2L468.6,360.2L468.6,361.1L468.6,362.0L468.6,363.0L468.6,363.9L468.6,364.8L468.6,365.8L468.6,366.7L468.6,367.6L468.5,368.6L468.4,369.5L468.3,370.5L468.1,371.4L468.0,372.3L467.8,373.3L467.5,374.2L467.2,375.1L466.9,376.1L466.6,377.0L466.2,377.9L465.7,378.9L465.3,379.8L464.8,380.8L464.2,381.7L463.5,382.6L462.9,383.6L462.1,384.5L461.2,385.4L460.3,386.4L459.2,387.3L458.0,388.3L456.5,389.2L454.8,390.1L452.4,391.1L446.5,392.0M474.6,319.9L474.6,320.8L474.6,321.7L474.6,322.7L474.6,323.6L474.6,324.6L474.7,325.5L474.7,326.4L474.7,327.4L474.7,328.3L474.7,329.2L474.7,330.2L474.7,331.1L474.7,332.1L474.7,333.0L474.7,333.9L474.7,334.9L474.7,335.8L474.7,336.7L474.7,337.7L474.7,338.6L474.7,339.5L474.8,340.5L474.8,341.4L474.8,342.4L474.8,343.3L474.8,344.2L474.8,345.2L474.8,346.1L474.8,347.0L474.8,348.0L474.8,348.9L474.8,349.8L474.8,350.8L474.8,351.7L474.8,352.7L474.8,353.6L474.8,354.5L474.9,355.5L474.9,356.4L474.9,357.3L474.9,358.3L474.9,359.2L474.9,360.2L474.9,361.1L474.9,362.0L474.9,363.0L474.9,363.9L474.9,364.8L474.9,365.8L474.9,366.7L474.9,367.6L474.8,368.6L474.7,369.5L474.5,370.5L474.3,371.4L474.1,372.3L473.8,373.3L473.5,374.2L473.2,375.1L472.8,376.1L472.3,377.0L471.8,377.9L471.3,378.9L470.6,379.8L470.0,380.8L469.2,381.7L468.4,382.6L467.5,383.6L466.5,384.5L465.4,385.4L464.2,386.4L462.8,387.3L461.3,388.3L459.4,389.2L457.1,390.1L454.1,391.1L446.5,392.0M478.6,319.9L478.6,320.8L478.6,321.7L478.7,322.7L478.7,323.6L478.7,324.6L478.7,325.5L478.7,326.4L478.7,327.4L478.7,328.3L478.7,329.2L478.7,330.2L478.7,331.1L478.7,332.1L478.7,333.0L478.7,333.9L478.7,334.9L478.7,335.8L478.7,336.7L478.8,337.7L478.8,338.6L478.8,339.5L478.8,340.5L478.8,341.4L478.8,342.4L478.8,343.3L478.8,344.2L478.8,345.2L478.8,346.1L478.8,347.0L478.8,348.0L478.8,348.9L478.8,349.8L478.8,350.8L478.9,351.7L478.9,352.7L478.9,353.6L478.9,354.5L478.9,355.5L478.9,356.4L478.9,357.3L478.9,358.3L478.9,359.2L478.9,360.2L478.9,361.1L478.9,362.0L478.9,363.0L478.9,363.9L478.9,364.8L478.9,365.8L478.9,366.7L478.9,367.6L478.8,368.6L478.7,369.5L478.5,370.5L478.3,371.4L478.0,372.3L477.7,373.3L477.3,374.2L476.9,375.1L476.5,376.1L476.0,377.0L475.4,377.9L474.7,378.9L474.0,379.8L473.3,380.8L472.4,381.7L471.5,382.6L470.5,383.6L469.4,384.5L468.1,385.4L466.7,386.4L465.1,387.3L463.3,388.3L461.2,389.2L458.6,390.1L455.2,391.1L446.5,392.0M412.2,344.1L418.4,345.1L424.5,345.9L430.7,346.5L436.9,346.9L443.1,347.1L449.3,347.1L455.4,346.9L461.6,346.5L467.8,345.9L474.0,345.1L480.2,344.1M412.2,348.5L418.4,349.5L424.6,350.3L430.8,350.9L436.9,351.2L443.1,351.4L449.3,351.4L455.5,351.2L461.7,350.9L467.8,350.3L474.0,349.5L480.2,348.5M412.2,352.8L418.4,353.8L424.6,354.6L430.8,355.2L437.0,355.6L443.1,355.8L449.3,355.8L455.5,355.6L461.7,355.2L467.9,354.6L474.1,353.8L480.2,352.8M412.3,357.2L418.4,358.2L424.6,359.0L430.8,359.6L437.0,360.0L443.2,360.2L449.4,360.2L455.5,360.0L461.7,359.6L467.9,359.0L474.1,358.2L480.3,357.2M412.3,361.5L418.5,362.5L424.7,363.3L430.8,363.9L437.0,364.3L443.2,364.5L449.4,364.5L455.6,364.3L461.7,363.9L467.9,363.3L474.1,362.5L480.3,361.5M412.3,365.9L418.5,366.9L424.7,367.7L430.9,368.3L437.1,368.7L443.2,368.9L449.4,368.9L455.6,368.7L461.8,368.3L468.0,367.7L474.1,366.9L480.3,365.9M412.8,370.2L418.9,371.2L425.0,372.0L431.1,372.6L437.2,373.0L443.3,373.2L449.4,373.2L455.5,373.0L461.6,372.6L467.7,372.0L473.8,371.2L479.9,370.2M414.3,374.6L420.1,375.6L426.0,376.3L431.8,376.9L437.6,377.3L443.5,377.5L449.3,377.5L455.1,377.3L461.0,376.9L466.8,376.3L472.6,375.6L478.5,374.6M416.9,378.9L422.3,379.9L427.6,380.6L433.0,381.2L438.4,381.5L443.7,381.7L449.1,381.7L454.5,381.5L459.8,381.2L465.2,380.6L470.5,379.9L475.9,378.9M421.1,383.3L425.7,384.2L430.3,384.8L434.9,385.4L439.5,385.7L444.1,385.9L448.7,385.9L453.4,385.7L458.0,385.4L462.6,384.8L467.2,384.2L471.8,383.3M427.6,387.6L431.1,388.4L434.5,389.0L437.9,389.4L441.3,389.7L444.8,389.9L448.2,389.9L451.6,389.7L455.0,389.4L458.5,389.0L461.9,388.4L465.3,387.6" fill="none" stroke="#333" stroke-width="1.0"/>
<path d="M412.0,318.9L412.0,319.9L412.0,320.8L412.0,321.7L412.0,322.7L412.0,323.6L412.0,324.6L412.1,325.5L412.1,326.4L412.1,327.4L412.1,328.3L412.1,329.2L412.1,330.2L412.1,331.1L412.1,332.1L412.1,333.0L412.1,333.9L412.1,334.9L412.1,335.8L412.1,336.7L412.1,337.7L412.1,338.6L412.1,339.5L412.2,340.5L412.2,341.4L412.2,342.4L412.2,343.3L412.2,344.2L412.2,345.2L412.2,346.1L412.2,347.0L412.2,348.0L412.2,348.9L412.2,349.8L412.2,350.8L412.2,351.7L412.2,352.7L412.2,353.6L412.2,354.5L412.3,355.5L412.3,356.4L412.3,357.3L412.3,358.3L412.3,359.2L412.3,360.2L412.3,361.1L412.3,362.0L412.3,363.0L412.3,363.9L412.3,364.8L412.3,365.8L412.3,366.7L412.4,367.6L412.5,368.6L412.7,369.5L412.9,370.5L413.1,371.4L413.4,372.3L413.7,373.3L414.1,374.2L414.6,375.1L415.0,376.1L415.6,377.0L416.2,377.9L416.9,378.9L417.6,379.8L418.4,380.8L419.3,381.7L420.3,382.6L421.4,383.6L422.6,384.5L423.9,385.4L425.3,386.4L427.0,387.3L428.9,388.3L431.1,389.2L433.8,390.1L437.4,391.1L446.5,392.0L446.5,392.0L455.5,391.1L459.2,390.1L461.9,389.2L464.1,388.3L465.9,387.3L467.6,386.4L469.0,385.4L470.3,384.5L471.5,383.6L472.6,382.6L473.5,381.7L474.4,380.8L475.2,379.8L475.9,378.9L476.6,377.9L477.2,377.0L477.7,376.1L478.2,375.1L478.6,374.2L479.0,373.3L479.3,372.3L479.6,371.4L479.9,370.5L480.0,369.5L480.2,368.6L480.3,367.6L480.3,366.7L480.3,365.8L480.3,364.8L480.3,363.9L480.3,363.0L480.3,362.0L480.3,361.1L480.3,360.2L480.3,359.2L480.3,358.3L480.3,357.3L480.3,356.4L480.3,355.5L480.2,354.5L480.2,353.6L480.2,352.7L480.2,351.7L480.2,350.8L480.2,349.8L480.2,348.9L480.2,348.0L480.2,347.0L480.2,346.1L480.2,345.2L480.2,344.2L480.2,343.3L480.2,342.4L480.2,341.4L480.2,340.5L480.1,339.5L480.1,338.6L480.1,337.7L480.1,336.7L480.1,335.8L480.1,334.9L480.1,333.9L480.1,333.0L480.1,332.1L480.1,331.1L480.1,330.2L480.1,329.2L480.1,328.3L480.1,327.4L480.1,326.4L480.1,325.5L480.0,324.6L480.0,323.6L480.0,322.7L480.0,321.7L480.0,320.8L480.0,319.9L480.0,318.9" fill="none" stroke="#2a2a2a" stroke-width="1.1"/>
<path d="M412.0,351.0L416.5,350.0L421.1,349.0L425.6,348.1L430.1,347.3L434.7,346.7L439.2,346.2L443.7,346.0L448.3,346.0L452.8,346.2L457.3,346.7L461.9,347.3L466.4,348.1L470.9,349.0L475.5,350.0L480.0,351.0" fill="none" stroke="#222" stroke-width="1.4"/>
<ellipse cx="374" cy="330" rx="2.6" ry="15" fill="#555"/>
<ellipse cx="412.5" cy="329" rx="2.4" ry="11" fill="#555"/>
<ellipse cx="339.8" cy="338" rx="1.4" ry="17" fill="#555"/>
<ellipse cx="308" cy="345" rx="1.3" ry="18" fill="#555"/>
</g><!--/FOOT-->
  <!-- shell --><!--SHELL--><g fill="#1e91d7">
<path d="M328.5,402.8L326.7,401.8L324.9,400.8L323.0,400.0L321.1,399.2L319.3,398.4L317.5,397.7L315.7,397.1L313.9,396.5L312.1,395.9L310.3,395.4L308.5,394.9L306.8,394.4L305.0,393.9L303.3,393.5L301.5,393.0L299.8,392.6L298.0,392.2L296.3,391.7L294.5,391.3L292.8,390.8L291.0,390.3L289.3,389.8L287.5,389.3L285.7,388.7L283.9,388.0L282.2,387.4L280.4,386.6L278.6,385.9L276.9,385.1L275.2,384.3L273.5,383.4L271.9,382.6L270.4,381.7L268.9,380.7L267.5,379.7L266.2,378.8L265.0,377.7L263.9,376.7L262.9,375.7L262.0,374.6L261.1,373.4L260.3,372.3L259.5,371.1L258.8,369.9L258.2,368.6L257.7,367.3L257.1,366.0L256.7,364.7L256.3,363.3L255.9,361.8L255.6,360.4L255.4,358.9L255.1,357.3L255.0,355.8L254.9,354.2L254.8,352.5L254.7,350.9L254.7,349.2L254.8,347.5L254.9,345.8L255.0,344.0L255.1,342.2L255.3,340.4L255.5,338.6L255.7,336.8L255.9,335.0L256.2,333.2L256.5,331.3L256.8,329.4L257.1,327.6L257.5,325.7L257.8,323.8L258.2,322.0L258.5,320.1L258.9,318.2L259.3,316.4L259.7,314.5L260.1,312.7L260.5,310.9L260.9,309.0L261.3,307.2L261.8,305.4L262.2,303.5L262.7,301.7L263.1,299.9L263.6,298.1L264.1,296.3L264.6,294.5L265.1,292.7L265.6,291.0L266.1,289.2L266.6,287.4L267.1,285.6L267.6,283.9L268.2,282.1L268.7,280.3L269.3,278.6L269.8,276.8L270.4,275.1L271.0,273.4L271.6,271.6L272.2,269.9L272.8,268.2L273.4,266.5L274.1,264.8L274.7,263.1L275.4,261.4L276.0,259.7L276.7,258.0L277.4,256.4L278.1,254.7L278.8,253.1L279.5,251.4L280.3,249.8L281.0,248.1L281.7,246.5L282.5,244.8L283.3,243.2L284.1,241.6L284.8,240.0L285.6,238.4L286.5,236.8L287.3,235.2L288.1,233.6L289.0,232.1L289.8,230.5L290.7,228.9L291.6,227.4L292.5,225.8L293.4,224.3L294.3,222.8L295.2,221.3L296.1,219.7L297.1,218.2L298.1,216.7L299.0,215.2L300.0,213.7L301.0,212.3L302.0,210.8L303.0,209.3L304.1,207.9L305.1,206.4L306.2,205.0L307.2,203.5L308.3,202.1L309.4,200.7L310.5,199.3L311.6,197.9L312.7,196.5L313.9,195.1L315.0,193.7L316.2,192.4L317.3,191.0L318.5,189.7L319.7,188.4L320.9,187.1L322.2,185.8L323.4,184.5L324.6,183.2L325.9,182.0L327.2,180.7L328.4,179.5L329.7,178.3L331.1,177.2L332.4,176.0L333.7,174.9L335.1,173.7L336.4,172.6L337.8,171.6L339.2,170.5L340.6,169.5L342.0,168.5L343.4,167.5L344.9,166.5L346.3,165.6L347.8,164.7L349.3,163.8L350.8,162.9L352.3,162.1L353.8,161.3L355.4,160.5L356.9,159.7L358.5,159.0L360.1,158.3L361.7,157.6L363.3,157.0L365.0,156.4L366.6,155.8L368.3,155.2L370.0,154.7L371.7,154.2L373.5,153.8L375.2,153.4L377.0,153.0L378.7,152.6L380.5,152.3L382.4,152.0L384.2,151.8L386.1,151.6L384.8,139.2L382.7,139.4L380.6,139.7L378.5,140.0L376.5,140.3L374.4,140.7L372.4,141.2L370.4,141.6L368.4,142.1L366.5,142.7L364.6,143.3L362.6,143.9L360.7,144.6L358.9,145.2L357.0,146.0L355.2,146.7L353.4,147.5L351.6,148.3L349.8,149.2L348.1,150.1L346.3,151.0L344.6,151.9L342.9,152.9L341.3,153.9L339.6,154.9L338.0,156.0L336.4,157.0L334.8,158.1L333.2,159.2L331.6,160.4L330.1,161.5L328.6,162.7L327.1,163.9L325.6,165.2L324.1,166.4L322.7,167.7L321.2,169.0L319.8,170.3L318.4,171.6L317.0,172.9L315.7,174.3L314.3,175.6L313.0,177.0L311.7,178.4L310.4,179.8L309.1,181.2L307.8,182.6L306.6,184.1L305.3,185.5L304.1,187.0L302.9,188.4L301.7,189.9L300.5,191.4L299.3,192.9L298.2,194.4L297.0,195.9L295.9,197.4L294.8,198.9L293.7,200.4L292.6,202.0L291.5,203.5L290.4,205.1L289.4,206.6L288.3,208.2L287.3,209.8L286.3,211.4L285.3,213.0L284.3,214.6L283.3,216.2L282.4,217.8L281.4,219.4L280.5,221.0L279.5,222.6L278.6,224.3L277.7,225.9L276.8,227.6L275.9,229.2L275.0,230.9L274.2,232.6L273.3,234.3L272.5,236.0L271.7,237.6L270.9,239.3L270.1,241.1L269.3,242.8L268.5,244.5L267.7,246.2L267.0,247.9L266.2,249.7L265.5,251.4L264.8,253.2L264.1,254.9L263.4,256.7L262.7,258.5L262.0,260.2L261.3,262.0L260.7,263.8L260.0,265.6L259.4,267.4L258.7,269.2L258.1,271.0L257.5,272.8L256.9,274.6L256.3,276.4L255.8,278.3L255.2,280.1L254.7,281.9L254.1,283.8L253.6,285.6L253.1,287.5L252.5,289.3L252.1,291.2L251.6,293.1L251.1,294.9L250.7,296.8L250.2,298.7L249.8,300.6L249.4,302.5L248.9,304.4L248.5,306.3L248.1,308.2L247.7,310.1L247.4,312.0L247.0,313.9L246.6,315.9L246.3,317.8L245.9,319.7L245.6,321.6L245.3,323.6L245.0,325.5L244.7,327.5L244.4,329.5L244.1,331.4L243.8,333.4L243.6,335.4L243.4,337.4L243.2,339.3L243.1,341.3L242.9,343.3L242.9,345.3L242.8,347.2L242.8,349.2L242.9,351.1L243.0,353.1L243.1,355.0L243.3,357.0L243.5,358.9L243.8,360.8L244.2,362.7L244.7,364.6L245.2,366.4L245.8,368.3L246.4,370.1L247.2,371.8L248.0,373.6L248.9,375.3L249.9,377.0L251.0,378.7L252.2,380.2L253.4,381.8L254.8,383.3L256.3,384.7L257.8,386.1L259.5,387.4L261.2,388.7L263.0,389.9L264.8,391.0L266.7,392.0L268.6,393.0L270.5,394.0L272.5,394.9L274.5,395.7L276.4,396.5L278.4,397.3L280.4,398.0L282.4,398.6L284.3,399.3L286.2,399.9L288.1,400.4L289.9,401.0L291.8,401.5L293.6,402.0L295.4,402.5L297.1,402.9L298.8,403.4L300.6,403.8L302.2,404.3L303.9,404.7L305.6,405.2L307.2,405.7L308.8,406.2L310.5,406.7L312.1,407.3L313.7,407.9L315.2,408.5L316.8,409.2L318.4,409.9L320.0,410.7L321.6,411.5L323.3,412.4Z"/>
<path d="M355.9,153.8L357.6,152.8L359.2,151.9L360.9,151.0L362.5,150.3L364.2,149.6L365.9,149.0L367.5,148.4L369.2,147.9L370.9,147.4L372.6,147.0L374.3,146.7L376.0,146.4L377.7,146.2L379.4,146.1L381.1,145.9L382.8,145.9L384.6,145.9L386.3,145.9L388.0,146.0L389.7,146.1L391.4,146.3L393.1,146.6L394.8,146.8L396.5,147.2L398.2,147.5L399.9,147.9L401.6,148.4L403.3,148.9L405.0,149.4L406.6,150.0L408.3,150.6L410.0,151.2L411.6,151.8L413.3,152.5L414.9,153.2L416.5,154.0L418.2,154.7L419.8,155.6L421.3,156.4L422.9,157.3L424.5,158.2L426.0,159.2L427.5,160.2L429.0,161.2L430.5,162.2L431.9,163.2L433.3,164.3L434.7,165.4L436.1,166.6L437.5,167.7L438.8,168.9L440.1,170.1L441.4,171.3L442.6,172.5L443.8,173.8L445.0,175.0L446.1,176.3L447.3,177.6L448.4,179.0L449.4,180.3L450.5,181.7L451.5,183.0L452.5,184.4L453.5,185.8L454.5,187.3L455.4,188.7L456.3,190.2L457.2,191.7L458.1,193.1L459.0,194.7L459.8,196.2L460.6,197.7L461.5,199.3L462.2,200.9L463.0,202.4L463.8,204.0L464.5,205.7L465.2,207.3L465.9,208.9L466.6,210.6L467.3,212.3L468.0,213.9L468.6,215.6L469.3,217.3L469.9,219.1L470.5,220.8L471.2,222.5L471.8,224.3L472.4,226.1L472.9,227.8L473.5,229.6L474.1,231.4L474.6,233.2L475.2,235.0L475.7,236.8L476.3,238.7L476.8,240.5L477.4,242.3L477.9,244.2L478.4,246.0L478.9,247.9L479.5,249.8L480.0,251.6L480.5,253.5L481.0,255.4L481.5,257.3L482.1,259.2L482.6,261.1L483.1,262.9L483.6,264.8L484.1,266.7L484.6,268.6L485.1,270.5L485.6,272.4L486.0,274.3L486.5,276.2L487.0,278.1L487.4,279.9L487.9,281.8L488.3,283.7L488.8,285.6L489.2,287.5L489.6,289.3L490.0,291.2L490.4,293.1L490.7,295.0L491.1,296.8L491.5,298.7L491.8,300.6L492.1,302.4L492.4,304.3L492.7,306.1L493.0,308.0L493.3,309.8L493.5,311.7L493.7,313.5L493.9,315.3L494.1,317.1L494.3,319.0L494.5,320.8L494.6,322.6L494.7,324.4L494.8,326.2L494.9,328.0L494.9,329.7L494.9,331.5L495.0,333.3L494.9,335.1L494.9,336.8L494.8,338.6L494.7,340.3L494.6,342.0L494.5,343.8L494.3,345.5L494.2,347.2L493.9,348.9L493.7,350.6L493.4,352.3L493.1,353.9L492.8,355.6L492.5,357.3L492.1,358.9L491.7,360.6L491.2,362.2L490.8,363.8L490.3,365.4L489.7,367.0L489.2,368.6L488.6,370.2L487.9,371.8L487.3,373.3L486.6,374.9L485.9,376.4L485.1,377.9L484.3,379.4L483.5,380.8L482.6,382.2L481.7,383.6L480.8,385.0L479.8,386.3L478.8,387.6L477.8,388.9L476.7,390.1L475.6,391.3L474.5,392.4L473.3,393.6L472.0,394.6L470.7,395.7L469.4,396.7L468.0,397.6L466.6,398.5L465.1,399.4L463.6,400.2L462.0,400.9L460.3,401.6L458.6,402.2L456.8,402.8L455.0,403.4L453.0,403.9L455.7,415.5L458.0,415.0L460.3,414.4L462.5,413.8L464.7,413.0L466.8,412.2L468.9,411.3L470.9,410.3L472.8,409.2L474.7,408.1L476.5,406.9L478.3,405.7L480.0,404.4L481.6,403.1L483.2,401.7L484.7,400.3L486.1,398.8L487.5,397.3L488.9,395.7L490.1,394.1L491.4,392.5L492.5,390.8L493.6,389.1L494.7,387.4L495.7,385.7L496.6,383.9L497.5,382.1L498.4,380.3L499.2,378.5L499.9,376.7L500.7,374.9L501.3,373.1L502.0,371.2L502.6,369.4L503.2,367.5L503.7,365.7L504.2,363.8L504.7,361.9L505.1,360.0L505.5,358.2L505.9,356.3L506.2,354.4L506.5,352.5L506.7,350.6L507.0,348.7L507.2,346.8L507.4,344.9L507.5,342.9L507.6,341.0L507.7,339.1L507.8,337.2L507.8,335.2L507.8,333.3L507.8,331.4L507.8,329.4L507.7,327.5L507.7,325.6L507.6,323.6L507.4,321.7L507.3,319.7L507.1,317.8L506.9,315.9L506.7,313.9L506.5,312.0L506.2,310.0L506.0,308.1L505.7,306.1L505.4,304.2L505.1,302.2L504.8,300.3L504.4,298.3L504.1,296.4L503.7,294.4L503.3,292.5L502.9,290.5L502.5,288.6L502.1,286.6L501.7,284.7L501.2,282.7L500.8,280.8L500.3,278.9L499.9,276.9L499.4,275.0L498.9,273.1L498.4,271.1L497.9,269.2L497.4,267.3L496.9,265.4L496.4,263.4L495.9,261.5L495.4,259.6L494.9,257.7L494.4,255.8L493.8,253.9L493.3,252.0L492.8,250.1L492.3,248.2L491.7,246.3L491.2,244.4L490.7,242.6L490.1,240.7L489.6,238.8L489.0,236.9L488.5,235.0L487.9,233.2L487.4,231.3L486.8,229.4L486.2,227.6L485.6,225.7L485.0,223.9L484.4,222.0L483.8,220.2L483.1,218.4L482.5,216.5L481.8,214.7L481.2,212.9L480.5,211.1L479.8,209.3L479.1,207.5L478.3,205.7L477.6,204.0L476.8,202.2L476.0,200.4L475.2,198.7L474.4,197.0L473.6,195.2L472.7,193.5L471.8,191.8L470.9,190.1L470.0,188.5L469.0,186.8L468.1,185.2L467.1,183.5L466.0,181.9L465.0,180.3L463.9,178.7L462.8,177.1L461.7,175.6L460.5,174.0L459.3,172.5L458.1,171.0L456.9,169.5L455.6,168.0L454.3,166.5L452.9,165.1L451.5,163.7L450.1,162.3L448.7,160.9L447.2,159.6L445.7,158.2L444.2,156.9L442.6,155.6L441.0,154.4L439.4,153.2L437.8,152.0L436.1,150.8L434.4,149.7L432.7,148.6L430.9,147.5L429.2,146.5L427.4,145.5L425.6,144.5L423.8,143.5L421.9,142.6L420.0,141.8L418.2,141.0L416.3,140.2L414.4,139.5L412.4,138.8L410.5,138.1L408.5,137.5L406.5,137.0L404.5,136.6L402.5,136.2L400.5,135.8L398.5,135.5L396.5,135.3L394.4,135.1L392.4,134.9L390.4,134.8L388.3,134.8L386.3,134.8L384.3,134.9L382.2,135.0L380.2,135.2L378.2,135.5L376.2,135.8L374.2,136.2L372.2,136.7L370.2,137.2L368.2,137.8L366.2,138.4L364.2,139.1L362.3,139.9L360.4,140.8L358.5,141.7L356.6,142.7L354.7,143.8L352.9,145.0L351.1,146.1Z"/>
<circle cx="385.5" cy="145.4" r="6.2"/>
<circle cx="353.5" cy="150.0" r="4.5"/>
</g>
<path d="M353,150.5 Q359,145 367,145.5 Q361,148.5 355,151.5Z" fill="#fff"/><!--/SHELL-->
  <path fill="#1e91d7" d="M316 411L326 401Q331 403 331 410V421Q331 427.5 337.5 428.5H438.5Q445 427.5 445 421V404L452 400L466 402L471 410L465 418L462.5 420V430H470.5V446.5H308.75V429H316Z"/>
  <!-- circles -->
  <g fill="none" stroke="#c8197f" stroke-width="2.6">
    <circle cx="346" cy="161" r="12.8"/>
    <circle cx="304" cy="194" r="12.8"/>
    <circle cx="446" cy="166" r="12.8"/>
    <circle cx="469" cy="203" r="12.8"/>
    <circle cx="251" cy="325" r="12.8"/>
    <circle cx="260" cy="385" r="12.8"/>
    <circle cx="309" cy="403" r="12.8"/>
    <circle cx="495" cy="378" r="12.8"/>
    <circle cx="462" cy="406.5" r="12.8"/>
  </g>
</svg>
<div class="jp" id="l0" style="top:518px;letter-spacing:-0.1px">シェルの肉厚設計により<span class="p">、</span>複数のフレックス・ポイントをロア・</div>
<div class="jp" id="l1" style="top:553px">フレームにデザイン。</div>
<div class="jp" id="l2" style="top:588px;left:26px;letter-spacing:-0.2px"> シェルの厚みを薄くしたフレックス・ポイントを支点とし<span class="p">、</span>関節</div>
<div class="jp" id="l3" style="top:623px;left:29px;letter-spacing:-0.2px">のように折れ曲がりやすい構造です<span class="p">。</span>広い足幅に対してはシェル</div>
<div class="jp" id="l4" style="top:658px">が自動的に広がり<span class="p">、</span>甲部分の形状を保持したまま<span class="p">、</span>バックルの締め</div>
<div class="jp" id="l5" style="top:693px">込みが可能。</div>
<div class="jp" id="l6" style="top:728px;letter-spacing:-0.13px"> スキーヤーの足にあわせてオートマチックに足幅を調整します。</div>
</body></html>
